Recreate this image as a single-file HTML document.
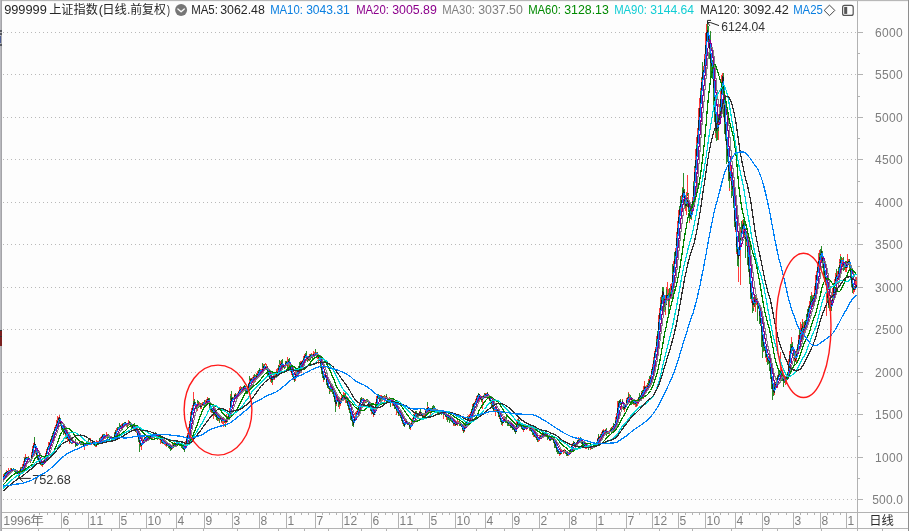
<!DOCTYPE html>
<html lang="zh-CN"><head><meta charset="utf-8"><title>999999 上证指数 日线 前复权</title>
<style>
html,body{margin:0;padding:0;background:#fdfdfd;}
body{width:909px;height:531px;overflow:hidden;position:relative;font-family:"Liberation Sans","Noto Sans CJK SC",sans-serif;}
svg{position:absolute;left:0;top:0;display:block;}
text{font-family:"Liberation Sans","Noto Sans CJK SC",sans-serif;font-size:12px;}
.ax{fill:#7d7d7d;}
.cj{font-family:"Noto Sans CJK SC","Liberation Sans",sans-serif;}
</style></head><body>
<svg width="909" height="531" viewBox="0 0 909 531" role="img" aria-label="上证指数 日线 K线图">
<rect x="0" y="0" width="909" height="531" fill="#fdfdfd"/>
<g id="grid" stroke="#b9b9b9" stroke-width="1" stroke-dasharray="1 3" shape-rendering="crispEdges">
<line x1="3" y1="499.5" x2="857" y2="499.5"/>
<line x1="3" y1="457.5" x2="857" y2="457.5"/>
<line x1="3" y1="414.5" x2="857" y2="414.5"/>
<line x1="3" y1="372.5" x2="857" y2="372.5"/>
<line x1="3" y1="329.5" x2="857" y2="329.5"/>
<line x1="3" y1="287.5" x2="857" y2="287.5"/>
<line x1="3" y1="244.5" x2="857" y2="244.5"/>
<line x1="3" y1="202.5" x2="857" y2="202.5"/>
<line x1="3" y1="159.5" x2="857" y2="159.5"/>
<line x1="3" y1="117.5" x2="857" y2="117.5"/>
<line x1="3" y1="74.5" x2="857" y2="74.5"/>
<line x1="3" y1="32.5" x2="857" y2="32.5"/>
</g>
<g id="frame" shape-rendering="crispEdges">
<rect x="0" y="0" width="909" height="1" fill="#b8b8b8"/>
<rect x="0" y="1" width="909" height="1" fill="#f4f4f4"/>
<rect x="0" y="0" width="1" height="531" fill="#b9b9be"/>
<rect x="1" y="0" width="1" height="531" fill="#a4a4a8"/>
<rect x="857" y="1" width="1" height="530" fill="#b2b2b2"/>
<rect x="2" y="512" width="907" height="1" fill="#b2b2b2"/>
<rect x="0" y="528" width="909" height="1" fill="#b2b2b2"/>
<rect x="908" y="0" width="1" height="531" fill="#8e8e8e"/>
<rect x="0" y="30" width="2" height="2" fill="#55585f"/>
<rect x="0" y="33" width="2" height="2" fill="#55585f"/>
<rect x="0" y="36" width="1" height="7" fill="#4d5d94"/>
<rect x="0" y="44" width="2" height="2" fill="#55585f"/>
<rect x="0" y="330" width="1.5" height="16" fill="#7a2020"/>
<rect x="0" y="330" width="1.5" height="1" fill="#333"/>
<rect x="0" y="336" width="1.5" height="1" fill="#333"/>
<rect x="1.5" y="331" width="0.6" height="15" fill="#6a96c8"/>
<rect x="0" y="465" width="1.4" height="1" fill="#777"/>
<rect x="0" y="470" width="1.4" height="9.5" fill="#d4d0a8"/>
</g>
<g id="yaxis">
<g stroke="#b2b2b2" stroke-width="1" shape-rendering="crispEdges">
<line x1="858" y1="499.5" x2="863" y2="499.5"/>
<line x1="858" y1="457.5" x2="863" y2="457.5"/>
<line x1="858" y1="414.5" x2="863" y2="414.5"/>
<line x1="858" y1="372.5" x2="863" y2="372.5"/>
<line x1="858" y1="329.5" x2="863" y2="329.5"/>
<line x1="858" y1="287.5" x2="863" y2="287.5"/>
<line x1="858" y1="244.5" x2="863" y2="244.5"/>
<line x1="858" y1="202.5" x2="863" y2="202.5"/>
<line x1="858" y1="159.5" x2="863" y2="159.5"/>
<line x1="858" y1="117.5" x2="863" y2="117.5"/>
<line x1="858" y1="74.5" x2="863" y2="74.5"/>
<line x1="858" y1="32.5" x2="863" y2="32.5"/>
<line x1="858" y1="53.5" x2="860" y2="53.5"/>
<line x1="858" y1="96.5" x2="860" y2="96.5"/>
<line x1="858" y1="138.5" x2="860" y2="138.5"/>
<line x1="858" y1="181.5" x2="860" y2="181.5"/>
<line x1="858" y1="223.5" x2="860" y2="223.5"/>
<line x1="858" y1="266.5" x2="860" y2="266.5"/>
<line x1="858" y1="308.5" x2="860" y2="308.5"/>
<line x1="858" y1="351.5" x2="860" y2="351.5"/>
<line x1="858" y1="393.5" x2="860" y2="393.5"/>
<line x1="858" y1="436.5" x2="860" y2="436.5"/>
<line x1="858" y1="478.5" x2="860" y2="478.5"/>
</g>
<text class="ax" x="872.3" y="503.8" textLength="30.6" lengthAdjust="spacing">500.0</text>
<text class="ax" x="875.0" y="461.8" textLength="27.8" lengthAdjust="spacing">1000</text>
<text class="ax" x="875.0" y="418.8" textLength="27.8" lengthAdjust="spacing">1500</text>
<text class="ax" x="875.0" y="376.8" textLength="27.8" lengthAdjust="spacing">2000</text>
<text class="ax" x="875.0" y="333.8" textLength="27.8" lengthAdjust="spacing">2500</text>
<text class="ax" x="875.0" y="291.8" textLength="27.8" lengthAdjust="spacing">3000</text>
<text class="ax" x="875.0" y="248.8" textLength="27.8" lengthAdjust="spacing">3500</text>
<text class="ax" x="875.0" y="206.8" textLength="27.8" lengthAdjust="spacing">4000</text>
<text class="ax" x="875.0" y="163.8" textLength="27.8" lengthAdjust="spacing">4500</text>
<text class="ax" x="875.0" y="121.8" textLength="27.8" lengthAdjust="spacing">5000</text>
<text class="ax" x="875.0" y="78.8" textLength="27.8" lengthAdjust="spacing">5500</text>
<text class="ax" x="875.0" y="36.8" textLength="27.8" lengthAdjust="spacing">6000</text>
</g>
<g id="xaxis">
<g stroke="#b2b2b2" stroke-width="1" shape-rendering="crispEdges">
<line x1="61.5" y1="513" x2="61.5" y2="528"/>
<line x1="88.5" y1="513" x2="88.5" y2="528"/>
<line x1="119.5" y1="513" x2="119.5" y2="528"/>
<line x1="146.5" y1="513" x2="146.5" y2="528"/>
<line x1="176.5" y1="513" x2="176.5" y2="528"/>
<line x1="204.5" y1="513" x2="204.5" y2="528"/>
<line x1="232.5" y1="513" x2="232.5" y2="528"/>
<line x1="259.5" y1="513" x2="259.5" y2="528"/>
<line x1="286.5" y1="513" x2="286.5" y2="528"/>
<line x1="315.5" y1="513" x2="315.5" y2="528"/>
<line x1="342.5" y1="513" x2="342.5" y2="528"/>
<line x1="371.5" y1="513" x2="371.5" y2="528"/>
<line x1="398.5" y1="513" x2="398.5" y2="528"/>
<line x1="429.5" y1="513" x2="429.5" y2="528"/>
<line x1="455.5" y1="513" x2="455.5" y2="528"/>
<line x1="485.5" y1="513" x2="485.5" y2="528"/>
<line x1="512.5" y1="513" x2="512.5" y2="528"/>
<line x1="539.5" y1="513" x2="539.5" y2="528"/>
<line x1="569.5" y1="513" x2="569.5" y2="528"/>
<line x1="596.5" y1="513" x2="596.5" y2="528"/>
<line x1="626.5" y1="513" x2="626.5" y2="528"/>
<line x1="652.5" y1="513" x2="652.5" y2="528"/>
<line x1="678.5" y1="513" x2="678.5" y2="528"/>
<line x1="705.5" y1="513" x2="705.5" y2="528"/>
<line x1="735.5" y1="513" x2="735.5" y2="528"/>
<line x1="762.5" y1="513" x2="762.5" y2="528"/>
<line x1="793.5" y1="513" x2="793.5" y2="528"/>
<line x1="820.5" y1="513" x2="820.5" y2="528"/>
<line x1="846.5" y1="513" x2="846.5" y2="528"/>
<line x1="68.5" y1="513" x2="68.5" y2="515"/>
<line x1="75.5" y1="513" x2="75.5" y2="515"/>
<line x1="82.5" y1="513" x2="82.5" y2="515"/>
<line x1="96.5" y1="513" x2="96.5" y2="515"/>
<line x1="104.5" y1="513" x2="104.5" y2="515"/>
<line x1="112.5" y1="513" x2="112.5" y2="515"/>
<line x1="126.5" y1="513" x2="126.5" y2="515"/>
<line x1="133.5" y1="513" x2="133.5" y2="515"/>
<line x1="140.5" y1="513" x2="140.5" y2="515"/>
<line x1="154.5" y1="513" x2="154.5" y2="515"/>
<line x1="161.5" y1="513" x2="161.5" y2="515"/>
<line x1="169.5" y1="513" x2="169.5" y2="515"/>
<line x1="183.5" y1="513" x2="183.5" y2="515"/>
<line x1="190.5" y1="513" x2="190.5" y2="515"/>
<line x1="198.5" y1="513" x2="198.5" y2="515"/>
<line x1="211.5" y1="513" x2="211.5" y2="515"/>
<line x1="218.5" y1="513" x2="218.5" y2="515"/>
<line x1="226.5" y1="513" x2="226.5" y2="515"/>
<line x1="239.5" y1="513" x2="239.5" y2="515"/>
<line x1="246.5" y1="513" x2="246.5" y2="515"/>
<line x1="253.5" y1="513" x2="253.5" y2="515"/>
<line x1="266.5" y1="513" x2="266.5" y2="515"/>
<line x1="273.5" y1="513" x2="273.5" y2="515"/>
<line x1="280.5" y1="513" x2="280.5" y2="515"/>
<line x1="294.5" y1="513" x2="294.5" y2="515"/>
<line x1="301.5" y1="513" x2="301.5" y2="515"/>
<line x1="308.5" y1="513" x2="308.5" y2="515"/>
<line x1="322.5" y1="513" x2="322.5" y2="515"/>
<line x1="329.5" y1="513" x2="329.5" y2="515"/>
<line x1="336.5" y1="513" x2="336.5" y2="515"/>
<line x1="350.5" y1="513" x2="350.5" y2="515"/>
<line x1="357.5" y1="513" x2="357.5" y2="515"/>
<line x1="364.5" y1="513" x2="364.5" y2="515"/>
<line x1="378.5" y1="513" x2="378.5" y2="515"/>
<line x1="385.5" y1="513" x2="385.5" y2="515"/>
<line x1="392.5" y1="513" x2="392.5" y2="515"/>
<line x1="406.5" y1="513" x2="406.5" y2="515"/>
<line x1="414.5" y1="513" x2="414.5" y2="515"/>
<line x1="422.5" y1="513" x2="422.5" y2="515"/>
<line x1="436.5" y1="513" x2="436.5" y2="515"/>
<line x1="442.5" y1="513" x2="442.5" y2="515"/>
<line x1="449.5" y1="513" x2="449.5" y2="515"/>
<line x1="463.5" y1="513" x2="463.5" y2="515"/>
<line x1="470.5" y1="513" x2="470.5" y2="515"/>
<line x1="478.5" y1="513" x2="478.5" y2="515"/>
<line x1="492.5" y1="513" x2="492.5" y2="515"/>
<line x1="499.5" y1="513" x2="499.5" y2="515"/>
<line x1="506.5" y1="513" x2="506.5" y2="515"/>
<line x1="519.5" y1="513" x2="519.5" y2="515"/>
<line x1="526.5" y1="513" x2="526.5" y2="515"/>
<line x1="533.5" y1="513" x2="533.5" y2="515"/>
<line x1="547.5" y1="513" x2="547.5" y2="515"/>
<line x1="554.5" y1="513" x2="554.5" y2="515"/>
<line x1="562.5" y1="513" x2="562.5" y2="515"/>
<line x1="576.5" y1="513" x2="576.5" y2="515"/>
<line x1="583.5" y1="513" x2="583.5" y2="515"/>
<line x1="590.5" y1="513" x2="590.5" y2="515"/>
<line x1="604.5" y1="513" x2="604.5" y2="515"/>
<line x1="611.5" y1="513" x2="611.5" y2="515"/>
<line x1="619.5" y1="513" x2="619.5" y2="515"/>
<line x1="633.5" y1="513" x2="633.5" y2="515"/>
<line x1="639.5" y1="513" x2="639.5" y2="515"/>
<line x1="646.5" y1="513" x2="646.5" y2="515"/>
<line x1="659.5" y1="513" x2="659.5" y2="515"/>
<line x1="665.5" y1="513" x2="665.5" y2="515"/>
<line x1="672.5" y1="513" x2="672.5" y2="515"/>
<line x1="685.5" y1="513" x2="685.5" y2="515"/>
<line x1="692.5" y1="513" x2="692.5" y2="515"/>
<line x1="699.5" y1="513" x2="699.5" y2="515"/>
<line x1="713.5" y1="513" x2="713.5" y2="515"/>
<line x1="720.5" y1="513" x2="720.5" y2="515"/>
<line x1="728.5" y1="513" x2="728.5" y2="515"/>
<line x1="742.5" y1="513" x2="742.5" y2="515"/>
<line x1="749.5" y1="513" x2="749.5" y2="515"/>
<line x1="756.5" y1="513" x2="756.5" y2="515"/>
<line x1="770.5" y1="513" x2="770.5" y2="515"/>
<line x1="778.5" y1="513" x2="778.5" y2="515"/>
<line x1="786.5" y1="513" x2="786.5" y2="515"/>
<line x1="800.5" y1="513" x2="800.5" y2="515"/>
<line x1="807.5" y1="513" x2="807.5" y2="515"/>
<line x1="814.5" y1="513" x2="814.5" y2="515"/>
<line x1="827.5" y1="513" x2="827.5" y2="515"/>
<line x1="833.5" y1="513" x2="833.5" y2="515"/>
<line x1="840.5" y1="513" x2="840.5" y2="515"/>
<line x1="39.5" y1="513" x2="39.5" y2="515"/>
<line x1="47.5" y1="513" x2="47.5" y2="515"/>
<line x1="54.5" y1="513" x2="54.5" y2="515"/>
</g>
<text class="ax" x="3.23" y="524.9" textLength="27.73" lengthAdjust="spacingAndGlyphs">1996</text>
<text class="ax cj" x="30.04" y="525.3" textLength="13.92" lengthAdjust="spacingAndGlyphs">年</text>
<text class="ax" x="62.5" y="524.9" textLength="6.67" lengthAdjust="spacing">6</text>
<text class="ax" x="89.5" y="524.9" textLength="13.7" lengthAdjust="spacing">11</text>
<text class="ax" x="120.5" y="524.9" textLength="6.67" lengthAdjust="spacing">5</text>
<text class="ax" x="147.5" y="524.9" textLength="13.7" lengthAdjust="spacing">10</text>
<text class="ax" x="177.5" y="524.9" textLength="6.67" lengthAdjust="spacing">4</text>
<text class="ax" x="205.5" y="524.9" textLength="6.67" lengthAdjust="spacing">9</text>
<text class="ax" x="233.5" y="524.9" textLength="6.67" lengthAdjust="spacing">3</text>
<text class="ax" x="260.5" y="524.9" textLength="6.67" lengthAdjust="spacing">8</text>
<text class="ax" x="287.5" y="524.9" textLength="6.67" lengthAdjust="spacing">1</text>
<text class="ax" x="316.5" y="524.9" textLength="6.67" lengthAdjust="spacing">7</text>
<text class="ax" x="343.5" y="524.9" textLength="13.7" lengthAdjust="spacing">12</text>
<text class="ax" x="372.5" y="524.9" textLength="6.67" lengthAdjust="spacing">6</text>
<text class="ax" x="399.5" y="524.9" textLength="13.7" lengthAdjust="spacing">11</text>
<text class="ax" x="430.5" y="524.9" textLength="6.67" lengthAdjust="spacing">5</text>
<text class="ax" x="456.5" y="524.9" textLength="13.7" lengthAdjust="spacing">10</text>
<text class="ax" x="486.5" y="524.9" textLength="6.67" lengthAdjust="spacing">4</text>
<text class="ax" x="513.5" y="524.9" textLength="6.67" lengthAdjust="spacing">9</text>
<text class="ax" x="540.5" y="524.9" textLength="6.67" lengthAdjust="spacing">2</text>
<text class="ax" x="570.5" y="524.9" textLength="6.67" lengthAdjust="spacing">8</text>
<text class="ax" x="597.5" y="524.9" textLength="6.67" lengthAdjust="spacing">1</text>
<text class="ax" x="627.5" y="524.9" textLength="6.67" lengthAdjust="spacing">7</text>
<text class="ax" x="653.5" y="524.9" textLength="13.7" lengthAdjust="spacing">12</text>
<text class="ax" x="679.5" y="524.9" textLength="6.67" lengthAdjust="spacing">5</text>
<text class="ax" x="706.5" y="524.9" textLength="13.7" lengthAdjust="spacing">10</text>
<text class="ax" x="736.5" y="524.9" textLength="6.67" lengthAdjust="spacing">4</text>
<text class="ax" x="763.5" y="524.9" textLength="6.67" lengthAdjust="spacing">9</text>
<text class="ax" x="794.5" y="524.9" textLength="6.67" lengthAdjust="spacing">3</text>
<text class="ax" x="821.5" y="524.9" textLength="6.67" lengthAdjust="spacing">8</text>
<text class="ax" x="847.5" y="524.9" textLength="6.67" lengthAdjust="spacing">1</text>
<text class="cj" x="869.17" y="525.2" fill="#2a2a2a" textLength="24.67" lengthAdjust="spacingAndGlyphs">日线</text>
<g stroke="#b2b2b2" stroke-width="1" shape-rendering="crispEdges">
<line x1="38.5" y1="529" x2="38.5" y2="531"/>
<line x1="69.5" y1="529" x2="69.5" y2="531"/>
<line x1="111.5" y1="529" x2="111.5" y2="531"/>
<line x1="140.5" y1="529" x2="140.5" y2="531"/>
<line x1="173.5" y1="529" x2="173.5" y2="531"/>
<line x1="203.5" y1="529" x2="203.5" y2="531"/>
<line x1="237.5" y1="529" x2="237.5" y2="531"/>
<line x1="278.5" y1="529" x2="278.5" y2="531"/>
<line x1="304.5" y1="529" x2="304.5" y2="531"/>
<line x1="328.5" y1="529" x2="328.5" y2="531"/>
<line x1="361.5" y1="529" x2="361.5" y2="531"/>
<line x1="386.5" y1="529" x2="386.5" y2="531"/>
<line x1="417.5" y1="529" x2="417.5" y2="531"/>
<line x1="476.5" y1="529" x2="476.5" y2="531"/>
<line x1="504.5" y1="529" x2="504.5" y2="531"/>
<line x1="532.5" y1="529" x2="532.5" y2="531"/>
<line x1="564.5" y1="529" x2="564.5" y2="531"/>
<line x1="596.5" y1="529" x2="596.5" y2="531"/>
<line x1="624.5" y1="529" x2="624.5" y2="531"/>
<line x1="659.5" y1="529" x2="659.5" y2="531"/>
<line x1="692.5" y1="529" x2="692.5" y2="531"/>
<line x1="731.5" y1="529" x2="731.5" y2="531"/>
<line x1="762.5" y1="529" x2="762.5" y2="531"/>
<line x1="777.5" y1="529" x2="777.5" y2="531"/>
<line x1="821.5" y1="529" x2="821.5" y2="531"/>
<line x1="857.5" y1="529" x2="857.5" y2="531"/>
<line x1="882.5" y1="529" x2="882.5" y2="531"/>
</g></g>
<g id="candles" stroke-width="1" fill="none" shape-rendering="crispEdges">
<path stroke="#ff3c3c" d="M3.5 474.9V477.1M3.5 474.1V477.0M4.5 474.0V476.8M5.5 474.5V476.1M5.5 471.8V476.3M5.5 471.6V474.7M6.5 472.2V474.4M6.5 470.2V472.6M7.5 471.7V473.0M7.5 470.8V472.0M7.5 471.4V472.9M8.5 470.9V472.7M8.5 468.0V471.5M12.5 468.8V470.4M14.5 469.9V471.1M15.5 469.7V471.7M16.5 471.3V473.5M17.5 473.1V474.1M17.5 472.7V474.1M19.5 475.8V479.1M19.5 472.5V476.6M20.5 467.8V470.2M21.5 468.2V471.5M21.5 469.0V470.0M22.5 468.0V469.0M22.5 466.3V469.6M23.5 462.9V466.0M23.5 461.0V464.5M24.5 460.1V462.4M25.5 454.0V458.5M25.5 457.0V458.4M26.5 456.7V458.1M26.5 456.5V458.0M26.5 457.4V458.5M29.5 460.9V462.3M29.5 460.5V461.5M30.5 460.1V461.5M30.5 458.8V460.9M32.5 449.5V452.8M33.5 442.9V446.5M34.5 439.3V444.8M39.5 460.3V461.3M40.5 462.8V465.4M40.5 462.2V463.6M41.5 463.6V465.8M41.5 464.2V465.4M42.5 462.2V466.9M42.5 462.5V464.4M43.5 461.3V463.7M44.5 461.7V463.9M44.5 459.9V463.9M44.5 458.8V460.9M45.5 452.5V455.9M47.5 448.4V449.9M47.5 446.5V448.2M48.5 442.3V447.8M49.5 442.5V444.6M50.5 440.3V443.0M51.5 437.8V439.6M51.5 436.1V441.2M52.5 435.7V437.9M52.5 432.5V437.0M53.5 430.5V434.2M54.5 427.5V430.6M54.5 426.7V428.6M55.5 425.3V428.8M55.5 426.1V429.4M56.5 422.9V428.0M57.5 419.9V422.9M57.5 418.4V422.3M59.5 415.1V418.5M60.5 424.7V425.7M61.5 425.4V429.5M63.5 427.7V430.4M64.5 431.6V434.0M65.5 434.2V438.7M68.5 436.5V438.7M69.5 439.5V443.0M70.5 440.5V442.2M70.5 441.8V442.8M72.5 440.7V442.7M72.5 440.4V444.1M74.5 441.7V443.2M78.5 443.8V444.8M80.5 441.5V444.2M81.5 443.6V444.7M82.5 442.3V444.5M84.5 444.6V449.7M85.5 442.6V445.7M86.5 442.6V446.1M87.5 443.2V445.6M88.5 443.4V444.4M89.5 442.6V445.1M90.5 443.1V445.2M92.5 440.1V444.4M92.5 440.0V443.5M92.5 440.5V442.3M95.5 443.7V445.2M95.5 445.7V447.0M96.5 440.2V444.9M97.5 441.2V442.9M98.5 441.3V444.0M99.5 438.7V441.0M101.5 438.0V439.0M102.5 434.3V435.7M103.5 434.8V437.1M104.5 434.1V436.5M104.5 434.5V436.3M105.5 435.5V438.8M105.5 435.7V438.0M106.5 432.2V436.4M106.5 435.1V436.7M110.5 437.3V439.4M111.5 437.7V439.0M113.5 437.3V439.4M114.5 435.1V438.3M114.5 432.1V438.9M115.5 431.6V433.2M116.5 431.0V432.0M118.5 427.0V429.0M119.5 426.1V428.5M119.5 426.9V428.2M120.5 425.5V428.1M121.5 423.5V426.4M122.5 424.2V426.1M122.5 422.7V425.8M123.5 423.4V425.4M123.5 422.9V426.3M124.5 423.3V425.3M125.5 422.0V423.8M126.5 422.8V424.3M128.5 423.0V425.6M128.5 423.0V424.1M128.5 421.8V423.6M130.5 423.3V424.8M130.5 422.9V425.7M132.5 426.7V428.5M136.5 430.4V432.6M139.5 440.6V442.8M141.5 444.4V447.4M141.5 443.6V445.8M142.5 441.4V444.7M142.5 440.3V443.2M142.5 439.1V442.8M143.5 438.8V441.5M144.5 437.2V439.2M145.5 437.0V439.4M147.5 437.1V438.7M148.5 436.5V438.9M149.5 437.4V438.4M151.5 435.7V439.2M152.5 437.3V439.0M153.5 435.3V436.5M153.5 434.4V437.0M154.5 435.3V436.9M157.5 434.8V437.0M157.5 434.8V436.8M158.5 436.7V438.5M159.5 437.1V438.4M159.5 436.0V439.5M161.5 440.3V441.8M162.5 441.3V443.5M163.5 442.0V443.3M166.5 444.5V445.8M168.5 442.9V447.4M169.5 445.6V447.3M170.5 448.2V450.0M171.5 447.0V448.5M172.5 446.3V448.9M172.5 445.1V447.0M173.5 444.8V446.9M174.5 444.2V445.8M174.5 441.8V445.6M174.5 443.0V444.1M176.5 442.2V444.7M177.5 441.9V442.9M178.5 441.4V442.5M178.5 441.4V442.4M178.5 441.1V443.7M180.5 443.2V445.8M181.5 444.5V445.5M184.5 447.0V451.3M185.5 445.8V448.6M185.5 446.2V448.1M185.5 440.6V448.7M185.5 441.0V445.4M186.5 442.1V443.3M186.5 440.7V444.0M186.5 438.9V441.6M186.5 436.1V440.1M187.5 432.8V436.8M188.5 427.3V430.5M189.5 425.9V428.5M189.5 420.8V422.8M190.5 418.7V421.6M190.5 411.8V417.5M191.5 412.9V413.9M191.5 410.0V413.2M193.5 406.6V408.1M193.5 401.0V406.0M195.5 402.9V407.1M195.5 402.4V406.4M197.5 406.0V411.0M197.5 402.7V407.1M200.5 406.3V409.1M201.5 405.7V407.1M202.5 402.9V405.7M202.5 401.7V405.3M203.5 402.6V403.8M203.5 401.9V404.4M205.5 405.5V407.0M205.5 400.4V403.4M206.5 400.9V404.0M206.5 398.7V402.3M206.5 399.0V400.7M207.5 399.4V400.7M210.5 406.4V412.1M212.5 409.3V413.4M216.5 414.5V417.2M217.5 416.3V420.0M217.5 415.3V417.6M218.5 417.1V418.4M218.5 413.9V418.2M219.5 417.0V419.0M219.5 416.0V418.5M222.5 420.4V421.8M222.5 419.7V420.7M223.5 419.7V426.9M225.5 421.0V423.6M226.5 414.1V421.0M227.5 416.1V419.3M227.5 416.1V417.5M229.5 412.1V416.4M229.5 407.9V410.4M230.5 394.0V402.1M232.5 397.4V402.2M233.5 397.7V400.4M233.5 397.1V399.6M234.5 394.5V399.2M236.5 394.6V397.0M236.5 394.3V397.1M237.5 393.0V394.3M237.5 393.0V394.0M238.5 390.7V393.2M239.5 389.1V390.8M240.5 386.4V390.6M240.5 389.2V390.2M242.5 387.9V389.4M243.5 386.4V388.0M243.5 387.0V389.2M244.5 385.7V388.7M245.5 389.7V391.9M245.5 390.4V391.6M247.5 390.0V393.9M247.5 386.1V389.3M248.5 382.9V387.5M248.5 383.4V386.4M250.5 378.6V382.0M250.5 377.6V380.5M252.5 377.3V379.5M253.5 377.0V378.6M253.5 374.6V377.5M254.5 375.8V377.0M254.5 375.8V379.5M256.5 375.0V376.7M256.5 373.2V376.4M257.5 373.5V376.0M260.5 368.8V371.7M260.5 368.6V372.3M263.5 364.2V366.8M265.5 366.5V368.3M266.5 366.1V369.5M266.5 365.4V368.9M272.5 378.1V379.1M273.5 376.2V379.5M273.5 373.9V378.3M274.5 376.4V378.2M275.5 373.6V377.5M276.5 373.3V376.6M276.5 369.4V376.4M277.5 372.7V375.7M277.5 370.7V373.2M278.5 367.3V371.9M278.5 367.1V369.0M280.5 362.9V365.0M281.5 362.3V364.2M282.5 363.4V364.4M283.5 365.7V368.1M283.5 364.5V368.1M284.5 365.5V368.4M287.5 362.8V365.3M289.5 364.3V367.7M294.5 378.5V381.8M295.5 374.3V381.0M296.5 371.9V373.1M297.5 369.0V375.0M297.5 370.6V375.1M298.5 367.0V370.1M299.5 364.9V369.5M300.5 361.4V362.6M301.5 363.9V373.3M302.5 360.3V364.2M303.5 359.0V360.7M304.5 356.7V360.6M304.5 355.4V357.4M304.5 353.6V356.6M306.5 354.3V360.1M306.5 355.8V357.8M308.5 356.3V361.0M309.5 355.6V357.8M310.5 353.8V357.1M312.5 354.5V357.9M312.5 353.8V356.6M313.5 353.7V356.1M315.5 353.0V354.0M318.5 357.1V358.7M318.5 356.1V357.9M323.5 377.7V382.3M324.5 376.3V379.6M324.5 373.7V378.2M325.5 374.4V375.4M327.5 385.2V386.2M328.5 385.4V388.2M328.5 385.4V387.7M330.5 385.6V391.5M334.5 393.3V397.7M336.5 397.7V402.7M337.5 396.4V400.0M340.5 397.5V400.8M340.5 399.3V400.5M341.5 394.0V398.4M342.5 396.8V397.8M343.5 394.1V398.4M343.5 396.3V399.6M343.5 391.7V399.9M344.5 393.3V399.5M346.5 395.8V401.5M347.5 403.0V406.1M348.5 407.0V409.5M350.5 411.8V415.0M354.5 418.2V422.0M354.5 415.8V418.8M356.5 411.6V414.0M356.5 411.0V412.8M357.5 410.5V414.6M358.5 405.5V408.8M359.5 403.3V406.2M359.5 401.5V404.9M360.5 400.8V402.4M360.5 399.2V401.0M362.5 399.4V400.5M363.5 399.5V401.0M364.5 398.6V401.5M365.5 400.4V401.9M366.5 399.9V403.0M370.5 406.7V409.0M371.5 411.2V412.2M372.5 409.8V412.5M373.5 413.8V414.8M374.5 408.4V413.5M376.5 398.0V401.1M377.5 394.3V397.7M378.5 394.8V397.9M379.5 397.0V399.2M379.5 395.4V398.9M380.5 395.2V398.9M381.5 395.1V398.6M381.5 395.5V399.2M382.5 396.8V399.1M385.5 397.2V401.2M386.5 397.2V398.6M389.5 397.4V401.0M390.5 399.6V401.2M393.5 402.0V405.7M394.5 404.1V406.2M399.5 414.0V415.8M399.5 410.6V415.5M402.5 421.7V424.2M402.5 421.1V423.5M403.5 422.0V423.5M404.5 424.2V426.4M405.5 422.8V424.6M405.5 421.1V423.9M405.5 420.2V421.2M406.5 419.6V423.8M407.5 423.3V424.3M407.5 422.3V424.7M408.5 423.3V424.5M410.5 425.9V427.8M411.5 424.0V426.0M411.5 422.5V424.0M412.5 420.0V422.8M413.5 414.8V417.1M414.5 415.0V416.9M414.5 414.4V417.1M415.5 412.5V416.2M417.5 412.8V414.9M418.5 413.7V415.6M419.5 411.5V414.2M420.5 411.7V414.4M421.5 413.5V415.5M423.5 414.0V415.0M425.5 408.8V411.7M426.5 408.4V411.2M426.5 409.3V411.9M427.5 408.0V410.9M429.5 409.7V411.2M430.5 408.3V411.3M431.5 409.1V410.5M432.5 407.4V410.5M434.5 408.9V410.6M436.5 409.9V411.9M436.5 410.0V412.9M437.5 409.5V411.7M439.5 411.6V414.3M442.5 413.3V414.3M443.5 411.8V414.9M444.5 412.5V414.4M446.5 414.7V417.4M447.5 416.6V419.7M448.5 415.2V418.0M450.5 418.8V421.0M451.5 418.8V420.1M452.5 419.6V421.7M453.5 422.4V425.6M454.5 422.1V423.4M456.5 422.7V425.0M456.5 421.6V424.5M457.5 422.0V425.6M457.5 420.1V424.0M459.5 423.3V424.3M460.5 424.7V426.3M460.5 424.1V425.1M460.5 424.0V426.3M462.5 429.5V430.5M463.5 430.3V431.4M464.5 425.5V428.0M464.5 424.3V427.9M465.5 422.0V425.3M466.5 420.8V422.3M467.5 419.1V422.0M468.5 414.9V418.7M468.5 416.3V417.3M469.5 415.7V420.2M469.5 416.1V419.4M469.5 413.8V417.8M471.5 411.8V413.6M472.5 409.2V412.0M472.5 403.9V408.8M473.5 402.6V405.6M474.5 402.3V406.0M475.5 398.7V403.8M476.5 398.4V399.7M477.5 395.0V398.2M477.5 394.5V398.6M480.5 397.6V400.4M480.5 397.9V399.6M482.5 397.1V402.3M483.5 394.8V399.4M483.5 394.9V396.6M486.5 394.2V395.2M489.5 400.1V401.1M493.5 409.4V411.1M494.5 408.0V410.9M495.5 409.8V416.3M497.5 409.2V411.1M497.5 409.4V411.5M501.5 419.7V421.3M501.5 419.9V421.0M502.5 421.4V426.2M503.5 420.8V422.1M503.5 420.8V422.8M504.5 418.7V422.0M504.5 418.9V421.1M504.5 416.2V419.4M507.5 421.8V424.2M508.5 421.4V423.9M509.5 424.0V426.3M510.5 423.7V427.6M513.5 427.5V429.0M516.5 427.2V431.3M516.5 425.4V428.8M518.5 416.2V423.1M519.5 422.7V425.0M522.5 428.4V430.2M523.5 426.8V428.6M524.5 428.1V429.3M527.5 427.2V428.2M527.5 426.6V428.5M529.5 427.4V428.6M531.5 430.4V432.0M532.5 430.6V431.6M532.5 433.3V434.4M533.5 433.6V436.6M534.5 435.8V436.9M535.5 435.0V437.9M535.5 434.5V437.2M538.5 438.3V442.3M539.5 438.9V440.1M539.5 437.0V439.3M540.5 435.2V437.2M540.5 436.1V437.1M541.5 435.7V438.7M544.5 433.1V435.1M545.5 432.8V435.3M545.5 435.5V436.6M549.5 439.6V441.1M550.5 439.0V440.0M550.5 438.0V441.1M551.5 435.9V439.2M553.5 439.9V440.9M557.5 449.1V452.0M557.5 449.6V453.0M559.5 452.6V453.6M559.5 453.0V454.6M560.5 451.9V455.1M560.5 450.3V452.0M561.5 451.4V453.4M564.5 450.9V453.2M567.5 453.7V455.5M569.5 450.6V452.2M571.5 446.3V450.0M572.5 443.5V444.5M572.5 443.3V445.1M573.5 442.3V444.3M573.5 441.5V444.3M574.5 442.0V444.6M576.5 443.0V444.0M576.5 442.3V444.9M577.5 439.8V445.0M578.5 439.7V440.7M578.5 436.7V440.9M579.5 438.0V441.6M579.5 438.6V440.3M580.5 440.4V441.9M580.5 439.6V441.5M581.5 440.2V443.5M582.5 442.6V447.4M582.5 442.5V443.8M583.5 443.8V444.9M584.5 444.7V446.5M586.5 446.2V447.9M590.5 445.9V450.0M591.5 446.3V447.8M592.5 446.5V448.3M593.5 445.4V447.2M595.5 443.9V446.2M595.5 443.1V445.1M596.5 442.5V444.8M596.5 443.0V444.6M596.5 442.0V444.4M599.5 437.2V440.2M601.5 434.8V437.5M601.5 433.3V438.2M602.5 431.2V434.1M603.5 429.9V433.2M604.5 430.5V432.7M607.5 431.4V432.8M607.5 431.7V432.7M608.5 431.8V434.3M609.5 430.3V434.8M609.5 430.2V432.6M610.5 428.9V432.1M611.5 427.9V429.6M613.5 422.7V425.9M614.5 423.8V425.6M614.5 423.6V424.6M615.5 416.6V419.5M616.5 415.4V418.9M616.5 413.3V417.2M617.5 405.9V411.4M617.5 400.7V408.7M618.5 403.1V406.2M618.5 401.6V403.3M619.5 401.4V403.8M619.5 400.8V401.9M619.5 400.2V401.5M621.5 404.7V410.6M621.5 402.5V407.6M622.5 400.4V403.5M622.5 399.0V402.2M624.5 407.3V411.6M625.5 404.9V408.1M625.5 403.8V406.8M626.5 401.2V406.3M626.5 400.1V401.8M628.5 396.5V404.1M628.5 394.9V397.9M629.5 394.4V399.2M631.5 397.8V401.5M633.5 401.5V403.9M633.5 402.9V404.9M636.5 400.9V406.8M637.5 399.1V403.4M638.5 398.0V404.1M638.5 397.2V399.2M639.5 396.6V400.1M640.5 394.5V398.0M640.5 396.6V397.6M640.5 395.2V397.4M641.5 394.0V396.3M641.5 392.2V393.4M643.5 391.6V395.9M643.5 389.8V398.7M643.5 386.1V390.9M644.5 381.4V388.4M645.5 386.0V389.8M645.5 386.7V389.4M645.5 386.4V390.8M646.5 385.8V389.6M648.5 378.9V386.6M649.5 378.9V386.2M649.5 377.4V380.0M652.5 363.9V371.3M655.5 347.9V351.2M657.5 333.1V336.4M657.5 331.8V341.5M658.5 318.5V334.0M658.5 317.7V328.0M658.5 315.2V321.3M659.5 314.8V330.4M659.5 311.0V317.8M659.5 307.6V312.8M660.5 304.9V310.1M661.5 304.4V307.7M661.5 298.3V309.9M661.5 295.4V299.8M662.5 287.4V294.6M663.5 297.3V302.7M665.5 299.6V309.2M665.5 295.4V306.9M666.5 287.3V300.0M666.5 288.4V291.9M669.5 294.4V300.1M669.5 293.6V304.0M670.5 283.7V298.0M670.5 289.3V298.1M672.5 273.3V282.4M672.5 270.7V278.1M673.5 266.7V271.6M673.5 260.9V279.4M674.5 256.0V263.3M676.5 241.4V251.5M677.5 225.8V235.2M677.5 228.0V232.4M678.5 213.8V225.3M678.5 209.9V214.3M679.5 205.8V212.8M680.5 200.3V208.8M680.5 195.7V211.1M681.5 201.0V209.4M682.5 189.9V199.3M682.5 188.6V194.0M682.5 187.3V193.2M685.5 200.5V211.2M686.5 194.3V212.3M689.5 210.5V223.3M690.5 209.6V216.7M691.5 206.3V219.6M693.5 188.1V195.5M694.5 173.7V179.5M695.5 168.6V172.2M695.5 163.4V170.2M695.5 148.5V168.8M695.5 152.8V182.5M697.5 133.5V146.3M697.5 128.4V139.8M698.5 118.7V136.4M698.5 120.1V122.8M698.5 114.5V123.6M700.5 91.4V103.7M700.5 88.2V95.4M701.5 77.8V92.4M701.5 77.0V85.6M702.5 66.9V71.2M703.5 65.6V78.4M704.5 63.0V71.8M704.5 57.9V66.7M705.5 48.2V54.8M705.5 39.7V54.0M705.5 39.9V51.7M705.5 32.5V45.0M706.5 32.5V37.6M706.5 29.1V36.9M706.5 23.8V34.2M706.5 32.0V35.4M707.5 32.0V33.0M707.5 32.0V33.0M711.5 60.1V66.4M711.5 64.2V69.9M714.5 100.7V113.5M715.5 126.3V138.3M716.5 124.2V128.2M717.5 123.5V128.3M719.5 112.8V123.8M719.5 110.2V123.2M721.5 86.3V94.5M721.5 75.3V101.1M722.5 75.3V87.6M722.5 74.0V86.7M726.5 137.1V143.6M729.5 170.3V180.7M729.5 176.0V191.2M729.5 168.3V182.6M730.5 171.7V180.5M731.5 185.3V191.3M735.5 224.6V232.1M735.5 225.0V230.9M738.5 259.0V281.9M738.5 256.1V266.8M738.5 253.6V262.6M739.5 239.3V256.1M739.5 239.6V243.4M739.5 222.8V247.2M740.5 233.8V243.7M741.5 227.4V239.1M741.5 224.5V230.5M742.5 221.2V232.6M742.5 219.5V230.7M743.5 220.0V228.9M743.5 221.9V230.8M746.5 239.4V242.1M753.5 298.3V302.6M754.5 296.5V305.2M756.5 299.4V300.6M757.5 303.1V306.6M758.5 302.2V305.0M762.5 339.8V342.9M763.5 342.7V348.4M765.5 347.7V353.0M765.5 353.6V358.1M768.5 359.0V362.2M768.5 355.6V361.4M772.5 383.9V389.0M772.5 387.2V390.7M773.5 391.0V394.1M773.5 391.0V395.5M774.5 381.7V390.7M776.5 379.5V386.1M777.5 375.4V384.5M777.5 374.7V377.9M778.5 374.9V377.1M780.5 352.1V371.4M780.5 369.7V372.3M781.5 366.8V370.1M782.5 373.9V376.8M784.5 377.9V380.2M784.5 377.6V381.0M785.5 379.8V385.0M786.5 374.3V377.2M787.5 371.6V377.9M788.5 363.0V372.5M788.5 358.6V366.5M789.5 352.8V359.9M789.5 351.1V354.9M790.5 348.8V351.8M790.5 345.8V353.6M791.5 345.9V349.5M795.5 358.3V362.4M796.5 352.4V356.4M797.5 346.0V349.9M797.5 343.9V348.6M798.5 340.4V344.1M798.5 334.6V337.6M799.5 333.4V338.6M800.5 331.3V335.1M801.5 325.7V333.8M802.5 318.7V327.8M803.5 322.0V335.8M803.5 325.2V338.9M803.5 324.2V330.7M804.5 324.6V332.2M804.5 322.6V331.2M805.5 320.5V324.8M806.5 321.5V328.4M806.5 318.6V322.3M807.5 311.6V319.1M807.5 311.1V316.9M809.5 303.8V310.2M810.5 300.9V305.2M810.5 300.1V301.8M810.5 298.9V305.5M812.5 294.9V305.2M812.5 298.5V304.9M813.5 296.3V303.3M814.5 295.7V299.8M814.5 289.1V299.1M814.5 286.3V292.9M815.5 280.5V289.6M815.5 275.2V282.1M816.5 275.7V280.7M817.5 262.0V266.8M818.5 264.2V267.9M818.5 253.1V261.9M819.5 253.9V261.8M819.5 250.3V255.8M820.5 248.8V262.5M821.5 246.2V252.1M822.5 256.2V261.3M827.5 291.7V298.1M829.5 301.7V307.3M832.5 290.5V297.3M832.5 287.9V295.1M836.5 269.8V283.5M837.5 278.6V281.4M837.5 271.3V278.0M838.5 267.8V275.1M839.5 265.9V269.7M839.5 259.3V262.3M840.5 253.6V266.3M840.5 255.2V263.1M841.5 258.8V266.2M841.5 259.3V261.6M842.5 257.6V261.2M842.5 257.8V263.4M844.5 261.6V265.4M845.5 264.9V270.6M846.5 262.0V268.4M847.5 261.2V268.1M848.5 261.9V264.9M848.5 259.7V263.7M852.5 284.4V289.7M853.5 288.5V293.7M854.5 287.2V290.3M855.5 287.8V290.2"/>
<path stroke="#2a8c2a" d="M4.5 473.8V476.9M4.5 472.6V476.4M5.5 472.4V474.7M9.5 470.5V471.5M11.5 469.1V470.1M11.5 468.3V470.8M11.5 469.7V471.2M12.5 469.2V470.7M13.5 469.1V471.3M13.5 469.8V470.8M13.5 468.1V470.9M14.5 470.2V471.6M15.5 470.2V471.6M16.5 470.4V474.3M16.5 472.0V473.3M16.5 472.6V474.1M18.5 474.6V477.5M21.5 467.2V469.8M22.5 468.5V469.6M23.5 464.3V465.3M25.5 457.3V458.5M30.5 459.1V462.5M32.5 447.2V448.4M35.5 444.5V448.7M36.5 451.5V456.2M36.5 454.0V458.3M37.5 454.7V456.5M37.5 456.1V458.4M37.5 458.2V459.8M38.5 458.3V459.6M38.5 458.5V459.7M38.5 458.5V461.2M39.5 460.2V461.2M39.5 460.2V463.4M39.5 461.5V463.6M41.5 462.9V465.2M46.5 449.8V452.4M47.5 447.0V450.3M48.5 444.9V445.9M49.5 441.5V443.3M50.5 441.4V442.4M51.5 437.8V440.5M51.5 436.1V439.4M52.5 433.0V437.4M53.5 430.8V433.3M55.5 426.1V427.4M57.5 416.4V423.6M59.5 419.4V422.8M60.5 418.3V424.5M60.5 424.6V426.0M61.5 422.6V428.0M61.5 425.9V429.6M62.5 426.3V430.8M65.5 432.5V434.7M65.5 433.9V435.3M66.5 435.4V436.7M66.5 435.4V437.8M68.5 438.1V440.5M68.5 439.2V440.7M69.5 439.9V441.4M69.5 440.6V442.8M71.5 442.4V443.6M71.5 442.1V444.1M73.5 441.5V442.7M73.5 440.4V442.9M74.5 441.5V442.6M75.5 442.8V443.9M76.5 444.1V445.4M76.5 443.7V445.8M79.5 442.7V443.8M79.5 440.3V443.3M80.5 442.5V445.0M81.5 442.3V444.3M81.5 442.2V445.0M82.5 441.3V442.8M82.5 441.9V445.1M85.5 442.6V443.8M86.5 442.4V445.0M86.5 444.1V445.3M87.5 443.8V445.3M88.5 438.7V444.1M89.5 443.6V444.6M90.5 442.7V444.3M91.5 442.8V444.9M91.5 444.0V445.0M93.5 441.4V442.4M93.5 441.4V444.0M94.5 442.6V445.5M97.5 442.1V444.8M99.5 439.4V440.4M101.5 437.7V439.2M102.5 434.4V437.2M103.5 434.4V436.2M103.5 434.3V437.3M104.5 433.6V435.2M105.5 435.9V436.9M107.5 434.1V436.5M109.5 438.5V440.1M110.5 436.6V439.0M110.5 437.9V439.4M111.5 438.4V439.4M112.5 437.3V438.3M113.5 437.3V440.2M117.5 426.8V430.9M117.5 427.8V429.8M119.5 426.1V427.5M120.5 425.0V428.5M121.5 426.8V429.4M121.5 425.8V428.6M122.5 424.2V425.2M122.5 423.5V429.9M123.5 423.5V424.5M126.5 424.3V425.6M127.5 423.5V425.2M129.5 421.3V422.4M129.5 421.5V425.2M131.5 424.7V426.1M131.5 425.8V429.0M133.5 427.6V428.6M135.5 428.5V430.2M136.5 429.5V431.4M137.5 431.2V433.4M137.5 430.9V435.5M137.5 434.2V436.8M138.5 436.2V437.6M138.5 436.4V438.7M138.5 437.9V440.5M138.5 438.2V441.5M139.5 442.3V444.3M139.5 439.8V444.0M140.5 443.0V444.8M143.5 439.8V440.8M144.5 437.8V441.0M145.5 437.7V438.7M145.5 436.9V438.8M146.5 437.2V438.2M146.5 437.3V438.3M147.5 436.9V438.8M147.5 439.2V440.2M148.5 436.6V439.3M149.5 435.4V437.6M150.5 434.3V437.2M151.5 437.3V439.0M151.5 436.5V438.6M151.5 435.6V436.6M153.5 436.1V437.2M157.5 435.5V440.4M157.5 434.4V437.5M158.5 436.3V439.0M159.5 437.2V438.5M160.5 438.4V440.6M161.5 438.6V442.0M161.5 440.2V442.0M161.5 441.3V442.6M163.5 442.7V444.4M164.5 443.2V444.6M165.5 441.7V444.6M166.5 443.6V446.7M167.5 443.3V445.8M167.5 444.5V445.7M168.5 444.2V445.5M169.5 445.9V447.4M170.5 446.3V450.6M171.5 447.0V449.5M171.5 447.1V449.2M173.5 444.1V445.8M175.5 444.7V445.7M179.5 442.9V444.8M179.5 443.7V444.7M183.5 449.2V450.2M184.5 449.2V450.4M187.5 436.0V439.1M187.5 435.7V436.7M188.5 434.1V435.1M190.5 416.0V417.0M192.5 406.1V409.7M193.5 400.5V402.5M194.5 404.2V405.3M195.5 402.3V407.2M196.5 404.7V406.8M196.5 404.6V408.5M196.5 405.6V407.9M197.5 400.3V405.7M198.5 401.4V404.6M198.5 403.1V408.4M199.5 404.3V406.7M199.5 403.8V406.8M200.5 403.2V408.4M200.5 404.9V408.4M202.5 403.7V405.9M204.5 401.0V405.1M204.5 402.6V405.6M206.5 401.1V403.2M208.5 397.8V404.3M209.5 403.1V407.8M209.5 406.8V410.2M210.5 406.2V408.5M211.5 407.8V411.2M211.5 408.2V411.2M212.5 409.7V410.7M212.5 408.7V412.9M213.5 411.7V414.6M213.5 413.2V415.3M214.5 411.5V414.6M215.5 412.7V416.5M215.5 414.4V415.7M216.5 415.2V416.6M216.5 414.6V419.6M220.5 417.3V420.0M221.5 418.1V421.5M223.5 416.5V420.3M223.5 417.8V420.5M226.5 419.1V420.3M226.5 416.7V419.9M227.5 419.3V421.7M231.5 396.9V399.7M231.5 398.3V399.7M231.5 397.4V403.4M232.5 396.8V399.0M232.5 397.5V399.3M234.5 395.3V397.4M235.5 394.0V395.6M237.5 393.0V398.5M240.5 389.2V390.4M241.5 388.5V390.5M243.5 386.2V389.6M243.5 385.6V389.2M244.5 386.7V387.8M245.5 385.7V389.9M246.5 389.1V391.8M246.5 389.5V393.2M247.5 393.3V394.3M248.5 382.5V385.5M249.5 376.4V383.0M251.5 378.6V379.8M251.5 378.4V381.4M255.5 374.6V379.1M255.5 378.4V380.1M256.5 374.3V376.3M257.5 372.3V375.6M259.5 368.3V373.5M259.5 369.2V372.8M261.5 368.9V370.9M261.5 369.1V374.0M263.5 364.6V367.6M264.5 365.4V367.6M264.5 364.4V369.6M266.5 365.5V369.6M267.5 368.4V371.7M267.5 365.5V375.7M268.5 373.0V375.2M268.5 374.3V376.3M269.5 373.5V377.1M269.5 372.1V377.5M270.5 375.3V379.5M270.5 377.1V378.3M270.5 375.9V380.7M271.5 378.4V380.9M273.5 373.8V377.6M273.5 374.4V376.5M274.5 375.6V378.5M275.5 374.7V377.6M279.5 365.9V367.2M279.5 360.1V366.8M280.5 363.2V365.1M281.5 362.4V364.7M281.5 362.8V367.5M282.5 358.8V365.2M283.5 363.7V367.6M284.5 365.2V366.2M284.5 365.3V369.1M288.5 358.9V361.1M289.5 361.1V364.6M289.5 364.1V371.2M290.5 365.8V370.3M290.5 366.0V372.4M291.5 370.9V373.9M291.5 371.9V374.7M292.5 373.1V377.0M293.5 374.2V377.9M293.5 376.1V379.5M293.5 376.5V380.0M294.5 379.2V382.1M295.5 374.9V378.3M295.5 371.6V374.1M296.5 372.4V374.9M297.5 372.3V373.9M299.5 365.1V367.5M300.5 364.0V365.0M301.5 360.9V364.2M302.5 359.6V361.5M303.5 358.5V359.5M305.5 353.4V356.6M306.5 355.1V359.2M307.5 358.5V362.1M307.5 357.9V360.4M308.5 355.5V359.7M309.5 353.6V360.9M309.5 356.5V359.7M310.5 354.1V359.8M310.5 354.1V356.1M311.5 354.7V356.1M314.5 352.6V355.9M316.5 352.2V354.3M317.5 353.3V358.7M318.5 356.9V357.9M319.5 355.0V359.7M319.5 358.3V361.0M320.5 359.5V363.8M321.5 366.8V372.5M321.5 369.1V374.0M322.5 369.7V374.4M323.5 376.1V378.7M324.5 378.8V380.4M326.5 375.7V382.9M326.5 378.7V380.6M327.5 383.5V386.8M327.5 384.9V387.6M328.5 385.9V387.9M329.5 385.7V394.1M330.5 385.7V388.9M331.5 386.3V389.1M332.5 385.9V391.1M332.5 388.2V390.8M332.5 388.1V390.8M333.5 389.4V392.2M333.5 394.7V397.2M334.5 395.0V398.8M334.5 397.2V398.6M334.5 397.0V402.2M337.5 397.2V400.6M337.5 397.6V400.7M337.5 397.7V399.0M338.5 398.3V402.2M338.5 399.1V400.3M339.5 399.7V405.1M340.5 403.0V404.6M341.5 396.7V399.5M343.5 395.6V397.9M344.5 394.7V397.1M344.5 395.9V397.7M344.5 398.0V399.0M345.5 397.6V400.5M345.5 392.9V398.7M346.5 399.4V401.9M347.5 400.7V406.4M349.5 406.9V410.7M349.5 406.5V413.0M349.5 406.6V409.8M349.5 410.6V411.8M350.5 409.7V414.9M350.5 412.7V419.8M351.5 416.9V419.2M352.5 417.7V421.5M352.5 419.6V422.8M352.5 420.5V426.0M355.5 415.1V416.8M355.5 413.7V416.0M355.5 413.1V414.7M356.5 412.1V413.6M357.5 410.8V413.7M361.5 398.7V400.6M362.5 399.4V400.4M363.5 398.8V401.4M364.5 399.9V401.3M365.5 400.3V401.6M366.5 399.0V402.1M368.5 401.3V403.7M368.5 403.0V404.9M368.5 403.5V405.8M368.5 403.7V404.7M369.5 404.0V407.1M369.5 404.9V406.7M370.5 407.1V408.1M370.5 406.0V410.9M371.5 407.9V412.4M372.5 410.2V411.4M372.5 411.1V413.2M372.5 411.1V414.3M373.5 412.1V416.7M373.5 413.9V415.8M377.5 394.2V396.9M377.5 394.7V397.2M378.5 396.3V399.2M381.5 396.9V398.8M382.5 395.5V398.9M382.5 395.7V397.3M383.5 396.2V397.7M384.5 395.4V400.4M385.5 397.8V400.0M385.5 398.0V399.9M386.5 395.0V396.5M386.5 393.7V398.6M387.5 396.8V401.1M387.5 398.9V400.0M388.5 399.4V402.1M389.5 400.2V401.5M389.5 399.6V400.6M390.5 398.4V406.8M390.5 398.4V401.4M391.5 401.1V402.9M392.5 400.7V402.3M392.5 399.7V404.0M393.5 402.6V405.4M394.5 404.9V406.0M394.5 405.3V408.8M395.5 405.5V407.8M396.5 407.4V410.1M399.5 411.3V414.4M400.5 414.3V415.9M400.5 415.0V418.0M402.5 419.9V422.7M404.5 423.0V426.0M404.5 424.0V425.6M406.5 420.8V424.3M408.5 422.2V425.4M409.5 422.2V425.5M409.5 423.0V426.8M409.5 426.2V428.8M410.5 424.8V428.2M411.5 424.8V426.8M415.5 411.9V416.2M415.5 410.5V413.5M416.5 412.4V413.9M416.5 411.2V415.2M416.5 414.4V415.4M416.5 414.3V416.0M417.5 412.7V414.5M418.5 413.7V415.4M419.5 413.2V414.2M420.5 412.3V414.5M421.5 413.6V416.3M422.5 413.8V414.8M422.5 413.5V414.9M423.5 412.6V414.5M423.5 414.2V415.9M424.5 413.8V415.9M424.5 412.5V413.5M426.5 407.6V411.9M426.5 408.3V410.9M427.5 408.3V409.8M428.5 407.1V408.8M428.5 408.0V410.2M429.5 408.3V410.9M430.5 409.1V410.1M431.5 408.2V412.5M431.5 410.3V413.0M432.5 406.3V408.5M433.5 408.2V409.2M433.5 405.1V408.0M434.5 406.0V409.7M434.5 408.1V411.4M435.5 408.4V411.4M435.5 409.4V411.4M437.5 410.0V412.4M438.5 409.8V412.7M438.5 411.4V414.3M439.5 411.5V413.7M441.5 411.7V413.7M442.5 413.0V414.0M443.5 412.2V414.5M444.5 412.5V413.7M444.5 412.9V414.6M445.5 411.9V415.9M445.5 415.0V417.0M446.5 416.7V420.1M446.5 413.7V417.0M447.5 414.6V421.5M448.5 415.3V417.3M449.5 415.7V422.7M451.5 418.4V421.8M452.5 419.7V422.8M453.5 422.2V424.9M454.5 421.9V424.4M455.5 423.8V425.7M456.5 422.0V424.3M457.5 422.3V424.9M458.5 422.0V423.3M460.5 422.3V425.6M461.5 426.3V427.3M462.5 428.6V430.0M463.5 430.0V432.6M466.5 420.8V422.8M468.5 416.9V418.9M470.5 413.8V416.0M471.5 410.8V413.4M472.5 406.1V408.4M473.5 402.6V405.2M474.5 402.7V408.6M479.5 396.0V397.0M479.5 396.1V399.9M480.5 396.5V398.8M481.5 398.3V400.3M481.5 400.4V402.1M483.5 396.5V398.4M485.5 392.9V396.8M485.5 393.6V394.8M486.5 393.8V396.9M486.5 394.1V397.5M487.5 392.0V395.1M487.5 393.4V394.4M488.5 395.7V397.3M489.5 396.8V400.5M489.5 397.7V400.6M490.5 399.8V403.9M490.5 401.3V402.5M491.5 401.1V403.9M491.5 402.1V404.3M491.5 402.1V406.5M492.5 404.0V405.4M492.5 406.8V407.8M493.5 406.6V410.1M493.5 409.5V411.9M494.5 407.4V410.4M494.5 408.8V410.9M496.5 408.4V411.0M496.5 409.8V410.8M498.5 409.9V414.8M498.5 411.8V415.3M498.5 411.7V417.3M498.5 410.6V415.9M499.5 414.5V418.4M499.5 415.5V418.0M499.5 416.8V418.7M500.5 418.5V420.8M502.5 420.2V423.5M506.5 417.6V421.2M507.5 422.3V426.4M508.5 421.8V423.7M508.5 422.5V425.7M509.5 423.3V424.3M509.5 424.5V426.1M510.5 423.8V426.4M510.5 423.8V425.7M510.5 424.7V428.4M511.5 424.8V428.4M513.5 425.8V428.3M514.5 430.9V432.4M515.5 431.7V433.5M517.5 420.6V423.1M518.5 419.8V421.6M518.5 420.5V425.9M519.5 419.8V424.8M520.5 423.9V425.0M520.5 423.7V425.9M521.5 426.7V427.7M522.5 427.8V428.9M523.5 429.1V432.2M524.5 426.8V428.6M525.5 424.9V427.7M528.5 425.7V428.0M531.5 430.8V432.0M533.5 432.5V434.9M534.5 434.0V436.0M535.5 435.0V437.0M536.5 437.3V438.5M537.5 438.0V440.9M538.5 437.5V440.0M540.5 435.1V436.9M540.5 435.3V436.6M542.5 430.4V432.7M543.5 433.1V434.8M544.5 432.0V434.0M546.5 435.1V436.2M546.5 435.7V436.9M547.5 434.8V436.5M547.5 435.5V440.2M548.5 437.7V439.4M549.5 438.4V440.1M550.5 439.3V441.4M551.5 438.1V439.6M552.5 436.0V438.4M553.5 440.1V441.1M554.5 441.0V443.1M554.5 442.2V444.5M554.5 443.6V448.1M555.5 443.8V445.0M555.5 442.8V446.5M555.5 446.2V448.0M556.5 448.8V451.6M558.5 449.2V452.0M558.5 451.4V453.9M559.5 453.5V455.2M561.5 449.2V451.6M561.5 451.3V453.6M562.5 450.3V451.9M562.5 450.0V451.9M563.5 450.4V451.4M563.5 449.6V452.4M564.5 451.0V452.0M564.5 449.5V451.2M566.5 451.9V453.2M566.5 453.6V455.3M567.5 452.7V455.5M568.5 453.7V455.5M574.5 442.6V445.7M575.5 443.5V444.5M576.5 441.5V444.2M578.5 439.1V441.6M579.5 439.0V440.3M580.5 437.2V441.0M581.5 439.2V442.5M581.5 440.1V443.6M582.5 441.3V444.6M582.5 443.2V444.3M583.5 442.7V445.9M584.5 443.2V445.7M584.5 444.8V445.8M586.5 446.3V447.6M588.5 447.0V449.6M591.5 446.0V448.6M591.5 445.8V447.8M592.5 446.6V448.4M592.5 448.0V449.0M594.5 444.5V446.5M595.5 443.4V445.3M596.5 442.2V444.7M597.5 439.3V440.5M598.5 435.9V437.5M598.5 434.1V439.0M603.5 430.5V432.3M604.5 430.2V432.8M605.5 429.4V431.8M605.5 430.4V432.1M606.5 429.3V435.0M612.5 428.3V429.4M612.5 427.1V430.3M613.5 423.0V426.4M618.5 401.2V403.1M619.5 399.8V402.7M620.5 399.2V404.2M620.5 399.7V403.5M622.5 399.6V401.9M622.5 401.1V403.4M623.5 405.8V410.0M623.5 407.4V409.5M623.5 408.1V409.8M624.5 408.0V409.0M624.5 407.1V408.2M626.5 398.6V399.6M629.5 396.9V399.8M630.5 394.9V398.2M630.5 397.0V398.6M631.5 397.6V404.6M632.5 399.8V400.8M633.5 400.7V403.9M635.5 400.8V404.9M635.5 400.1V406.6M636.5 402.7V405.7M637.5 400.0V403.8M639.5 393.4V398.6M641.5 391.2V393.6M642.5 390.7V393.1M642.5 391.0V394.8M644.5 386.0V388.4M644.5 385.7V391.2M645.5 387.1V388.4M646.5 384.7V391.2M647.5 383.8V388.1M647.5 383.0V387.4M648.5 380.6V384.1M649.5 375.6V380.7M650.5 375.7V377.9M651.5 370.5V374.8M651.5 368.5V376.4M652.5 364.8V367.7M653.5 363.4V366.5M655.5 349.2V350.2M657.5 333.1V339.1M659.5 317.1V318.9M663.5 286.9V297.7M664.5 294.6V304.8M666.5 288.5V298.3M666.5 291.4V301.7M667.5 293.0V298.4M667.5 288.3V298.2M668.5 297.3V313.3M672.5 263.9V273.9M679.5 206.9V216.3M680.5 195.5V206.8M684.5 188.8V196.6M684.5 191.4V206.0M684.5 200.4V204.6M685.5 202.8V208.0M685.5 200.8V208.2M686.5 203.9V210.8M687.5 201.7V206.4M688.5 199.5V206.1M688.5 193.1V210.0M688.5 205.1V211.9M689.5 218.9V220.0M690.5 208.9V219.0M690.5 215.0V218.7M694.5 165.6V170.4M697.5 137.1V142.9M701.5 78.1V96.8M702.5 63.3V76.4M703.5 69.7V79.5M703.5 72.4V77.6M709.5 37.1V51.7M709.5 39.6V54.9M709.5 50.3V59.2M710.5 61.5V64.4M712.5 59.6V77.7M712.5 65.3V75.2M712.5 70.0V78.5M713.5 71.1V85.9M714.5 100.5V109.7M714.5 103.4V122.3M719.5 116.7V121.3M720.5 105.8V108.8M721.5 86.8V97.1M722.5 72.7V89.4M723.5 74.6V84.4M723.5 89.1V116.7M724.5 112.1V119.5M724.5 121.7V133.9M725.5 120.4V134.8M725.5 131.6V133.8M725.5 131.4V140.9M726.5 136.4V148.4M726.5 139.4V163.5M727.5 149.7V152.9M727.5 141.6V161.6M728.5 156.3V165.9M728.5 165.3V173.5M729.5 172.1V187.7M730.5 163.9V176.0M731.5 176.1V197.6M732.5 186.2V196.4M732.5 182.9V189.4M733.5 199.6V206.6M733.5 198.3V208.1M734.5 204.3V215.2M734.5 209.5V218.9M737.5 248.1V254.4M737.5 249.5V257.2M740.5 227.4V258.3M743.5 221.8V228.8M744.5 221.9V232.3M744.5 226.6V237.4M745.5 232.4V237.4M745.5 240.8V257.7M746.5 238.7V246.0M747.5 237.1V246.3M747.5 244.3V253.1M748.5 249.2V263.5M748.5 263.1V267.9M748.5 264.3V271.6M748.5 266.0V269.8M749.5 268.5V278.2M750.5 282.6V290.7M750.5 286.9V293.5M750.5 290.3V299.3M751.5 295.5V298.6M752.5 298.8V304.1M752.5 305.3V313.3M753.5 306.0V311.1M753.5 296.7V307.0M754.5 295.4V306.3M755.5 295.4V300.1M755.5 296.2V301.4M756.5 295.5V303.1M758.5 303.0V309.1M759.5 310.9V317.8M760.5 315.9V320.4M760.5 315.7V320.6M760.5 320.6V326.1M761.5 319.9V326.0M761.5 326.6V332.0M761.5 327.6V346.8M762.5 334.4V339.5M762.5 338.9V343.5M764.5 341.8V347.3M764.5 349.0V350.7M765.5 345.6V353.3M765.5 351.7V357.3M766.5 353.9V360.8M769.5 355.0V362.3M770.5 370.4V377.0M770.5 372.7V379.0M771.5 373.5V379.4M771.5 377.8V383.6M772.5 389.0V393.4M773.5 388.8V395.2M773.5 390.4V396.4M775.5 382.4V385.8M781.5 368.0V372.5M781.5 372.1V378.9M781.5 373.4V381.0M782.5 373.2V376.4M782.5 376.5V381.0M783.5 380.6V384.7M784.5 377.5V382.7M786.5 375.9V378.7M787.5 371.6V375.6M787.5 375.2V379.5M791.5 340.6V349.1M793.5 348.0V356.3M793.5 351.0V353.2M794.5 350.6V365.3M794.5 359.5V362.3M794.5 358.7V361.0M795.5 356.6V362.0M795.5 353.0V362.1M799.5 329.0V338.3M802.5 328.6V342.0M805.5 319.7V325.3M806.5 314.0V319.4M807.5 308.9V321.3M809.5 306.1V309.3M812.5 296.8V301.0M812.5 298.0V306.4M817.5 270.2V274.9M818.5 262.1V267.0M819.5 252.7V259.1M819.5 256.6V263.0M820.5 249.6V257.6M821.5 253.4V259.2M822.5 250.5V259.6M822.5 257.1V267.4M824.5 270.1V274.2M825.5 282.3V284.3M826.5 281.9V287.2M827.5 287.5V292.8M828.5 301.5V306.8M828.5 299.2V304.3M830.5 300.4V305.3M830.5 307.2V311.0M831.5 305.5V308.8M833.5 283.5V291.4M833.5 283.3V289.0M834.5 285.0V286.3M836.5 270.8V276.3M836.5 274.0V280.5M837.5 281.0V282.3M838.5 266.8V273.3M839.5 262.1V266.5M840.5 260.9V262.9M840.5 256.1V266.3M841.5 256.8V262.4M841.5 257.6V261.7M843.5 257.1V262.6M843.5 258.7V270.8M843.5 264.3V266.3M844.5 262.2V268.6M845.5 260.7V271.5M846.5 261.1V267.0M847.5 259.0V264.8M848.5 260.6V263.6M849.5 258.7V265.8M849.5 261.3V267.8M851.5 274.2V279.4M852.5 284.2V293.1M852.5 285.2V290.0M853.5 285.4V287.3M853.5 284.9V291.7M854.5 285.8V291.2"/>
<path stroke="#ff3c3c" d="M3.5 475.7V478.0M3.5 475.8V477.4M6.5 470.8V473.5M8.5 470.4V471.6M9.5 471.3V472.3M10.5 470.3V471.4M10.5 469.9V471.1M10.5 469.7V471.2M10.5 468.3V470.3M11.5 469.3V470.4M12.5 469.8V471.4M13.5 468.6V470.7M15.5 470.7V471.7M19.5 470.9V474.6M19.5 470.2V471.4M20.5 469.0V471.8M20.5 466.8V470.0M21.5 468.3V470.9M22.5 463.6V468.5M24.5 458.3V460.0M24.5 457.1V460.6M27.5 458.5V459.5M27.5 456.7V458.7M28.5 458.1V459.3M28.5 456.4V459.0M30.5 459.5V461.7M31.5 457.0V460.8M31.5 453.4V459.0M31.5 453.2V456.0M31.5 452.2V453.9M32.5 449.0V450.0M32.5 445.6V449.6M33.5 446.6V448.0M33.5 444.2V446.6M34.5 442.5V443.5M36.5 452.5V456.3M38.5 458.8V460.0M40.5 462.1V463.7M42.5 462.1V463.5M43.5 462.3V464.9M44.5 458.4V460.2M45.5 457.2V459.1M45.5 455.4V458.6M45.5 454.5V459.1M46.5 449.4V455.0M46.5 450.4V451.9M46.5 449.0V452.1M48.5 445.3V447.9M49.5 444.2V448.6M49.5 441.9V443.2M50.5 439.2V442.7M52.5 433.8V436.4M53.5 431.9V435.4M54.5 428.6V431.3M54.5 429.0V431.3M55.5 425.0V429.4M56.5 421.6V424.9M56.5 420.2V423.3M57.5 415.5V420.9M58.5 417.2V420.8M58.5 417.2V418.5M62.5 426.9V430.2M62.5 428.1V430.0M64.5 432.6V433.7M64.5 430.8V433.4M67.5 437.0V440.6M67.5 436.3V437.9M69.5 441.7V443.7M70.5 441.0V442.8M71.5 441.7V443.9M72.5 441.0V442.3M73.5 441.0V443.0M74.5 441.4V442.7M76.5 443.7V445.1M77.5 443.6V445.9M77.5 444.0V445.0M78.5 442.7V444.5M78.5 442.8V444.0M79.5 440.8V443.2M79.5 441.3V443.8M80.5 443.2V444.2M81.5 442.5V443.8M83.5 444.6V445.6M84.5 444.2V445.3M85.5 442.8V445.3M86.5 443.6V446.0M87.5 444.1V445.5M87.5 444.0V446.1M88.5 443.9V444.9M88.5 441.0V444.7M90.5 438.0V443.7M91.5 442.1V444.7M91.5 442.5V444.8M94.5 443.4V444.5M94.5 444.0V445.2M96.5 444.5V446.9M96.5 443.7V445.3M96.5 442.6V445.4M97.5 442.6V444.8M97.5 442.2V443.4M98.5 440.5V443.0M99.5 438.0V439.8M100.5 439.3V440.4M100.5 439.1V440.8M100.5 437.3V442.0M101.5 437.2V440.0M101.5 436.1V439.2M102.5 433.6V441.6M103.5 436.0V437.2M106.5 435.1V437.3M107.5 434.2V437.2M107.5 435.3V437.5M108.5 435.9V437.1M109.5 437.7V440.7M110.5 438.3V439.3M111.5 438.6V440.1M112.5 437.5V440.2M112.5 437.3V438.3M113.5 438.4V440.4M113.5 438.1V440.2M114.5 437.4V438.4M115.5 432.2V434.7M115.5 430.1V432.9M116.5 427.8V432.4M118.5 427.9V429.8M120.5 426.4V428.6M121.5 425.7V427.4M124.5 422.7V424.6M124.5 421.7V426.0M126.5 423.6V426.5M127.5 423.5V424.5M128.5 420.1V423.1M129.5 421.8V423.8M131.5 425.1V426.1M132.5 425.5V428.0M132.5 426.4V428.0M133.5 426.7V428.0M133.5 424.7V429.8M134.5 428.6V430.8M135.5 429.3V432.1M136.5 430.0V431.3M136.5 429.8V430.9M139.5 441.9V444.8M140.5 444.4V447.3M141.5 445.0V446.0M143.5 439.1V440.6M143.5 439.2V440.8M144.5 438.7V441.5M144.5 438.0V440.5M146.5 437.1V438.3M146.5 437.2V440.0M147.5 438.2V440.0M149.5 436.4V437.9M150.5 435.7V437.8M152.5 435.4V437.6M153.5 436.2V437.8M154.5 434.8V436.2M154.5 434.0V437.3M155.5 434.9V436.1M155.5 434.0V435.7M155.5 432.6V435.7M156.5 435.7V436.7M159.5 437.6V439.2M160.5 439.7V443.7M160.5 438.4V440.9M162.5 441.5V442.7M162.5 442.4V443.4M163.5 443.0V444.3M164.5 441.4V444.5M164.5 442.7V444.2M165.5 441.5V444.0M165.5 442.5V446.3M166.5 443.1V447.4M167.5 444.1V445.1M168.5 444.5V445.7M170.5 446.2V448.9M172.5 443.7V445.7M173.5 444.6V446.0M175.5 442.5V444.4M176.5 443.4V446.9M176.5 443.2V444.4M176.5 443.9V444.9M177.5 442.6V444.4M177.5 442.1V444.2M177.5 441.8V442.8M178.5 441.6V443.0M180.5 443.6V444.9M181.5 444.6V448.0M182.5 444.7V445.7M187.5 434.6V438.9M188.5 431.6V435.2M188.5 429.8V433.2M189.5 424.2V428.2M189.5 421.9V424.9M190.5 416.7V420.8M191.5 408.3V411.6M191.5 408.7V409.8M192.5 407.1V410.7M192.5 404.7V409.5M193.5 403.6V407.2M195.5 403.1V405.6M196.5 405.0V406.6M197.5 402.9V411.4M198.5 403.4V406.9M199.5 402.0V406.4M201.5 405.4V409.0M201.5 403.1V408.7M201.5 404.1V407.6M202.5 404.6V405.9M203.5 401.5V405.6M204.5 400.5V402.2M205.5 403.2V406.4M205.5 399.6V403.5M207.5 399.3V402.0M207.5 397.2V400.1M207.5 398.2V400.6M208.5 399.0V401.9M210.5 405.4V411.6M211.5 408.9V412.6M213.5 411.2V418.5M214.5 412.1V415.8M214.5 411.5V413.4M215.5 413.6V415.2M218.5 417.5V420.1M218.5 418.0V420.6M220.5 417.7V418.9M220.5 417.9V419.8M221.5 421.0V423.2M222.5 420.5V423.8M222.5 418.7V422.3M223.5 418.2V419.7M224.5 419.2V420.8M224.5 420.0V421.9M224.5 420.0V421.7M225.5 420.0V422.0M226.5 418.8V422.9M228.5 413.4V417.7M228.5 413.4V416.2M229.5 415.8V418.7M229.5 407.9V414.5M230.5 404.9V408.5M230.5 400.0V405.3M231.5 397.0V400.7M232.5 398.4V399.4M234.5 394.6V396.4M234.5 394.2V399.2M235.5 393.7V396.2M236.5 395.3V398.2M236.5 395.5V396.5M237.5 393.4V397.0M238.5 393.0V394.4M238.5 393.0V395.4M238.5 391.3V393.7M239.5 390.6V395.5M239.5 387.3V392.3M239.5 388.0V389.3M241.5 387.5V391.0M241.5 388.2V389.5M242.5 386.9V389.9M242.5 386.5V388.8M244.5 385.5V388.0M247.5 387.9V391.9M248.5 383.2V386.6M249.5 380.4V386.1M249.5 380.3V382.7M250.5 377.7V379.6M251.5 379.8V382.7M252.5 378.2V382.0M252.5 376.6V381.3M253.5 377.0V382.4M255.5 378.9V381.6M255.5 376.3V379.8M257.5 371.3V375.2M258.5 372.8V376.1M258.5 370.6V373.2M259.5 369.4V374.4M260.5 368.5V372.4M261.5 369.2V371.3M261.5 370.6V373.8M262.5 368.6V371.9M262.5 366.3V370.9M263.5 367.1V369.8M263.5 364.9V367.8M265.5 367.3V369.2M266.5 363.6V368.3M268.5 374.2V377.2M268.5 375.0V376.0M270.5 375.5V382.0M272.5 376.1V383.1M272.5 376.4V384.9M274.5 375.1V379.6M274.5 374.4V376.6M277.5 373.3V377.0M277.5 367.9V372.7M279.5 365.6V366.6M279.5 364.2V367.0M280.5 361.2V365.8M285.5 364.1V368.0M285.5 362.1V366.4M286.5 361.4V365.8M286.5 362.0V364.3M287.5 363.0V365.7M287.5 357.3V363.0M288.5 361.1V368.5M288.5 360.2V361.8M290.5 367.1V371.7M291.5 369.7V374.8M292.5 371.9V374.6M293.5 377.1V380.2M294.5 377.1V378.6M295.5 372.5V376.6M296.5 372.3V374.6M296.5 371.0V374.3M297.5 370.4V373.3M298.5 369.3V372.1M298.5 368.4V372.2M299.5 365.3V370.3M300.5 362.3V365.8M301.5 360.9V362.9M302.5 360.0V362.5M303.5 356.3V360.1M304.5 354.1V358.6M305.5 354.2V356.1M307.5 356.6V361.3M308.5 356.5V361.1M309.5 354.1V358.1M310.5 355.0V356.0M311.5 353.0V356.4M312.5 354.2V359.5M313.5 350.7V355.7M313.5 352.1V355.6M314.5 353.9V355.9M314.5 352.4V354.8M314.5 352.2V355.6M315.5 352.1V354.9M316.5 352.3V354.4M317.5 356.9V358.8M318.5 355.3V363.9M320.5 361.9V363.2M322.5 370.7V374.1M322.5 373.6V376.7M329.5 386.1V390.6M329.5 389.0V390.3M330.5 388.2V389.6M331.5 385.3V390.4M335.5 399.9V404.0M336.5 402.3V406.1M336.5 403.7V405.2M336.5 401.2V404.5M339.5 403.2V405.5M339.5 403.1V404.5M340.5 399.0V405.7M341.5 397.3V400.1M341.5 396.8V397.8M342.5 396.3V397.5M345.5 396.4V399.7M345.5 397.1V402.9M348.5 408.0V409.0M353.5 423.6V425.9M353.5 420.5V423.9M354.5 417.7V419.5M354.5 415.9V418.4M355.5 411.9V415.1M356.5 411.4V414.7M357.5 410.6V414.3M357.5 408.3V411.6M358.5 405.9V408.9M358.5 404.7V405.7M359.5 403.5V405.4M359.5 402.8V405.7M360.5 400.1V403.4M361.5 397.6V400.7M362.5 398.4V401.0M364.5 401.4V402.4M364.5 398.9V401.8M366.5 399.6V402.6M366.5 399.8V402.4M367.5 399.9V401.7M367.5 399.4V401.6M369.5 404.8V408.1M371.5 411.1V413.6M373.5 412.5V415.0M374.5 414.3V415.3M374.5 411.3V414.4M375.5 404.9V410.6M375.5 403.3V406.8M375.5 401.8V404.9M376.5 400.4V403.2M376.5 398.8V403.7M376.5 396.0V399.8M377.5 396.2V397.4M380.5 396.5V399.5M381.5 396.7V397.7M382.5 397.6V400.9M384.5 395.9V401.6M384.5 395.6V399.1M385.5 395.8V398.4M386.5 395.6V397.8M387.5 399.0V400.0M388.5 401.4V402.4M388.5 399.7V403.3M389.5 399.0V402.4M390.5 398.3V402.2M392.5 401.0V405.8M393.5 403.4V404.5M396.5 410.8V411.8M396.5 409.0V415.4M397.5 410.9V411.9M397.5 409.7V412.5M398.5 412.6V413.8M398.5 410.9V415.0M398.5 412.9V416.1M401.5 416.2V417.5M401.5 416.5V419.0M402.5 419.5V420.7M404.5 424.5V426.2M406.5 422.0V424.1M407.5 422.1V423.3M408.5 421.9V423.6M410.5 425.9V429.3M410.5 425.8V428.8M411.5 421.4V423.3M412.5 419.9V422.7M412.5 418.5V422.5M412.5 418.3V422.8M413.5 417.3V419.0M413.5 417.1V419.0M414.5 413.4V416.7M415.5 412.6V414.1M418.5 413.7V414.7M419.5 411.3V414.8M419.5 410.8V412.1M422.5 414.2V416.4M423.5 414.3V416.6M424.5 413.4V415.6M424.5 413.4V414.5M425.5 410.6V416.5M425.5 409.8V413.6M427.5 407.1V408.1M427.5 405.9V409.1M429.5 409.7V412.2M430.5 407.9V414.6M431.5 408.6V412.1M432.5 408.1V409.8M433.5 407.8V409.9M435.5 409.2V410.7M435.5 408.2V411.1M436.5 410.1V412.2M438.5 411.2V413.5M440.5 413.1V414.1M440.5 411.8V413.4M441.5 411.8V413.9M441.5 411.5V413.6M443.5 412.6V418.6M444.5 412.1V413.9M445.5 413.8V414.8M446.5 414.2V420.3M449.5 416.2V418.1M451.5 417.6V421.4M454.5 423.8V425.7M454.5 419.9V425.4M455.5 422.4V425.9M458.5 421.0V424.1M459.5 422.6V425.1M461.5 426.3V427.3M464.5 428.8V432.4M464.5 426.5V430.8M465.5 424.0V425.5M465.5 423.4V425.9M466.5 422.3V423.3M466.5 420.6V423.8M467.5 418.3V419.7M468.5 417.8V421.1M470.5 413.2V415.7M470.5 412.0V415.3M471.5 411.1V412.9M472.5 408.2V411.6M473.5 405.7V408.5M474.5 403.0V406.5M474.5 401.8V402.9M475.5 401.6V403.1M475.5 399.3V404.6M476.5 399.6V402.3M476.5 396.3V399.8M476.5 396.9V399.5M477.5 396.5V400.1M478.5 395.2V396.6M478.5 393.1V396.3M478.5 393.0V394.6M479.5 397.8V400.6M480.5 395.2V399.9M482.5 395.7V408.6M484.5 394.5V396.4M485.5 393.1V397.3M485.5 394.1V395.6M486.5 393.1V394.2M487.5 392.7V395.5M488.5 396.9V399.2M489.5 399.0V400.0M490.5 399.9V402.7M491.5 401.0V404.0M494.5 408.6V410.5M495.5 408.6V411.3M495.5 408.3V411.8M495.5 406.5V409.3M499.5 416.1V417.6M500.5 419.0V422.4M502.5 421.7V422.7M503.5 417.9V420.8M504.5 418.1V420.6M505.5 419.3V422.5M505.5 419.2V420.7M506.5 417.4V421.4M511.5 423.8V427.0M511.5 425.1V427.2M512.5 427.1V428.7M514.5 427.7V429.7M515.5 431.6V432.7M515.5 429.1V434.4M516.5 423.7V426.0M516.5 420.3V424.7M517.5 419.3V422.3M517.5 421.4V422.7M519.5 421.4V423.5M523.5 427.5V430.7M523.5 428.2V431.7M524.5 427.0V429.2M524.5 426.0V427.6M525.5 426.2V428.2M526.5 427.2V429.8M526.5 426.6V428.4M527.5 426.2V428.0M528.5 425.1V426.2M529.5 428.0V431.1M529.5 423.7V429.8M530.5 427.0V428.2M531.5 430.6V432.0M535.5 435.0V436.1M536.5 435.7V437.7M537.5 439.8V440.8M538.5 438.5V440.2M538.5 437.9V439.3M539.5 438.2V440.6M539.5 435.1V438.6M541.5 436.8V438.4M541.5 434.1V436.3M542.5 431.0V435.7M543.5 434.1V435.8M543.5 433.0V435.3M544.5 433.8V437.0M546.5 434.5V436.0M551.5 436.9V439.1M554.5 440.2V442.4M555.5 444.0V445.9M556.5 446.6V448.4M556.5 447.7V448.7M560.5 452.6V453.8M560.5 449.4V453.4M561.5 449.6V451.3M563.5 450.3V454.4M564.5 448.8V453.3M565.5 451.2V452.9M567.5 455.2V456.2M568.5 452.8V455.5M569.5 452.1V453.4M569.5 451.9V453.2M569.5 450.8V453.6M570.5 449.7V451.7M570.5 449.7V450.7M570.5 449.1V452.4M571.5 448.4V449.4M571.5 445.1V447.9M571.5 444.4V446.2M572.5 442.7V446.3M573.5 442.2V443.9M575.5 443.4V444.4M577.5 442.5V444.9M577.5 440.6V442.4M578.5 438.5V441.6M579.5 440.2V442.1M585.5 444.7V449.0M586.5 446.7V448.6M586.5 446.5V447.6M587.5 446.5V447.5M588.5 447.4V448.4M588.5 446.1V447.6M589.5 446.1V448.1M590.5 446.4V448.9M590.5 445.7V447.8M593.5 446.0V448.0M593.5 446.3V447.7M593.5 446.3V447.4M594.5 444.2V445.6M594.5 443.9V446.0M595.5 442.6V446.1M597.5 439.1V443.2M597.5 438.2V441.0M597.5 437.6V440.0M598.5 434.6V439.2M599.5 436.4V439.0M599.5 436.8V438.0M600.5 434.4V438.6M600.5 435.2V437.3M601.5 432.3V439.9M601.5 432.5V434.9M602.5 431.4V433.6M602.5 429.5V431.7M603.5 428.9V433.3M604.5 431.5V433.0M604.5 429.6V431.7M605.5 429.8V432.0M605.5 429.1V431.8M606.5 430.8V432.6M607.5 432.0V433.3M609.5 430.1V435.4M610.5 429.3V431.7M610.5 428.4V430.7M611.5 429.0V432.1M612.5 428.5V431.5M612.5 426.2V428.6M613.5 426.2V427.9M613.5 425.7V427.1M614.5 424.3V426.0M614.5 424.5V425.7M615.5 421.7V424.6M615.5 419.2V422.4M616.5 417.1V418.6M617.5 411.3V415.4M618.5 402.6V404.8M620.5 402.2V403.7M621.5 402.2V404.7M625.5 404.8V408.7M626.5 398.0V401.0M627.5 397.8V400.6M627.5 396.9V400.5M629.5 397.0V400.6M629.5 396.0V400.1M634.5 402.3V404.5M634.5 401.6V403.7M634.5 400.5V402.1M635.5 402.2V404.1M635.5 403.7V406.9M636.5 402.5V403.5M636.5 402.0V403.6M637.5 401.7V405.8M637.5 399.1V401.2M639.5 396.6V398.0M641.5 392.3V395.8M643.5 390.5V393.7M646.5 385.4V390.3M646.5 384.5V389.2M647.5 383.9V391.1M648.5 385.7V387.5M649.5 379.2V383.5M650.5 378.1V379.7M650.5 374.6V378.9M651.5 372.1V376.7M651.5 370.1V374.6M652.5 369.3V372.9M652.5 364.9V367.9M653.5 361.1V368.2M653.5 357.0V363.0M654.5 353.1V359.5M654.5 353.0V358.1M654.5 350.6V353.6M655.5 346.5V352.1M655.5 349.0V350.1M656.5 343.8V348.9M656.5 342.8V348.0M656.5 335.8V345.6M660.5 302.7V307.6M660.5 297.2V305.2M662.5 290.7V298.9M662.5 286.9V287.9M663.5 299.9V307.7M664.5 296.2V301.0M665.5 300.6V315.4M667.5 296.2V301.2M668.5 289.1V297.4M668.5 290.1V298.3M669.5 297.6V306.8M670.5 292.2V299.2M671.5 288.8V293.8M671.5 288.3V294.3M671.5 283.1V291.7M671.5 282.9V285.8M672.5 275.8V287.2M673.5 267.6V273.1M673.5 262.0V270.4M674.5 258.6V266.8M674.5 255.2V265.5M675.5 253.0V261.1M675.5 250.3V262.5M675.5 247.6V254.5M676.5 241.1V245.3M676.5 237.4V242.7M676.5 231.7V237.7M677.5 221.2V232.9M678.5 219.8V229.0M679.5 206.0V218.4M681.5 203.8V211.2M681.5 195.3V205.0M681.5 195.2V199.4M683.5 185.0V197.5M683.5 187.6V193.8M685.5 200.3V205.7M686.5 192.4V215.3M688.5 193.9V207.9M689.5 216.7V221.7M691.5 215.2V220.1M691.5 210.4V217.2M692.5 200.5V212.0M692.5 201.1V209.8M692.5 196.5V203.8M693.5 190.8V204.0M693.5 181.4V191.8M694.5 169.6V185.4M694.5 168.4V172.9M696.5 147.9V158.0M696.5 144.5V156.8M696.5 136.6V149.1M697.5 138.4V148.4M698.5 108.1V123.4M699.5 106.1V112.7M699.5 107.6V121.3M699.5 106.0V121.4M699.5 98.2V112.0M701.5 80.1V96.4M702.5 72.9V81.8M703.5 69.6V76.8M704.5 53.8V59.8M707.5 32.0V33.0M707.5 32.0V39.1M708.5 35.1V43.9M709.5 37.8V48.5M711.5 63.9V75.8M712.5 64.2V67.2M713.5 78.0V84.2M715.5 129.0V134.1M717.5 119.8V130.0M718.5 115.5V137.3M718.5 126.4V140.1M718.5 114.1V128.4M719.5 103.8V116.3M720.5 94.9V112.8M720.5 89.8V100.7M720.5 90.6V96.4M721.5 77.8V81.0M722.5 72.7V77.4M723.5 74.3V80.1M727.5 148.5V157.6M730.5 164.9V181.2M730.5 176.2V179.2M731.5 178.7V190.9M732.5 171.7V194.4M736.5 248.9V254.0M740.5 234.6V242.7M740.5 228.6V237.1M741.5 231.8V238.1M744.5 230.4V235.7M746.5 232.5V245.1M751.5 290.1V303.3M753.5 299.1V307.6M754.5 296.3V303.7M755.5 296.3V311.5M756.5 298.2V304.3M756.5 297.0V304.8M757.5 305.1V313.1M757.5 301.9V305.6M759.5 311.6V322.1M760.5 321.3V324.1M763.5 345.6V352.3M763.5 341.7V347.5M764.5 346.9V347.9M766.5 350.5V361.9M766.5 355.4V358.9M768.5 357.0V362.2M774.5 388.5V394.6M774.5 382.1V385.6M775.5 384.1V385.7M775.5 383.4V386.5M776.5 383.1V386.4M777.5 376.5V388.1M778.5 373.3V377.5M778.5 372.8V376.0M779.5 373.4V374.9M779.5 373.3V375.6M780.5 369.4V374.4M780.5 366.5V372.7M782.5 375.3V378.3M785.5 379.2V383.1M785.5 378.6V383.0M786.5 374.6V383.9M786.5 374.5V377.4M787.5 374.8V377.6M788.5 369.8V372.2M788.5 367.0V375.2M789.5 355.3V365.6M789.5 354.7V359.5M790.5 345.4V350.5M791.5 345.8V350.6M792.5 345.3V350.9M793.5 348.7V352.8M794.5 352.1V361.0M795.5 355.6V360.8M796.5 354.6V363.6M796.5 348.5V353.3M797.5 348.2V350.7M798.5 341.4V345.9M798.5 337.7V347.0M800.5 321.8V340.6M800.5 331.0V346.3M801.5 326.9V331.6M801.5 324.0V330.6M804.5 322.1V328.1M805.5 321.2V327.3M808.5 305.8V315.5M809.5 300.7V314.8M811.5 303.0V308.4M811.5 299.2V303.7M811.5 291.8V302.4M813.5 295.8V299.1M814.5 294.0V299.6M815.5 286.4V290.2M815.5 276.5V287.1M816.5 270.8V280.3M816.5 270.8V273.5M817.5 265.0V275.4M818.5 260.6V269.1M820.5 250.1V260.1M821.5 246.2V253.3M823.5 262.5V265.7M829.5 306.0V309.2M829.5 299.2V311.0M830.5 302.9V310.0M831.5 302.3V310.7M831.5 303.2V307.2M831.5 302.4V310.2M832.5 296.3V304.2M832.5 294.7V301.4M833.5 285.8V292.9M834.5 278.5V287.7M834.5 280.9V282.5M835.5 277.6V285.4M835.5 275.8V277.8M835.5 274.0V282.0M835.5 272.7V279.1M837.5 277.2V279.0M839.5 263.3V269.5M842.5 261.4V265.6M844.5 262.1V267.7M845.5 267.2V269.9M845.5 265.2V272.4M846.5 265.2V272.4M846.5 264.9V272.2M847.5 262.4V265.2M847.5 253.6V266.8M848.5 258.6V263.5M849.5 262.5V270.0M851.5 273.0V276.0M853.5 289.1V291.3M854.5 288.8V291.8M854.5 286.9V290.0M855.5 284.9V290.1M855.5 285.3V289.5M855.5 280.1V288.9M856.5 277.4V285.9M59.5 413.5V414.3M141.5 450.0V445.2M193.5 392.0V401.4M235.5 393.0V396.7M265.5 362.8V364.7M339.5 409.0V405.3M373.5 417.4V413.7M410.5 429.5V427.2M559.5 456.3V454.0M628.5 392.3V396.0M667.5 282.4V295.2M687.5 175.3V192.6M710.5 32.0V54.0M740.5 285.0V234.3M791.5 337.3V347.1M826.5 316.0V286.9M853.5 294.3V290.4"/>
<path stroke="#2a8c2a" d="M4.5 474.4V475.4M6.5 472.8V474.7M7.5 471.0V472.8M9.5 469.8V472.6M9.5 471.3V472.3M12.5 468.9V470.6M14.5 469.9V471.2M14.5 469.8V472.0M15.5 469.3V472.1M17.5 472.9V474.0M18.5 472.4V475.0M18.5 474.5V475.9M18.5 475.3V477.9M20.5 467.8V469.9M23.5 464.5V465.5M24.5 458.0V460.8M26.5 457.1V458.4M27.5 456.8V459.6M27.5 457.6V460.1M28.5 456.5V459.5M28.5 458.7V459.9M29.5 458.8V462.0M29.5 460.1V461.6M34.5 441.2V442.8M34.5 440.3V447.2M35.5 447.0V448.9M35.5 447.5V451.3M35.5 450.7V453.1M36.5 450.3V453.9M37.5 456.1V457.4M40.5 462.3V464.7M41.5 461.2V464.6M43.5 461.5V464.3M43.5 461.6V465.1M47.5 446.7V449.9M48.5 445.5V447.8M53.5 432.4V435.4M56.5 425.4V431.2M58.5 418.3V419.3M59.5 416.7V419.2M59.5 417.0V421.5M60.5 422.6V426.4M61.5 424.3V430.2M62.5 427.7V431.2M63.5 428.1V429.7M63.5 429.8V433.7M63.5 431.4V434.6M64.5 429.3V433.0M65.5 431.6V433.2M66.5 433.0V437.2M66.5 436.3V438.7M67.5 434.2V437.7M68.5 435.5V438.6M70.5 441.5V442.6M71.5 441.9V444.2M72.5 440.2V442.9M73.5 440.5V442.8M74.5 441.7V442.8M75.5 439.1V444.0M75.5 443.5V447.1M76.5 443.0V444.6M77.5 443.1V445.4M77.5 443.3V445.7M78.5 442.6V444.5M80.5 442.2V444.0M82.5 441.7V444.2M83.5 443.4V445.4M83.5 444.4V446.5M84.5 445.1V447.0M84.5 443.7V444.7M85.5 443.3V445.6M89.5 441.9V444.5M89.5 442.2V444.2M90.5 441.6V444.1M93.5 440.8V442.5M93.5 441.6V445.1M94.5 443.8V444.8M95.5 443.7V445.5M95.5 443.9V446.3M98.5 441.6V444.5M98.5 441.9V443.4M99.5 437.5V440.0M102.5 434.5V436.0M104.5 434.7V436.5M105.5 434.6V437.5M106.5 436.0V437.0M107.5 434.7V438.6M108.5 434.4V438.1M108.5 435.8V437.1M109.5 436.6V438.6M109.5 436.4V439.0M111.5 436.9V440.1M112.5 438.1V440.1M114.5 433.4V434.7M115.5 429.6V432.1M116.5 430.8V432.2M116.5 430.8V431.9M117.5 429.0V430.0M118.5 427.3V429.7M118.5 426.7V428.2M119.5 423.1V427.7M120.5 425.3V427.8M123.5 422.7V426.4M124.5 422.1V425.0M125.5 421.6V423.7M125.5 422.2V424.6M126.5 423.7V425.8M127.5 424.5V426.0M127.5 424.1V429.2M129.5 422.0V423.9M130.5 422.2V424.6M130.5 422.7V423.7M131.5 423.1V426.0M132.5 425.5V428.3M134.5 423.2V429.7M134.5 429.4V430.7M134.5 428.5V431.1M135.5 429.4V431.6M135.5 428.7V431.4M137.5 430.8V432.6M140.5 442.7V444.5M140.5 444.3V445.7M141.5 445.2V446.2M145.5 437.0V438.9M148.5 436.4V438.8M148.5 436.5V437.8M149.5 436.4V438.7M150.5 435.2V438.0M152.5 435.8V437.8M152.5 435.4V437.9M154.5 433.8V436.5M155.5 432.4V436.2M156.5 434.6V435.7M156.5 435.0V436.0M156.5 435.5V436.5M158.5 435.7V437.2M160.5 437.8V440.2M162.5 441.7V443.1M163.5 441.8V444.1M164.5 441.4V443.8M165.5 442.5V444.4M166.5 445.1V446.2M168.5 444.7V447.7M169.5 445.0V446.9M169.5 446.1V449.2M170.5 447.2V449.8M171.5 446.1V449.3M172.5 447.3V448.3M173.5 443.6V447.5M174.5 443.0V445.1M175.5 443.2V445.7M179.5 440.8V443.9M179.5 442.8V445.5M180.5 442.8V445.6M180.5 442.5V446.4M181.5 443.8V446.5M181.5 445.7V447.5M182.5 444.3V446.8M182.5 445.4V447.8M182.5 445.9V448.6M183.5 446.6V449.4M183.5 446.6V449.7M184.5 449.8V450.8M184.5 448.3V449.3M194.5 399.4V403.4M194.5 402.1V406.0M194.5 404.0V406.4M198.5 403.4V405.0M199.5 403.7V406.5M203.5 401.5V404.1M204.5 399.5V403.4M208.5 398.4V401.6M209.5 398.0V403.2M209.5 403.5V407.9M210.5 406.2V409.5M211.5 409.5V411.7M212.5 408.4V410.9M213.5 410.8V415.1M214.5 411.6V415.1M215.5 409.2V415.2M216.5 412.0V417.6M217.5 415.8V420.9M219.5 416.3V422.6M219.5 416.3V419.3M220.5 416.6V419.6M221.5 418.0V419.7M221.5 420.8V421.8M224.5 419.1V422.8M225.5 421.3V422.4M227.5 418.0V420.6M228.5 416.4V417.9M228.5 413.8V415.9M230.5 396.4V400.4M233.5 398.3V400.2M235.5 393.0V396.0M235.5 394.6V396.1M240.5 388.5V389.9M241.5 386.8V389.4M244.5 384.6V389.1M245.5 388.9V392.1M246.5 390.7V391.7M246.5 391.1V393.5M249.5 382.0V384.4M251.5 378.5V381.1M252.5 379.3V381.7M253.5 376.7V380.5M254.5 374.1V378.4M254.5 377.0V379.3M256.5 375.1V376.1M257.5 375.3V377.2M258.5 370.4V371.7M259.5 369.0V370.4M260.5 369.6V370.6M262.5 370.3V372.0M262.5 363.1V367.7M264.5 364.3V368.0M264.5 365.4V368.3M265.5 365.6V368.1M265.5 367.9V368.9M267.5 372.4V373.7M269.5 373.0V377.3M269.5 372.9V378.2M271.5 376.4V378.8M271.5 377.7V382.8M271.5 377.8V380.8M272.5 377.9V381.9M275.5 374.8V377.3M276.5 371.2V373.0M276.5 372.8V375.0M278.5 367.6V371.3M278.5 365.2V367.7M280.5 363.7V365.2M281.5 360.4V368.3M282.5 362.3V367.4M282.5 366.5V368.2M284.5 365.8V369.1M285.5 361.7V365.1M285.5 360.6V365.1M286.5 361.1V363.8M286.5 361.0V365.1M287.5 362.6V369.8M288.5 360.1V365.2M289.5 358.0V361.5M290.5 362.6V370.0M291.5 368.3V373.2M292.5 372.8V375.1M294.5 379.5V381.4M298.5 365.5V367.8M299.5 362.3V367.0M301.5 362.4V366.1M302.5 360.8V368.5M303.5 358.3V361.0M305.5 352.6V357.4M305.5 355.8V357.6M306.5 350.8V358.5M307.5 359.8V360.8M311.5 353.9V356.3M311.5 355.3V356.7M312.5 356.5V360.0M313.5 353.8V357.2M315.5 351.6V354.3M315.5 349.2V354.6M316.5 353.6V355.0M316.5 353.0V355.5M317.5 352.4V355.3M319.5 356.1V357.1M319.5 357.1V359.2M320.5 360.0V363.4M320.5 360.5V367.8M321.5 365.2V367.9M321.5 366.3V370.2M322.5 372.9V377.8M323.5 372.1V377.4M323.5 378.5V380.3M324.5 376.1V378.2M325.5 373.1V375.6M325.5 371.6V377.8M326.5 376.2V378.0M326.5 378.5V384.6M327.5 383.8V388.1M328.5 385.0V388.9M329.5 386.6V389.5M330.5 388.0V391.1M331.5 384.5V392.1M331.5 383.1V388.2M332.5 388.4V393.5M333.5 390.4V394.8M335.5 399.3V404.7M335.5 402.0V403.4M335.5 402.9V407.5M338.5 398.4V401.7M338.5 401.7V407.1M339.5 403.0V405.1M342.5 395.4V397.9M346.5 397.2V399.2M346.5 397.4V403.4M347.5 400.2V402.0M347.5 401.3V404.5M348.5 399.5V405.8M348.5 402.1V409.0M351.5 414.7V417.6M351.5 415.8V420.0M351.5 415.8V420.8M352.5 420.0V423.0M353.5 422.7V424.7M353.5 422.6V426.3M360.5 398.3V400.8M361.5 397.4V400.4M361.5 398.7V400.6M362.5 398.7V400.4M363.5 398.1V400.7M363.5 399.2V402.9M365.5 400.2V401.2M365.5 400.0V403.1M367.5 399.1V401.9M369.5 404.9V408.0M370.5 405.6V408.5M371.5 408.6V411.5M374.5 413.1V414.8M378.5 394.3V397.8M378.5 395.6V398.2M379.5 396.1V398.8M379.5 395.2V400.7M380.5 397.9V400.7M380.5 396.7V397.8M383.5 396.0V399.7M383.5 398.3V400.3M384.5 398.0V399.3M387.5 398.7V402.0M388.5 398.4V401.4M391.5 398.7V401.9M391.5 400.5V402.9M391.5 401.5V403.1M393.5 404.1V406.0M394.5 403.0V405.7M395.5 406.9V408.3M395.5 406.6V408.4M395.5 407.1V408.6M396.5 409.5V411.4M397.5 408.1V411.3M397.5 410.8V412.9M398.5 408.2V415.6M399.5 412.6V414.6M400.5 412.9V415.8M401.5 416.7V420.8M401.5 418.7V421.4M403.5 421.3V423.5M403.5 422.2V424.3M403.5 423.3V426.4M405.5 421.9V424.2M406.5 419.9V422.4M407.5 422.3V424.9M409.5 424.8V427.6M413.5 414.3V416.9M414.5 414.7V416.7M417.5 413.4V416.5M418.5 413.0V416.1M420.5 409.2V414.3M420.5 412.7V413.7M421.5 412.1V414.8M421.5 413.1V415.9M422.5 413.8V415.2M428.5 406.5V407.5M428.5 407.1V409.0M429.5 409.3V411.8M430.5 408.2V411.3M432.5 407.5V408.5M434.5 408.0V410.8M436.5 408.8V411.9M437.5 410.0V414.3M437.5 409.9V412.9M438.5 410.6V414.2M439.5 412.3V413.7M439.5 412.4V414.5M440.5 410.9V413.5M440.5 412.0V413.4M441.5 411.7V414.6M442.5 412.5V414.1M443.5 413.5V414.6M445.5 414.1V417.0M447.5 415.0V417.8M447.5 415.8V417.3M448.5 415.1V417.1M448.5 414.6V420.1M449.5 415.8V417.9M449.5 416.9V421.5M450.5 416.6V418.5M450.5 418.4V421.2M451.5 417.7V421.6M452.5 420.3V422.9M452.5 421.4V423.2M453.5 421.5V423.5M453.5 421.7V424.8M455.5 422.3V425.7M455.5 425.0V426.0M456.5 421.5V423.3M457.5 422.1V423.2M458.5 421.7V423.3M459.5 421.1V423.0M459.5 419.8V425.7M461.5 422.9V425.4M461.5 424.5V426.5M462.5 426.9V429.4M462.5 427.5V429.7M463.5 427.8V430.9M463.5 429.5V431.2M465.5 421.8V424.0M467.5 415.7V419.7M469.5 415.6V418.0M470.5 413.7V415.1M471.5 409.2V418.2M473.5 403.0V404.2M477.5 394.6V396.6M478.5 393.3V395.6M479.5 393.7V396.1M481.5 399.1V400.1M481.5 398.3V401.7M482.5 397.1V398.1M482.5 395.8V397.2M484.5 394.1V395.6M484.5 395.2V396.7M484.5 392.8V396.4M487.5 393.3V395.2M488.5 393.7V395.9M488.5 393.7V396.6M490.5 397.5V402.8M492.5 405.2V409.4M493.5 409.6V410.7M496.5 406.8V409.7M496.5 408.4V411.3M497.5 409.1V411.1M497.5 409.6V413.2M500.5 419.8V421.7M501.5 419.5V422.0M501.5 420.8V424.7M502.5 421.0V424.3M503.5 419.3V422.1M505.5 417.3V420.2M505.5 419.2V422.6M506.5 416.2V420.6M506.5 420.8V422.5M507.5 422.1V423.7M507.5 423.0V424.5M509.5 422.0V423.9M511.5 424.1V426.2M512.5 426.2V428.9M512.5 426.6V430.2M512.5 426.8V427.8M513.5 427.3V428.9M513.5 428.2V430.4M514.5 427.9V430.4M514.5 429.0V431.1M515.5 430.5V433.5M518.5 418.7V421.2M519.5 422.0V424.2M520.5 422.3V424.2M520.5 423.0V427.4M521.5 425.4V427.3M521.5 426.5V428.2M521.5 426.8V428.6M522.5 426.8V430.3M522.5 428.1V429.8M525.5 424.4V428.3M526.5 426.8V428.5M526.5 424.8V427.8M527.5 426.3V428.9M528.5 425.9V427.0M528.5 424.8V426.6M529.5 425.4V429.5M530.5 427.1V428.8M530.5 427.6V430.0M530.5 429.0V431.0M531.5 428.9V431.9M532.5 430.1V431.9M532.5 430.2V435.0M533.5 432.2V434.2M534.5 432.9V435.2M534.5 434.5V437.2M536.5 437.9V439.6M536.5 437.3V439.7M537.5 437.2V439.1M537.5 439.6V441.5M541.5 436.2V438.5M542.5 432.2V435.4M543.5 432.5V435.3M544.5 431.6V435.5M545.5 432.8V435.9M545.5 435.5V436.5M546.5 434.8V436.0M547.5 435.5V436.8M547.5 434.9V437.2M548.5 435.9V438.7M548.5 435.2V438.9M548.5 437.3V439.0M549.5 436.7V440.4M549.5 438.3V440.0M551.5 438.2V439.2M552.5 435.7V437.7M552.5 436.9V438.5M552.5 437.8V440.2M553.5 439.3V442.7M553.5 440.3V442.8M556.5 447.4V449.7M557.5 449.8V450.8M557.5 450.5V453.7M558.5 450.0V451.7M559.5 452.5V454.3M562.5 449.9V450.9M562.5 449.5V451.9M563.5 450.5V452.2M565.5 449.7V452.3M565.5 450.5V451.7M565.5 451.5V454.4M566.5 453.4V454.5M566.5 453.2V455.5M568.5 454.3V455.3M568.5 453.9V455.0M570.5 448.6V451.0M572.5 444.2V445.2M573.5 440.5V443.9M574.5 441.7V443.9M574.5 442.3V444.4M575.5 443.1V445.4M576.5 442.1V444.6M577.5 439.9V442.9M580.5 436.7V441.5M581.5 441.0V442.8M583.5 441.4V444.4M584.5 442.7V445.9M585.5 444.8V446.1M585.5 445.6V447.4M585.5 446.7V448.0M587.5 446.0V447.4M587.5 446.9V447.9M587.5 446.7V448.4M588.5 447.0V448.5M589.5 446.6V448.2M589.5 446.0V447.5M589.5 446.6V447.9M590.5 445.6V447.5M591.5 446.4V447.7M594.5 445.0V446.0M598.5 434.8V438.5M599.5 437.3V439.3M600.5 433.9V436.8M602.5 432.4V433.4M603.5 429.7V432.7M606.5 430.9V435.6M606.5 428.1V432.8M607.5 431.4V433.8M608.5 432.0V433.6M608.5 432.4V433.4M609.5 431.0V432.9M610.5 428.6V431.7M611.5 430.3V433.5M611.5 427.3V428.7M615.5 420.2V423.5M616.5 417.7V418.7M620.5 400.5V404.9M621.5 401.6V402.7M623.5 402.2V406.2M624.5 406.9V407.9M627.5 397.9V399.6M627.5 397.7V401.0M628.5 392.6V399.5M628.5 398.2V399.2M630.5 396.5V398.8M630.5 397.6V400.2M631.5 397.4V399.9M631.5 399.2V401.7M632.5 399.8V402.5M632.5 400.7V403.9M632.5 399.5V403.6M634.5 400.8V403.7M638.5 396.5V398.8M638.5 396.8V399.5M639.5 395.9V397.1M640.5 394.6V397.7M642.5 389.9V392.9M644.5 386.3V388.5M647.5 385.2V387.2M648.5 382.4V386.6M653.5 359.8V361.5M654.5 352.7V355.9M656.5 339.1V343.6M657.5 330.5V336.5M660.5 303.0V309.3M661.5 296.0V310.8M662.5 290.0V301.6M663.5 292.3V310.9M664.5 298.1V304.4M664.5 298.6V309.7M665.5 301.1V310.2M668.5 293.3V303.9M669.5 287.6V301.1M670.5 291.6V297.5M674.5 252.4V261.9M677.5 228.2V234.1M678.5 219.7V225.1M679.5 206.3V217.6M680.5 198.6V210.4M682.5 187.6V197.5M683.5 186.3V193.4M684.5 195.3V198.1M686.5 197.6V204.3M687.5 192.8V196.4M687.5 197.2V204.3M687.5 196.6V207.0M689.5 209.3V220.6M690.5 210.1V216.6M691.5 203.5V219.0M693.5 182.0V185.8M696.5 144.8V153.0M700.5 91.3V96.9M702.5 62.3V72.7M704.5 61.8V67.7M708.5 32.0V40.3M708.5 32.9V46.4M710.5 50.2V57.4M710.5 54.6V60.3M710.5 63.3V76.1M711.5 53.8V70.8M713.5 76.2V97.7M713.5 89.3V105.5M714.5 93.5V105.7M715.5 115.6V124.0M715.5 123.7V133.2M716.5 125.9V140.7M716.5 125.2V132.8M716.5 120.7V132.1M717.5 114.3V139.9M718.5 126.8V130.8M723.5 82.0V105.7M724.5 110.2V128.0M724.5 121.7V133.2M726.5 136.0V144.5M727.5 144.5V159.8M728.5 160.2V179.6M728.5 168.3V181.3M731.5 171.5V190.1M732.5 189.2V194.1M733.5 185.1V201.8M734.5 213.1V226.9M734.5 217.6V225.4M735.5 219.9V229.7M735.5 224.9V228.7M736.5 222.2V241.8M736.5 238.0V246.2M736.5 242.8V252.0M737.5 250.4V255.3M737.5 249.9V266.1M738.5 248.9V266.9M739.5 231.5V241.6M741.5 220.5V236.6M742.5 223.6V226.9M743.5 218.9V226.3M744.5 228.4V235.0M745.5 234.6V241.3M745.5 233.6V247.0M746.5 235.6V241.6M747.5 245.2V257.5M747.5 251.3V264.5M749.5 266.2V273.6M749.5 276.9V281.6M749.5 275.4V283.9M751.5 290.9V297.5M751.5 296.0V299.0M752.5 298.8V302.3M752.5 300.8V306.6M754.5 298.8V306.8M755.5 297.0V304.1M757.5 299.1V321.4M758.5 301.9V309.2M759.5 304.5V312.0M759.5 309.8V323.9M761.5 326.4V333.0M762.5 331.5V357.9M763.5 342.1V351.3M764.5 345.6V349.1M766.5 354.8V357.3M767.5 355.7V362.2M767.5 357.3V361.3M767.5 358.5V365.2M768.5 356.7V364.3M769.5 353.4V356.0M769.5 355.0V362.5M769.5 360.1V370.6M770.5 367.7V371.6M770.5 371.6V376.9M771.5 374.4V379.8M771.5 382.9V388.8M772.5 383.7V390.1M774.5 382.5V389.5M776.5 378.4V385.1M776.5 380.6V383.6M777.5 376.2V379.9M778.5 371.3V375.8M779.5 373.4V377.0M779.5 371.7V377.1M783.5 380.1V386.6M783.5 382.5V384.4M784.5 376.5V381.7M785.5 380.3V381.5M790.5 344.1V351.1M791.5 344.1V349.1M792.5 342.4V346.7M792.5 345.6V350.6M793.5 351.5V356.0M796.5 351.2V354.3M797.5 345.3V352.2M799.5 328.9V336.5M799.5 332.9V339.2M801.5 328.4V337.9M802.5 323.4V329.7M802.5 322.2V330.0M803.5 327.2V333.2M804.5 320.6V325.9M805.5 320.6V325.5M806.5 317.2V328.1M807.5 311.6V313.9M808.5 310.3V312.5M808.5 306.7V311.8M809.5 304.9V310.8M810.5 296.4V304.9M811.5 295.4V304.9M813.5 294.7V307.6M813.5 296.0V301.9M816.5 277.2V282.9M820.5 249.4V257.3M821.5 246.3V253.9M822.5 265.5V267.5M823.5 262.1V278.4M823.5 260.2V270.9M823.5 267.3V272.8M824.5 267.9V275.6M824.5 273.7V276.1M824.5 271.9V282.3M825.5 275.2V281.7M825.5 276.8V285.3M826.5 282.3V291.2M826.5 283.5V288.1M826.5 278.8V293.3M827.5 289.8V296.1M827.5 293.9V303.3M828.5 296.0V307.7M828.5 303.6V308.4M829.5 304.8V308.9M830.5 307.4V309.8M834.5 282.7V289.7M836.5 268.8V277.8M838.5 270.8V274.8M838.5 267.5V269.9M843.5 262.2V270.6M844.5 264.1V270.0M849.5 262.7V268.1M850.5 265.2V275.2M850.5 266.9V273.7M850.5 270.0V276.3M851.5 278.6V287.3M851.5 283.7V287.4M852.5 284.3V292.8M139.5 451.7V443.7M184.5 452.3V449.7M231.5 391.0V401.2M225.5 426.9V424.0M335.5 412.0V406.1M353.5 427.3V424.7M404.5 426.5V425.0M427.5 402.4V406.1M567.5 455.5V454.0M662.5 286.9V292.2M683.5 173.0V186.6M707.5 22.5V25.0M723.5 72.7V80.0M772.5 399.8V387.8M821.5 246.2V248.2M831.5 311.0V302.0M34.5 437.0V439.8"/>
</g>
<g id="notes" fill="#333" stroke="none">
<path d="M19.5 478.4 L30.8 478.4 M19.5 478.4 L22.6 475.6 M19.5 478.4 L23 481.8" stroke="#222" stroke-width="1" fill="none"/>
<text x="32.15" y="483.9" fill="#333" textLength="38.69" lengthAdjust="spacingAndGlyphs">752.68</text>
<path d="M707.5 24.2 L707.5 20.4 L711 20.4 M707.5 22.5 L710.6 22.6 L719 25.6 M707.8 22.8 L709.8 25.8" stroke="#222" stroke-width="1" fill="none"/>
<path d="M707.5 24.2V34 M708.5 25.5V36 M710.5 31.2V46" stroke="#2a8c2a" stroke-width="1" fill="none" shape-rendering="crispEdges"/>
<text x="721.18" y="30.9" fill="#333" textLength="43.82" lengthAdjust="spacingAndGlyphs">6124.04</text>
</g>
<g id="ma">
<polyline points="3.1,478.2 3.6,477.0 4.1,475.6 4.6,475.2 5.1,475.2 5.6,474.1 6.2,473.6 6.7,473.0 7.2,472.3 7.7,471.8 8.2,471.7 8.7,471.1 9.3,471.1 9.8,471.1 10.3,470.9 10.8,470.2 11.3,469.8 11.8,470.0 12.4,470.0 12.9,469.8 13.4,469.8 13.9,469.8 14.4,470.1 14.9,470.6 15.4,470.8 16.0,470.9 16.5,471.4 17.0,472.7 17.5,473.2 18.0,473.8 18.5,474.3 19.1,475.6 19.6,474.9 20.1,472.4 20.6,470.1 21.1,469.1 21.6,469.3 22.1,469.4 22.7,468.4 23.2,466.6 23.7,464.9 24.2,463.1 24.7,460.8 25.2,458.9 25.8,458.4 26.3,457.9 26.8,457.8 27.3,458.4 27.8,458.6 28.3,458.6 28.8,458.6 29.4,459.6 29.9,460.7 30.4,460.5 30.9,460.6 31.4,459.0 31.9,455.9 32.5,452.0 33.0,449.3 33.5,447.3 34.0,445.3 34.5,443.0 35.0,443.8 35.5,446.8 36.1,450.4 36.6,453.0 37.1,454.9 37.6,456.3 38.1,458.0 38.6,459.0 39.2,459.9 39.7,460.7 40.2,462.2 40.7,463.3 41.2,463.5 41.7,463.7 42.2,464.3 42.8,464.0 43.3,463.3 43.8,463.0 44.3,462.2 44.8,460.9 45.3,458.6 45.9,456.1 46.4,453.5 46.9,451.6 47.4,449.9 47.9,448.0 48.4,447.3 48.9,446.7 49.5,445.2 50.0,443.4 50.5,442.0 51.0,440.6 51.5,439.5 52.0,438.3 52.6,436.5 53.1,434.4 53.6,433.4 54.1,431.8 54.6,430.4 55.1,428.5 55.6,427.6 56.2,426.8 56.7,425.3 57.2,423.2 57.7,421.5 58.2,420.3 58.7,418.8 59.3,417.7 59.8,419.2 60.3,422.0 60.8,424.3 61.3,426.2 61.8,427.0 62.4,427.9 62.9,428.4 63.4,428.8 63.9,430.4 64.4,432.1 64.9,432.4 65.4,432.6 66.0,433.8 66.5,435.1 67.0,436.4 67.5,437.2 68.0,437.5 68.5,438.1 69.1,439.6 69.6,441.2 70.1,441.9 70.6,441.9 71.1,442.2 71.6,442.7 72.1,442.8 72.7,442.2 73.2,441.9 73.7,442.0 74.2,442.2 74.7,442.0 75.2,442.4 75.8,443.1 76.3,444.0 76.8,444.5 77.3,444.5 77.8,444.6 78.3,444.2 78.8,443.4 79.4,442.9 79.9,442.5 80.4,442.7 80.9,443.1 81.4,443.6 81.9,443.5 82.5,443.2 83.0,443.5 83.5,444.1 84.0,445.4 84.5,445.3 85.0,444.6 85.5,444.0 86.1,444.1 86.6,444.3 87.1,444.3 87.6,444.4 88.1,444.4 88.6,443.7 89.2,443.4 89.7,443.3 90.2,443.8 90.7,443.3 91.2,443.3 91.7,443.5 92.2,443.7 92.8,442.4 93.3,442.0 93.8,442.7 94.3,443.6 94.8,444.2 95.3,444.3 95.9,445.0 96.4,445.2 96.9,444.4 97.4,443.5 97.9,442.9 98.4,442.6 98.9,442.0 99.5,441.0 100.0,439.9 100.5,439.4 101.0,439.1 101.5,438.5 102.0,437.4 102.6,436.1 103.1,435.7 103.6,435.5 104.1,435.7 104.6,435.4 105.1,435.4 105.6,435.6 106.2,436.2 106.7,435.9 107.2,436.2 107.7,436.1 108.2,436.2 108.7,436.2 109.3,437.4 109.8,438.3 110.3,438.6 110.8,438.6 111.3,438.7 111.8,438.9 112.4,438.7 112.9,438.4 113.4,438.5 113.9,438.8 114.4,437.8 114.9,435.7 115.4,433.4 116.0,432.0 116.5,431.4 117.0,430.9 117.5,429.8 118.0,428.8 118.5,428.2 119.1,427.8 119.6,427.3 120.1,426.9 120.6,426.8 121.1,427.1 121.6,427.3 122.1,426.4 122.7,425.1 123.2,424.5 123.7,424.2 124.2,423.9 124.7,423.8 125.2,423.2 125.8,422.9 126.3,423.5 126.8,424.3 127.3,424.4 127.8,424.3 128.3,424.1 128.8,423.1 129.4,422.6 129.9,422.7 130.4,423.7 130.9,423.6 131.4,424.3 131.9,425.6 132.5,426.5 133.0,427.3 133.5,427.2 134.0,427.8 134.5,429.0 135.0,429.9 135.5,429.9 136.1,430.0 136.6,430.3 137.1,430.9 137.6,432.2 138.1,434.7 138.6,437.3 139.2,439.7 139.7,442.0 140.2,443.1 140.7,443.9 141.2,445.0 141.7,445.3 142.2,444.7 142.8,442.9 143.3,441.0 143.8,440.0 144.3,439.9 144.8,439.0 145.3,438.3 145.9,437.7 146.4,437.7 146.9,437.7 147.4,438.4 147.9,438.4 148.4,438.5 148.9,437.9 149.5,437.7 150.0,437.3 150.5,436.7 151.0,436.7 151.5,436.9 152.0,437.1 152.6,436.9 153.1,437.0 153.6,436.4 154.1,436.0 154.6,435.6 155.1,435.7 155.6,434.9 156.2,434.9 156.7,435.3 157.2,436.0 157.7,436.1 158.2,436.4 158.7,436.8 159.3,437.6 159.8,438.0 160.3,438.6 160.8,439.3 161.3,440.0 161.8,440.8 162.4,441.7 162.9,442.3 163.4,442.6 163.9,443.0 164.4,443.4 164.9,443.7 165.4,443.4 166.0,443.3 166.5,444.2 167.0,445.0 167.5,444.9 168.0,444.8 168.5,445.0 169.1,445.7 169.6,446.1 170.1,446.8 170.6,447.7 171.1,447.9 171.6,448.0 172.1,448.1 172.7,447.1 173.2,446.0 173.7,445.3 174.2,445.2 174.7,444.8 175.2,443.8 175.8,443.8 176.3,443.9 176.8,443.9 177.3,443.2 177.8,442.5 178.3,442.1 178.8,441.9 179.4,442.5 179.9,443.5 180.4,444.5 180.9,444.7 181.4,445.0 181.9,445.5 182.5,445.8 183.0,446.1 183.5,447.7 184.0,449.0 184.5,449.6 185.0,449.0 185.5,447.1 186.1,444.6 186.6,441.9 187.1,439.1 187.6,436.9 188.1,435.4 188.6,433.4 189.2,430.4 189.7,426.6 190.2,422.9 190.7,419.5 191.2,416.3 191.7,412.9 192.2,409.9 192.8,408.4 193.3,407.0 193.8,404.3 194.3,402.9 194.8,403.9 195.3,404.6 195.9,404.5 196.4,404.9 196.9,406.3 197.4,406.1 197.9,405.1 198.4,404.1 198.9,404.3 199.5,404.9 200.0,405.0 200.5,406.0 201.0,406.7 201.5,406.7 202.0,405.6 202.6,405.0 203.1,403.9 203.6,403.2 204.1,402.7 204.6,402.4 205.1,403.3 205.6,403.7 206.2,403.0 206.7,401.4 207.2,400.5 207.7,399.6 208.2,399.8 208.7,400.3 209.3,402.1 209.8,405.1 210.3,406.8 210.8,407.7 211.3,408.8 211.8,409.9 212.4,410.3 212.9,410.6 213.4,411.3 213.9,412.9 214.4,413.3 214.9,413.1 215.4,413.5 216.0,414.5 216.5,415.0 217.0,416.3 217.5,416.7 218.0,417.9 218.5,418.0 219.1,417.7 219.6,417.4 220.1,417.8 220.6,418.4 221.1,418.7 221.6,419.9 222.1,420.8 222.7,420.8 223.2,420.2 223.7,419.6 224.2,419.8 224.7,420.2 225.2,420.7 225.8,421.4 226.3,421.0 226.8,419.9 227.3,419.5 227.8,418.5 228.3,417.5 228.8,416.2 229.4,415.5 229.9,412.9 230.4,408.0 230.9,402.2 231.4,398.8 231.9,398.7 232.5,399.2 233.0,399.3 233.5,399.1 234.0,398.4 234.5,397.1 235.0,395.7 235.5,395.3 236.1,395.2 236.6,395.4 237.1,395.4 237.6,394.5 238.1,394.1 238.6,393.2 239.2,392.2 239.7,390.4 240.2,389.4 240.7,389.4 241.2,389.2 241.7,389.1 242.2,388.8 242.8,388.5 243.3,387.9 243.8,387.5 244.3,387.1 244.8,386.9 245.3,388.1 245.9,389.9 246.4,390.8 246.9,391.5 247.4,392.2 247.9,390.6 248.4,386.8 248.9,384.9 249.5,383.4 250.0,382.5 250.5,381.1 251.0,379.7 251.5,379.4 252.0,380.2 252.6,379.9 253.1,379.0 253.6,377.9 254.1,377.3 254.6,377.4 255.1,377.8 255.6,378.8 256.2,378.0 256.7,376.5 257.2,375.8 257.7,375.1 258.2,374.4 258.7,372.7 259.3,371.5 259.8,370.8 260.3,370.2 260.8,370.1 261.3,370.2 261.8,370.8 262.4,371.0 262.9,369.1 263.4,367.6 263.9,366.6 264.4,366.1 264.9,366.4 265.4,367.2 266.0,368.0 266.5,367.3 267.0,367.2 267.5,368.7 268.0,371.7 268.5,374.0 269.1,375.4 269.6,376.2 270.1,377.5 270.6,377.7 271.1,378.1 271.6,378.7 272.1,379.5 272.7,379.6 273.2,378.8 273.7,376.8 274.2,376.3 274.7,376.7 275.2,376.8 275.8,376.5 276.3,375.4 276.8,374.2 277.3,373.2 277.8,372.6 278.3,370.7 278.8,368.4 279.4,367.0 279.9,366.2 280.4,364.9 280.9,364.1 281.4,363.9 281.9,363.7 282.5,363.9 283.0,365.3 283.5,366.3 284.0,366.6 284.5,366.2 285.0,365.9 285.5,364.9 286.1,363.4 286.6,363.0 287.1,363.0 287.6,363.5 288.1,362.1 288.6,361.3 289.2,361.1 289.7,362.7 290.2,365.1 290.7,367.4 291.2,369.9 291.7,372.0 292.2,373.6 292.8,374.2 293.3,376.0 293.8,378.2 294.3,379.8 294.8,379.6 295.3,377.6 295.9,374.9 296.4,373.3 296.9,372.9 297.4,372.7 297.9,372.3 298.4,370.8 298.9,368.9 299.5,367.1 300.0,366.3 300.5,365.3 301.0,363.3 301.5,363.0 302.0,363.1 302.6,362.8 303.1,361.1 303.6,360.0 304.1,358.7 304.6,357.2 305.1,355.8 305.6,355.7 306.2,356.3 306.7,356.6 307.2,357.3 307.7,358.6 308.2,359.2 308.7,358.4 309.3,357.0 309.8,356.7 310.3,356.6 310.8,355.5 311.3,355.1 311.8,355.1 312.4,356.5 312.9,356.5 313.4,354.9 313.9,354.1 314.4,354.4 314.9,354.3 315.4,353.7 316.0,353.6 316.5,353.7 317.0,353.9 317.5,355.0 318.0,356.4 318.5,357.5 319.1,356.9 319.6,357.2 320.1,358.6 320.6,360.7 321.1,363.8 321.6,367.3 322.1,370.6 322.7,373.2 323.2,374.8 323.7,376.9 324.2,378.5 324.7,378.5 325.2,377.2 325.8,376.0 326.3,376.6 326.8,379.4 327.3,383.5 327.8,385.9 328.3,386.6 328.8,386.5 329.4,387.6 329.9,388.7 330.4,388.8 330.9,388.7 331.4,388.7 331.9,388.2 332.5,388.4 333.0,389.8 333.5,391.8 334.0,393.7 334.5,396.0 335.0,398.5 335.5,401.3 336.1,403.6 336.6,403.6 337.1,401.4 337.6,399.5 338.1,399.0 338.6,399.5 339.2,401.5 339.7,403.0 340.2,403.9 340.7,402.7 341.2,400.8 341.7,398.5 342.2,397.4 342.8,397.1 343.3,396.4 343.8,396.1 344.3,396.8 344.8,397.2 345.3,397.8 345.9,398.2 346.4,398.1 346.9,399.3 347.4,400.7 347.9,403.1 348.4,405.1 348.9,406.8 349.5,408.7 350.0,409.8 350.5,411.5 351.0,413.7 351.5,415.8 352.0,418.3 352.6,420.4 353.1,422.6 353.6,424.3 354.1,423.0 354.6,420.0 355.1,417.3 355.6,415.7 356.2,414.8 356.7,413.6 357.2,412.4 357.7,411.8 358.2,410.1 358.7,407.5 359.3,405.3 359.8,403.9 360.3,402.6 360.8,400.9 361.3,400.1 361.8,399.6 362.4,399.5 362.9,399.7 363.4,399.8 363.9,400.6 364.4,400.9 364.9,401.0 365.4,400.9 366.0,401.0 366.5,401.1 367.0,400.9 367.5,400.4 368.0,401.1 368.5,403.0 369.1,404.8 369.6,405.7 370.1,406.6 370.6,407.2 371.1,408.5 371.6,410.4 372.1,411.3 372.7,411.8 373.2,412.8 373.7,413.8 374.2,414.6 374.7,414.2 375.2,411.4 375.8,406.8 376.3,403.0 376.8,400.0 377.3,397.5 377.8,396.4 378.3,396.1 378.8,396.7 379.4,396.8 379.9,397.1 380.4,397.3 380.9,397.5 381.4,397.5 381.9,397.3 382.5,397.8 383.0,397.6 383.5,397.9 384.0,398.6 384.5,398.8 385.0,398.5 385.5,398.8 386.1,397.9 386.6,396.9 387.1,397.4 387.6,398.9 388.1,400.1 388.6,400.4 389.2,400.9 389.7,400.2 390.2,400.2 390.7,399.7 391.2,400.2 391.7,401.1 392.2,401.9 392.8,402.5 393.3,403.3 393.8,404.3 394.3,404.9 394.8,405.3 395.3,406.3 395.9,407.5 396.4,408.8 396.9,409.7 397.4,410.5 397.9,410.9 398.4,412.0 398.9,413.3 399.5,413.8 400.0,414.0 400.5,414.6 401.0,415.7 401.5,417.1 402.0,418.6 402.6,420.9 403.1,421.9 403.6,422.8 404.1,424.1 404.6,425.1 405.1,424.7 405.6,423.6 406.2,422.0 406.7,421.6 407.2,422.3 407.7,423.0 408.2,423.0 408.7,423.3 409.3,424.3 409.8,426.0 410.3,427.0 410.8,426.9 411.3,425.8 411.8,424.3 412.4,422.5 412.9,420.7 413.4,418.7 413.9,417.1 414.4,416.2 414.9,415.3 415.4,414.6 416.0,413.6 416.5,413.3 417.0,414.0 417.5,414.4 418.0,414.5 418.5,414.2 419.1,414.0 419.6,413.5 420.1,412.5 420.6,412.5 421.1,413.1 421.6,413.7 422.1,414.6 422.7,414.8 423.2,414.5 423.7,414.7 424.2,414.8 424.7,414.6 425.2,413.4 425.8,412.0 426.3,410.4 426.8,409.4 427.3,408.9 427.8,408.4 428.3,407.8 428.8,408.0 429.4,409.4 429.9,410.2 430.4,410.3 430.9,409.9 431.4,410.8 431.9,410.4 432.5,409.4 433.0,408.5 433.5,408.3 434.0,408.3 434.5,408.8 435.0,409.5 435.5,409.7 436.1,410.3 436.6,411.0 437.1,411.2 437.6,411.1 438.1,411.3 438.6,411.6 439.2,412.5 439.7,412.9 440.2,412.9 440.7,413.2 441.2,412.8 441.7,412.8 442.2,412.7 442.8,413.2 443.3,413.8 443.8,413.6 444.3,413.4 444.8,413.7 445.3,414.3 445.9,415.2 446.4,416.3 446.9,416.4 447.4,416.0 447.9,417.0 448.4,417.0 448.9,416.7 449.5,416.7 450.0,417.4 450.5,418.4 451.0,419.2 451.5,419.7 452.0,420.1 452.6,420.9 453.1,421.7 453.6,422.9 454.1,423.5 454.6,423.3 455.1,423.3 455.6,424.0 456.2,424.3 456.7,423.9 457.2,423.0 457.7,423.0 458.2,422.8 458.7,422.4 459.3,422.8 459.8,423.4 460.3,424.3 460.8,424.9 461.3,425.1 461.8,425.9 462.4,427.5 462.9,428.8 463.4,430.0 463.9,430.6 464.4,430.1 464.9,428.0 465.4,425.8 466.0,424.3 466.5,423.3 467.0,422.2 467.5,420.8 468.0,419.5 468.5,418.1 469.1,417.2 469.6,417.1 470.1,416.1 470.6,415.1 471.1,413.5 471.6,412.6 472.1,411.2 472.7,409.6 473.2,407.9 473.7,405.6 474.2,404.2 474.7,403.5 475.2,403.1 475.8,401.8 476.3,400.5 476.8,399.2 477.3,397.9 477.8,396.5 478.3,395.5 478.8,394.8 479.4,394.9 479.9,396.6 480.4,397.8 480.9,398.3 481.4,398.8 481.9,399.8 482.5,399.1 483.0,397.8 483.5,397.0 484.0,396.2 484.5,395.4 485.0,394.9 485.5,394.8 486.1,394.7 486.6,394.8 487.1,394.3 487.6,393.9 488.1,394.4 488.6,395.6 489.2,397.1 489.7,398.7 490.2,400.3 490.7,401.1 491.2,401.8 491.7,402.4 492.2,403.4 492.8,405.4 493.3,408.1 493.8,409.4 494.3,409.8 494.8,409.8 495.3,409.7 495.9,409.3 496.4,409.1 496.9,409.7 497.4,410.2 497.9,410.4 498.4,411.4 498.9,413.0 499.5,415.1 500.0,417.0 500.5,418.9 501.0,420.1 501.5,420.6 502.0,421.4 502.6,422.7 503.1,422.3 503.6,421.6 504.1,420.9 504.6,420.0 505.1,419.1 505.6,419.4 506.2,420.0 506.7,420.1 507.2,421.0 507.7,422.5 508.2,423.2 508.7,423.2 509.3,423.5 509.8,424.0 510.3,424.6 510.8,425.2 511.3,425.5 511.8,426.0 512.4,426.8 512.9,427.4 513.4,427.5 513.9,428.2 514.4,428.9 514.9,430.2 515.4,431.6 516.0,432.0 516.5,429.9 517.0,425.8 517.5,423.0 518.0,421.4 518.5,421.1 519.1,421.2 519.6,422.2 520.1,423.4 520.6,424.0 521.1,425.0 521.6,426.2 522.1,427.4 522.7,428.1 523.2,429.0 523.7,429.5 524.2,429.1 524.7,428.1 525.2,427.5 525.8,427.1 526.3,427.5 526.8,427.4 527.3,427.5 527.8,427.3 528.3,426.8 528.8,426.6 529.4,427.2 529.9,427.4 530.4,427.6 530.9,428.9 531.4,430.2 531.9,431.0 532.5,431.3 533.0,432.1 533.5,433.1 534.0,434.1 534.5,435.0 535.0,435.7 535.5,435.9 536.1,436.1 536.6,437.4 537.1,438.2 537.6,439.3 538.1,439.6 538.6,439.2 539.2,439.0 539.7,438.7 540.2,437.8 540.7,436.5 541.2,436.7 541.7,436.9 542.2,435.6 542.8,433.6 543.3,433.1 543.8,434.0 544.3,434.4 544.8,434.2 545.3,434.2 545.9,434.7 546.4,435.5 546.9,435.8 547.4,436.1 547.9,436.6 548.4,437.1 548.9,437.8 549.5,438.4 550.0,439.3 550.5,439.6 551.0,439.1 551.5,438.4 552.0,437.4 552.6,437.1 553.1,438.3 553.6,439.9 554.1,441.3 554.6,442.5 555.1,443.6 555.6,444.9 556.2,446.2 556.7,447.7 557.2,449.2 557.7,450.6 558.2,450.8 558.7,451.6 559.3,452.4 559.8,453.4 560.3,453.2 560.8,452.2 561.3,451.5 561.8,451.3 562.4,451.3 562.9,451.0 563.4,451.0 563.9,451.4 564.4,451.6 564.9,451.2 565.4,450.8 566.0,451.2 566.5,452.5 567.0,453.6 567.5,454.5 568.0,454.7 568.5,454.7 569.1,454.2 569.6,453.1 570.1,451.6 570.6,450.7 571.1,449.8 571.6,448.3 572.1,446.3 572.7,444.8 573.2,444.0 573.7,443.3 574.2,442.9 574.7,443.1 575.2,443.4 575.8,443.5 576.3,443.8 576.8,443.6 577.3,442.8 577.8,441.9 578.3,440.5 578.8,440.1 579.4,440.1 579.9,440.1 580.4,439.9 580.9,440.3 581.4,440.9 581.9,441.7 582.5,442.6 583.0,443.3 583.5,443.7 584.0,444.1 584.5,444.8 585.0,445.4 585.5,445.8 586.1,446.5 586.6,447.2 587.1,447.0 587.6,447.0 588.1,447.3 588.6,447.6 589.2,447.4 589.7,447.3 590.2,447.2 590.7,446.8 591.2,446.7 591.7,446.9 592.2,447.4 592.8,447.6 593.3,447.5 593.8,446.9 594.3,445.8 594.8,445.4 595.3,445.1 595.9,444.6 596.4,444.2 596.9,443.6 597.4,442.2 597.9,440.2 598.4,438.0 598.9,437.4 599.5,438.0 600.0,438.0 600.5,437.2 601.0,436.4 601.5,435.2 602.0,433.9 602.6,432.7 603.1,431.5 603.6,431.2 604.1,431.4 604.6,431.6 605.1,431.2 605.6,430.6 606.2,430.7 606.7,431.2 607.2,431.9 607.7,432.2 608.2,432.4 608.7,432.7 609.3,432.6 609.8,431.9 610.3,431.1 610.8,430.6 611.3,430.4 611.8,429.6 612.4,428.9 612.9,428.5 613.4,427.6 613.9,426.1 614.4,425.3 614.9,424.8 615.4,423.4 616.0,421.0 616.5,418.8 617.0,416.7 617.5,413.6 618.0,408.9 618.5,404.8 619.1,402.9 619.6,401.7 620.1,401.5 620.6,401.9 621.1,403.5 621.6,403.7 622.1,403.0 622.7,401.4 623.2,402.3 623.7,405.7 624.2,408.3 624.7,408.4 625.2,407.8 625.8,406.5 626.3,403.7 626.8,400.7 627.3,398.9 627.8,398.6 628.3,397.7 628.8,397.6 629.4,397.7 629.9,397.9 630.4,397.5 630.9,397.8 631.4,398.7 631.9,399.4 632.5,400.1 633.0,401.2 633.5,402.3 634.0,403.1 634.5,402.7 635.0,402.6 635.5,402.9 636.1,403.6 636.6,403.6 637.1,402.7 637.6,401.8 638.1,400.5 638.6,399.1 639.2,398.0 639.7,397.7 640.2,397.0 640.7,397.1 641.2,396.1 641.7,394.6 642.2,393.0 642.8,392.7 643.3,392.4 643.8,390.8 644.3,388.7 644.8,387.7 645.3,387.8 645.9,388.2 646.4,387.9 646.9,387.5 647.4,387.0 647.9,386.0 648.4,386.2 648.9,385.0 649.5,382.6 650.0,380.5 650.5,378.5 651.0,377.0 651.5,373.8 652.0,371.4 652.6,369.2 653.1,366.9 653.6,364.2 654.1,360.3 654.6,356.2 655.1,352.6 655.6,350.6 656.2,348.3 656.7,346.0 657.2,340.8 657.7,337.8 658.2,332.6 658.7,326.6 659.3,319.4 659.8,314.8 660.3,310.5 660.8,305.7 661.3,305.3 661.8,302.4 662.4,297.8 662.9,291.7 663.4,292.3 663.9,296.1 664.4,299.9 664.9,302.2 665.4,305.0 666.0,304.5 666.5,298.5 667.0,295.3 667.5,295.9 668.0,296.7 668.5,296.6 669.1,298.1 669.6,299.8 670.1,297.6 670.6,296.0 671.1,293.6 671.6,290.4 672.1,285.7 672.7,279.3 673.2,273.7 673.7,269.2 674.2,264.7 674.7,260.7 675.2,258.1 675.8,254.6 676.3,248.6 676.8,241.1 677.3,234.7 677.8,229.7 678.3,225.6 678.8,219.3 679.4,214.3 679.9,209.7 680.4,206.6 680.9,204.1 681.4,203.8 681.9,201.5 682.5,197.7 683.0,193.2 683.5,190.9 684.0,191.9 684.5,195.9 685.0,200.7 685.5,204.3 686.1,205.6 686.6,205.0 687.1,200.6 687.6,198.9 688.1,201.4 688.6,204.8 689.2,208.9 689.7,214.6 690.2,216.4 690.7,215.4 691.2,216.2 691.7,216.0 692.2,211.7 692.8,205.8 693.3,197.5 693.8,189.8 694.3,182.2 694.8,175.6 695.3,169.4 695.9,163.0 696.4,155.5 696.9,149.1 697.4,144.6 697.9,138.0 698.4,130.3 698.9,121.9 699.5,114.7 700.0,108.7 700.5,101.8 701.0,95.6 701.5,88.6 702.0,82.3 702.6,75.2 703.1,71.7 703.6,71.8 704.1,70.3 704.6,66.5 705.1,58.7 705.6,51.8 706.2,42.7 706.7,34.2 707.2,31.2 707.7,30.8 708.2,34.0 708.7,37.0 709.3,41.2 709.8,45.2 710.3,52.2 710.8,60.9 711.3,64.2 711.8,65.6 712.4,65.9 712.9,70.3 713.4,76.8 713.9,85.7 714.4,94.0 714.9,106.5 715.4,116.9 716.0,126.2 716.5,130.2 717.0,128.5 717.5,126.3 718.0,126.5 718.5,127.3 719.1,124.1 719.6,119.0 720.1,113.0 720.6,106.2 721.1,97.9 721.6,89.8 722.1,83.8 722.7,76.9 723.2,77.4 723.7,82.3 724.2,96.6 724.7,113.8 725.2,124.7 725.8,131.9 726.3,137.5 726.8,143.1 727.3,147.6 727.8,153.0 728.3,159.5 728.8,167.6 729.4,174.9 729.9,178.3 730.4,176.8 730.9,175.0 731.4,178.1 731.9,184.9 732.5,186.8 733.0,188.8 733.5,193.4 734.0,201.5 734.5,210.9 735.0,220.6 735.5,226.1 736.1,230.0 736.6,237.5 737.1,247.7 737.6,252.4 738.1,255.7 738.6,258.2 739.2,255.3 739.7,247.1 740.2,239.7 740.7,235.9 741.2,234.0 741.7,233.0 742.2,230.4 742.8,225.7 743.3,223.7 743.8,223.6 744.3,227.5 744.8,231.5 745.3,235.0 745.9,237.7 746.4,240.2 746.9,240.0 747.4,242.5 747.9,248.9 748.4,257.4 748.9,264.3 749.5,270.0 750.0,275.3 750.5,283.7 751.0,291.5 751.5,295.7 752.0,297.8 752.6,301.3 753.1,304.9 753.6,304.1 754.1,301.8 754.6,300.3 755.1,301.5 755.6,301.1 756.2,300.2 756.7,299.7 757.2,301.3 757.7,302.9 758.2,304.5 758.7,305.3 759.3,309.2 759.8,314.0 760.3,317.9 760.8,320.2 761.3,324.6 761.8,329.5 762.4,335.9 762.9,340.1 763.4,343.8 763.9,345.2 764.4,346.1 764.9,347.6 765.4,349.1 766.0,352.4 766.5,355.6 767.0,357.0 767.5,358.2 768.0,359.6 768.5,360.6 769.1,358.9 769.6,358.4 770.1,362.9 770.6,369.6 771.1,374.9 771.6,378.3 772.1,382.4 772.7,386.8 773.2,389.6 773.7,391.8 774.2,392.1 774.7,389.3 775.2,386.0 775.8,385.2 776.3,384.0 776.8,383.3 777.3,380.8 777.8,378.4 778.3,375.7 778.8,375.4 779.4,374.8 779.9,374.6 780.4,373.1 780.9,371.1 781.4,370.0 781.9,372.5 782.5,375.2 783.0,377.1 783.5,379.7 784.0,381.2 784.5,380.8 785.0,380.3 785.5,379.9 786.1,379.5 786.6,378.0 787.1,376.3 787.6,376.1 788.1,374.2 788.6,370.6 789.2,364.6 789.7,358.8 790.2,354.1 790.7,350.6 791.2,348.8 791.7,347.4 792.2,346.2 792.8,346.5 793.3,348.2 793.8,351.5 794.3,354.2 794.8,357.8 795.3,360.5 795.9,359.6 796.4,356.5 796.9,353.7 797.4,350.0 797.9,347.8 798.4,345.1 798.9,340.9 799.5,337.3 800.0,335.2 800.5,334.6 801.0,333.3 801.5,330.7 802.0,328.0 802.6,326.8 803.1,328.3 803.6,329.8 804.1,329.7 804.6,328.1 805.1,325.1 805.6,323.1 806.2,322.7 806.7,321.5 807.2,318.9 807.7,315.4 808.2,312.4 808.7,310.3 809.3,308.5 809.8,306.4 810.3,304.1 810.8,302.6 811.3,302.9 811.8,301.5 812.4,300.1 812.9,299.6 813.4,298.9 813.9,298.2 814.4,297.7 814.9,294.9 815.4,289.5 816.0,283.5 816.5,279.3 817.0,275.7 817.5,272.3 818.0,267.6 818.5,264.2 819.1,261.2 819.6,258.5 820.1,256.5 820.6,254.6 821.1,253.6 821.6,251.7 822.1,253.0 822.7,258.3 823.2,262.0 823.7,266.1 824.2,268.2 824.7,272.0 825.2,275.8 825.8,280.1 826.3,283.9 826.8,286.5 827.3,290.0 827.8,295.1 828.3,300.0 828.8,303.8 829.4,305.8 829.9,305.7 830.4,305.4 830.9,306.3 831.4,307.2 831.9,305.2 832.5,301.7 833.0,296.1 833.5,290.3 834.0,287.6 834.5,286.0 835.0,283.2 835.5,279.3 836.1,276.4 836.6,275.1 837.1,276.8 837.6,278.3 838.1,276.6 838.6,272.9 839.2,270.5 839.7,267.1 840.2,263.7 840.7,260.1 841.2,260.1 841.7,260.6 842.2,260.8 842.8,260.4 843.3,261.7 843.8,264.0 844.3,265.5 844.8,265.6 845.3,266.8 845.9,267.9 846.4,266.4 846.9,265.6 847.4,264.0 847.9,262.1 848.4,261.1 848.9,261.5 849.5,262.5 850.0,264.3 850.5,267.6 851.0,271.0 851.5,277.0 852.0,282.9 852.6,287.6 853.1,287.7 853.6,288.4 854.1,289.5 854.6,289.2 855.1,288.6 855.6,287.8 856.2,285.9 856.4,284.9" fill="none" stroke="#222222" stroke-width="1.1" stroke-linejoin="round" shape-rendering="crispEdges" />
<polyline points="3.1,479.3 3.6,478.4 4.1,477.2 4.6,476.4 5.1,475.7 5.6,474.8 6.2,474.3 6.7,473.8 7.2,473.1 7.7,472.4 8.2,472.2 8.7,471.6 9.3,471.4 9.8,471.3 10.3,471.0 10.8,470.7 11.3,470.5 11.8,470.3 12.4,469.9 12.9,469.9 13.4,469.9 13.9,469.9 14.4,469.9 14.9,470.2 15.4,470.4 16.0,470.6 16.5,471.2 17.0,471.8 17.5,472.2 18.0,472.9 18.5,473.8 19.1,474.6 19.6,474.4 20.1,473.8 20.6,472.8 21.1,471.6 21.6,470.1 22.1,469.4 22.7,468.8 23.2,467.9 23.7,467.0 24.2,465.3 24.7,463.2 25.2,461.5 25.8,460.2 26.3,458.8 26.8,458.2 27.3,458.2 27.8,458.2 28.3,458.3 28.8,458.6 29.4,459.2 29.9,459.5 30.4,459.9 30.9,460.4 31.4,459.8 31.9,458.3 32.5,456.0 33.0,453.5 33.5,450.6 34.0,447.9 34.5,445.6 35.0,445.0 35.5,445.4 36.1,446.6 36.6,449.0 37.1,451.8 37.6,454.1 38.1,456.0 38.6,457.3 39.2,458.6 39.7,459.7 40.2,460.9 40.7,461.7 41.2,462.5 41.7,463.3 42.2,463.8 42.8,463.7 43.3,463.7 43.8,463.6 44.3,463.0 44.8,462.0 45.3,460.7 45.9,458.9 46.4,456.6 46.9,454.5 47.4,452.3 47.9,450.4 48.4,449.0 48.9,447.8 49.5,446.3 50.0,445.2 50.5,444.0 51.0,442.4 51.5,441.1 52.0,439.8 52.6,438.3 53.1,436.6 53.6,435.3 54.1,433.6 54.6,431.9 55.1,430.6 55.6,429.4 56.2,428.0 56.7,426.7 57.2,425.2 57.7,423.8 58.2,422.1 58.7,420.5 59.3,419.3 59.8,419.2 60.3,420.0 60.8,421.3 61.3,423.2 61.8,425.2 62.4,426.6 62.9,427.4 63.4,428.1 63.9,429.1 64.4,430.2 64.9,430.9 65.4,431.9 66.0,433.1 66.5,433.8 67.0,434.7 67.5,435.8 68.0,436.7 68.5,437.5 69.1,438.5 69.6,439.4 70.1,440.3 70.6,441.2 71.1,441.9 71.6,442.3 72.1,442.3 72.7,442.4 73.2,442.4 73.7,442.2 74.2,442.1 74.7,442.0 75.2,442.2 75.8,442.6 76.3,443.0 76.8,443.5 77.3,444.0 77.8,444.3 78.3,444.3 78.8,444.0 79.4,443.6 79.9,443.2 80.4,443.0 80.9,442.9 81.4,443.1 81.9,443.2 82.5,443.3 83.0,443.4 83.5,443.8 84.0,444.2 84.5,444.5 85.0,444.7 85.5,444.7 86.1,444.7 86.6,444.2 87.1,444.1 87.6,444.3 88.1,444.3 88.6,444.0 89.2,443.9 89.7,443.8 90.2,443.6 90.7,443.3 91.2,443.5 91.7,443.6 92.2,443.5 92.8,443.0 93.3,442.8 93.8,442.9 94.3,442.9 94.8,443.1 95.3,443.8 95.9,444.5 96.4,444.6 96.9,444.5 97.4,444.3 97.9,443.9 98.4,443.3 98.9,442.6 99.5,441.9 100.0,441.1 100.5,440.5 101.0,439.7 101.5,439.1 102.0,438.3 102.6,437.4 103.1,436.8 103.6,436.1 104.1,435.7 104.6,435.5 105.1,435.5 105.6,435.6 106.2,435.7 106.7,435.7 107.2,436.0 107.7,436.1 108.2,436.1 108.7,436.2 109.3,436.7 109.8,437.2 110.3,437.7 110.8,438.2 111.3,438.6 111.8,438.7 112.4,438.7 112.9,438.5 113.4,438.8 113.9,438.6 114.4,438.2 114.9,437.2 115.4,436.1 116.0,434.3 116.5,433.0 117.0,431.7 117.5,430.7 118.0,430.0 118.5,429.4 119.1,428.5 119.6,428.0 120.1,427.5 120.6,427.2 121.1,427.2 121.6,427.1 122.1,426.6 122.7,426.3 123.2,425.7 123.7,424.9 124.2,424.3 124.7,424.0 125.2,423.6 125.8,423.3 126.3,423.5 126.8,423.6 127.3,423.8 127.8,424.2 128.3,424.3 128.8,423.7 129.4,423.5 129.9,423.2 130.4,423.1 130.9,423.1 131.4,423.8 131.9,424.5 132.5,425.3 133.0,426.0 133.5,426.7 134.0,427.3 134.5,428.0 135.0,428.6 135.5,429.0 136.1,429.7 136.6,430.1 137.1,430.4 137.6,431.1 138.1,432.6 138.6,434.3 139.2,436.5 139.7,438.9 140.2,440.9 140.7,442.4 141.2,443.8 141.7,444.5 142.2,444.5 142.8,444.0 143.3,443.1 143.8,441.9 144.3,440.9 144.8,439.7 145.3,439.1 145.9,438.6 146.4,438.2 146.9,437.8 147.4,438.0 147.9,438.0 148.4,438.2 148.9,438.2 149.5,438.1 150.0,437.7 150.5,437.3 151.0,437.1 151.5,436.9 152.0,436.8 152.6,436.9 153.1,437.0 153.6,436.7 154.1,436.4 154.6,436.2 155.1,435.8 155.6,435.3 156.2,435.3 156.7,435.3 157.2,435.4 157.7,435.5 158.2,436.1 158.7,436.5 159.3,436.9 159.8,437.2 160.3,438.0 160.8,438.5 161.3,439.1 161.8,439.9 162.4,440.8 162.9,441.3 163.4,442.1 163.9,442.5 164.4,443.0 164.9,443.2 165.4,443.4 166.0,443.4 166.5,443.9 167.0,444.1 167.5,444.3 168.0,444.6 168.5,445.0 169.1,445.3 169.6,445.5 170.1,446.1 170.6,446.8 171.1,447.2 171.6,447.6 172.1,447.9 172.7,447.6 173.2,447.0 173.7,446.6 174.2,445.8 174.7,445.2 175.2,444.6 175.8,444.4 176.3,444.1 176.8,443.9 177.3,443.5 177.8,443.3 178.3,442.8 178.8,442.4 179.4,442.4 179.9,442.7 180.4,443.3 180.9,443.8 181.4,444.5 181.9,445.0 182.5,445.2 183.0,445.7 183.5,446.6 184.0,447.5 184.5,448.2 185.0,448.7 185.5,448.3 186.1,447.1 186.6,445.1 187.1,442.5 187.6,440.2 188.1,437.9 188.6,435.6 189.2,433.2 189.7,430.6 190.2,427.4 190.7,424.0 191.2,420.5 191.7,416.9 192.2,413.9 192.8,411.4 193.3,409.2 193.8,406.7 194.3,405.4 194.8,404.8 195.3,404.0 195.9,403.8 196.4,404.6 196.9,405.4 197.4,405.3 197.9,405.3 198.4,405.3 198.9,405.1 199.5,404.5 200.0,404.6 200.5,405.2 201.0,405.7 201.5,405.9 202.0,406.0 202.6,405.9 203.1,404.9 203.6,404.2 204.1,403.5 204.6,402.9 205.1,403.0 205.6,403.1 206.2,402.9 206.7,402.5 207.2,402.0 207.7,400.9 208.2,400.3 208.7,400.1 209.3,400.8 209.8,402.4 210.3,403.9 210.8,405.6 211.3,407.3 211.8,408.7 212.4,409.1 212.9,409.9 213.4,410.8 213.9,411.6 214.4,412.0 214.9,412.6 215.4,413.3 216.0,413.8 216.5,414.0 217.0,415.1 217.5,415.8 218.0,416.7 218.5,417.3 219.1,417.6 219.6,417.6 220.1,417.9 220.6,417.9 221.1,418.1 221.6,419.0 222.1,419.6 222.7,420.1 223.2,420.2 223.7,420.3 224.2,420.1 224.7,419.9 225.2,420.2 225.8,420.6 226.3,420.8 226.8,420.5 227.3,420.4 227.8,419.5 228.3,418.5 228.8,417.6 229.4,416.8 229.9,414.8 230.4,412.0 230.9,408.3 231.4,404.8 231.9,401.7 232.5,399.7 233.0,398.8 233.5,399.0 234.0,398.8 234.5,398.1 235.0,397.3 235.5,396.5 236.1,395.8 236.6,395.4 237.1,395.3 237.6,395.0 238.1,394.7 238.6,394.1 239.2,393.3 239.7,392.0 240.2,391.1 240.7,390.3 241.2,389.6 241.7,389.1 242.2,389.1 242.8,388.8 243.3,388.4 243.8,388.1 244.3,387.7 244.8,387.3 245.3,387.8 245.9,388.4 246.4,389.1 246.9,390.2 247.4,391.3 247.9,390.7 248.4,389.5 248.9,388.2 249.5,386.1 250.0,384.1 250.5,382.5 251.0,381.4 251.5,380.5 252.0,380.3 252.6,379.6 253.1,379.3 253.6,379.1 254.1,378.4 254.6,377.9 255.1,377.7 255.6,378.1 256.2,377.7 256.7,377.5 257.2,377.1 257.7,376.2 258.2,375.1 258.7,374.1 259.3,373.2 259.8,372.1 260.3,371.2 260.8,370.5 261.3,370.3 261.8,370.5 262.4,370.5 262.9,369.9 263.4,369.3 263.9,368.5 264.4,367.2 264.9,366.7 265.4,366.8 266.0,367.0 266.5,367.1 267.0,367.5 267.5,368.1 268.0,369.4 268.5,370.7 269.1,372.7 269.6,374.5 270.1,376.0 270.6,376.8 271.1,377.4 271.6,378.1 272.1,378.7 272.7,378.9 273.2,379.0 273.7,378.4 274.2,377.8 274.7,377.3 275.2,376.6 275.8,376.4 276.3,376.1 276.8,375.4 277.3,374.7 277.8,373.7 278.3,372.1 278.8,370.8 279.4,369.4 279.9,367.8 280.4,366.4 280.9,365.4 281.4,364.7 281.9,364.1 282.5,363.9 283.0,364.6 283.5,365.0 284.0,365.5 284.5,366.0 285.0,366.3 285.5,365.5 286.1,364.9 286.6,364.2 287.1,363.6 287.6,363.2 288.1,362.6 288.6,362.3 289.2,361.9 289.7,362.2 290.2,362.9 290.7,364.6 291.2,366.7 291.7,369.1 292.2,371.0 292.8,372.5 293.3,374.5 293.8,375.9 294.3,377.4 294.8,378.2 295.3,378.3 295.9,377.3 296.4,376.1 296.9,374.5 297.4,373.3 297.9,372.5 298.4,371.8 298.9,370.7 299.5,369.3 300.0,368.1 300.5,366.6 301.0,365.0 301.5,364.4 302.0,363.8 302.6,362.9 303.1,362.1 303.6,361.7 304.1,360.3 304.6,358.9 305.1,357.6 305.6,356.8 306.2,356.3 306.7,356.0 307.2,356.6 307.7,357.5 308.2,358.0 308.7,358.3 309.3,358.2 309.8,357.8 310.3,357.1 310.8,356.4 311.3,355.7 311.8,355.7 312.4,355.8 312.9,355.7 313.4,355.2 313.9,355.3 314.4,355.0 314.9,354.3 315.4,353.9 316.0,354.1 316.5,353.9 317.0,353.7 317.5,354.3 318.0,355.1 318.5,355.8 319.1,356.4 319.6,357.1 320.1,357.9 320.6,358.9 321.1,360.8 321.6,363.5 322.1,366.5 322.7,369.4 323.2,372.1 323.7,374.4 324.2,376.2 324.7,377.2 325.2,377.4 325.8,377.2 326.3,377.3 326.8,377.9 327.3,379.7 327.8,381.7 328.3,384.1 328.8,385.6 329.4,387.0 329.9,387.4 330.4,388.2 330.9,388.3 331.4,388.8 331.9,388.5 332.5,388.6 333.0,388.9 333.5,390.0 334.0,391.3 334.5,393.3 335.0,395.7 335.5,398.0 336.1,400.4 336.6,401.9 337.1,402.1 337.6,401.6 338.1,400.9 338.6,400.0 339.2,400.2 339.7,401.2 340.2,402.2 340.7,402.5 341.2,402.3 341.7,401.0 342.2,399.7 342.8,398.2 343.3,397.2 343.8,396.7 344.3,396.6 344.8,396.7 345.3,397.0 345.9,397.5 346.4,397.9 346.9,398.6 347.4,399.5 347.9,400.9 348.4,402.5 348.9,404.4 349.5,406.3 350.0,407.9 350.5,409.7 351.0,411.4 351.5,413.4 352.0,415.4 352.6,417.7 353.1,419.9 353.6,421.8 354.1,422.3 354.6,421.8 355.1,420.7 355.6,418.7 356.2,416.6 356.7,415.0 357.2,413.9 357.7,412.9 358.2,411.6 358.7,409.8 359.3,408.2 359.8,406.4 360.3,404.3 360.8,402.7 361.3,401.7 361.8,400.6 362.4,400.0 362.9,399.6 363.4,399.7 363.9,400.0 364.4,400.4 364.9,400.6 365.4,400.8 366.0,401.1 366.5,401.0 367.0,400.8 367.5,400.8 368.0,401.1 368.5,401.8 369.1,402.7 369.6,403.9 370.1,405.2 370.6,406.2 371.1,407.3 371.6,408.5 372.1,409.6 372.7,410.6 373.2,411.9 373.7,412.8 374.2,413.4 374.7,413.8 375.2,412.9 375.8,410.7 376.3,408.0 376.8,404.6 377.3,401.1 377.8,398.8 378.3,397.5 378.8,396.7 379.4,396.6 379.9,396.8 380.4,397.1 380.9,397.2 381.4,397.3 381.9,397.3 382.5,397.6 383.0,397.5 383.5,397.8 384.0,398.1 384.5,398.3 385.0,398.4 385.5,398.7 386.1,398.3 386.6,397.8 387.1,398.0 387.6,398.1 388.1,398.5 388.6,399.3 389.2,400.1 389.7,400.3 390.2,400.4 390.7,400.2 391.2,400.2 391.7,400.4 392.2,400.9 392.8,401.5 393.3,402.5 393.8,403.2 394.3,403.9 394.8,404.6 395.3,405.5 395.9,406.2 396.4,407.3 396.9,408.2 397.4,409.3 397.9,410.2 398.4,411.1 398.9,412.0 399.5,412.7 400.0,413.4 400.5,414.1 401.0,415.0 401.5,415.7 402.0,417.0 402.6,418.6 403.1,420.0 403.6,421.3 404.1,422.7 404.6,423.8 405.1,424.0 405.6,424.1 406.2,423.6 406.7,423.0 407.2,422.5 407.7,422.4 408.2,422.4 408.7,423.0 409.3,423.6 409.8,424.6 410.3,425.3 410.8,426.1 411.3,426.2 411.8,425.7 412.4,424.5 412.9,423.0 413.4,421.1 413.9,419.3 414.4,417.9 414.9,416.5 415.4,415.6 416.0,414.6 416.5,414.2 417.0,414.0 417.5,413.9 418.0,414.0 418.5,414.3 419.1,414.2 419.6,413.8 420.1,413.4 420.6,413.1 421.1,413.0 421.6,413.2 422.1,413.5 422.7,414.1 423.2,414.3 423.7,414.7 424.2,414.8 424.7,414.6 425.2,414.1 425.8,413.4 426.3,412.2 426.8,411.1 427.3,410.0 427.8,409.1 428.3,408.5 428.8,408.4 429.4,408.6 429.9,409.0 430.4,409.4 430.9,409.8 431.4,410.4 431.9,410.2 432.5,409.8 433.0,409.5 433.5,409.1 434.0,408.5 434.5,408.6 435.0,408.8 435.5,409.2 436.1,409.7 436.6,410.4 437.1,410.7 437.6,410.9 438.1,411.2 438.6,411.5 439.2,411.8 439.7,412.1 440.2,412.6 440.7,412.9 441.2,412.9 441.7,412.9 442.2,413.0 442.8,413.0 443.3,413.2 443.8,413.3 444.3,413.4 444.8,413.6 445.3,413.9 445.9,414.3 446.4,415.0 446.9,415.6 447.4,416.0 447.9,416.7 448.4,416.6 448.9,416.7 449.5,416.9 450.0,417.2 450.5,417.4 451.0,418.2 451.5,418.7 452.0,419.5 452.6,420.1 453.1,420.9 453.6,421.6 454.1,422.5 454.6,422.7 455.1,423.3 455.6,423.7 456.2,423.8 456.7,423.7 457.2,423.7 457.7,423.5 458.2,423.0 458.7,422.8 459.3,422.7 459.8,423.1 460.3,423.4 460.8,423.9 461.3,424.5 461.8,425.2 462.4,426.2 462.9,427.1 463.4,428.3 463.9,429.4 464.4,429.8 464.9,429.1 465.4,428.2 466.0,426.7 466.5,425.0 467.0,423.5 467.5,422.3 468.0,421.1 468.5,419.8 469.1,418.7 469.6,417.9 470.1,416.9 470.6,416.1 471.1,415.2 471.6,414.1 472.1,412.7 472.7,411.4 473.2,409.9 473.7,408.1 474.2,406.6 474.7,405.1 475.2,404.0 475.8,402.7 476.3,401.9 476.8,400.8 477.3,399.6 477.8,398.2 478.3,397.0 478.8,395.9 479.4,395.5 479.9,395.7 480.4,396.3 480.9,397.0 481.4,398.0 481.9,398.9 482.5,398.8 483.0,398.5 483.5,398.3 484.0,397.4 484.5,396.3 485.0,395.7 485.5,395.3 486.1,394.9 486.6,394.9 487.1,394.5 487.6,394.4 488.1,394.5 488.6,394.8 489.2,395.5 489.7,396.8 490.2,398.2 490.7,399.5 491.2,400.6 491.7,401.4 492.2,402.4 492.8,403.7 493.3,405.4 493.8,406.9 494.3,408.3 494.8,409.4 495.3,409.8 495.9,409.5 496.4,409.5 496.9,409.6 497.4,409.6 497.9,409.9 498.4,410.7 498.9,411.6 499.5,412.9 500.0,414.5 500.5,416.5 501.0,418.0 501.5,419.4 502.0,420.5 502.6,421.6 503.1,421.7 503.6,421.9 504.1,421.8 504.6,421.1 505.1,420.2 505.6,420.0 506.2,419.8 506.7,419.7 507.2,420.3 507.7,421.2 508.2,421.8 508.7,422.4 509.3,423.2 509.8,423.6 510.3,424.0 510.8,424.4 511.3,424.9 511.8,425.4 512.4,426.1 512.9,426.5 513.4,426.9 513.9,427.7 514.4,428.3 514.9,429.0 515.4,430.0 516.0,430.8 516.5,430.3 517.0,429.0 517.5,427.1 518.0,424.7 518.5,422.6 519.1,421.7 519.6,421.7 520.1,422.1 520.6,422.9 521.1,423.9 521.6,424.9 522.1,426.0 522.7,426.9 523.2,427.9 523.7,428.6 524.2,428.8 524.7,428.8 525.2,428.4 525.8,427.9 526.3,427.6 526.8,427.4 527.3,427.4 527.8,427.4 528.3,427.2 528.8,427.0 529.4,427.1 529.9,427.0 530.4,427.2 530.9,428.0 531.4,428.8 531.9,429.5 532.5,430.4 533.0,431.4 533.5,432.1 534.0,432.9 534.5,433.8 535.0,434.7 535.5,435.3 536.1,435.8 536.6,436.6 537.1,437.1 537.6,438.0 538.1,438.7 538.6,439.1 539.2,439.3 539.7,439.2 540.2,438.4 540.7,437.7 541.2,437.5 541.7,437.0 542.2,435.9 542.8,435.2 543.3,434.8 543.8,434.2 544.3,433.8 544.8,433.9 545.3,434.2 545.9,434.5 546.4,434.8 546.9,435.0 547.4,435.5 547.9,436.1 548.4,436.5 548.9,437.0 549.5,437.6 550.0,438.4 550.5,438.9 551.0,439.0 551.5,438.9 552.0,438.4 552.6,437.9 553.1,438.0 553.6,438.5 554.1,439.4 554.6,440.8 555.1,442.2 555.6,443.4 556.2,444.6 556.7,445.9 557.2,447.4 557.7,448.7 558.2,449.7 558.7,450.7 559.3,451.6 559.8,452.2 560.3,452.5 560.8,452.6 561.3,452.4 561.8,452.1 562.4,451.5 562.9,451.2 563.4,451.2 563.9,451.2 564.4,451.3 564.9,451.2 565.4,451.1 566.0,451.3 566.5,451.7 567.0,452.3 567.5,453.1 568.0,453.9 568.5,454.5 569.1,454.4 569.6,453.9 570.1,453.1 570.6,452.2 571.1,451.1 571.6,449.7 572.1,448.3 572.7,446.9 573.2,445.6 573.7,444.3 574.2,443.6 574.7,443.3 575.2,443.2 575.8,443.2 576.3,443.4 576.8,443.5 577.3,443.2 577.8,442.7 578.3,441.9 578.8,441.2 579.4,440.6 579.9,440.1 580.4,440.0 580.9,440.2 581.4,440.5 581.9,440.8 582.5,441.7 583.0,442.2 583.5,443.0 584.0,443.6 584.5,444.2 585.0,444.6 585.5,445.2 586.1,445.8 586.6,446.3 587.1,446.6 587.6,446.9 588.1,447.2 588.6,447.3 589.2,447.3 589.7,447.4 590.2,447.4 590.7,447.1 591.2,446.9 591.7,446.9 592.2,447.0 592.8,447.2 593.3,447.3 593.8,447.2 594.3,446.8 594.8,446.3 595.3,445.7 595.9,445.1 596.4,444.6 596.9,444.3 597.4,443.3 597.9,442.0 598.4,440.5 598.9,439.3 599.5,438.4 600.0,437.8 600.5,437.3 601.0,437.2 601.5,436.5 602.0,435.3 602.6,434.2 603.1,433.1 603.6,432.2 604.1,431.7 604.6,431.5 605.1,431.2 605.6,431.2 606.2,431.0 606.7,431.1 607.2,431.2 607.7,431.6 608.2,431.9 608.7,432.4 609.3,432.4 609.8,432.3 610.3,431.9 610.8,431.4 611.3,430.9 611.8,430.2 612.4,429.7 612.9,429.2 613.4,428.4 613.9,427.4 614.4,426.7 614.9,425.7 615.4,424.6 616.0,422.9 616.5,421.4 617.0,419.5 617.5,416.6 618.0,413.3 618.5,410.2 619.1,407.1 619.6,404.2 620.1,402.6 620.6,402.1 621.1,402.5 621.6,402.7 622.1,402.9 622.7,402.6 623.2,403.0 623.7,403.8 624.2,404.9 624.7,406.2 625.2,407.5 625.8,407.6 626.3,406.0 626.8,404.0 627.3,402.1 627.8,400.3 628.3,398.6 628.8,398.2 629.4,397.9 629.9,397.8 630.4,397.6 630.9,398.0 631.4,398.1 631.9,398.6 632.5,399.3 633.0,400.1 633.5,401.1 634.0,401.8 634.5,402.2 635.0,402.6 635.5,402.8 636.1,403.0 636.6,403.0 637.1,403.0 637.6,402.6 638.1,401.8 638.6,400.7 639.2,399.6 639.7,398.7 640.2,397.8 640.7,397.4 641.2,396.8 641.7,395.8 642.2,394.9 642.8,394.1 643.3,393.1 643.8,391.7 644.3,390.7 644.8,389.8 645.3,388.7 645.9,388.0 646.4,387.9 646.9,387.8 647.4,387.4 647.9,387.0 648.4,386.6 648.9,385.7 649.5,384.4 650.0,382.9 650.5,381.3 651.0,379.1 651.5,376.6 652.0,374.7 652.6,372.2 653.1,369.8 653.6,367.1 654.1,364.1 654.6,360.7 655.1,357.5 655.6,354.2 656.2,351.3 656.7,348.7 657.2,345.1 657.7,342.5 658.2,338.1 658.7,332.7 659.3,327.5 659.8,322.3 660.3,316.4 660.8,311.5 661.3,309.0 661.8,305.2 662.4,301.7 662.9,298.0 663.4,296.7 663.9,295.2 664.4,295.7 664.9,298.2 665.4,301.7 666.0,302.7 666.5,301.0 667.0,300.3 667.5,298.7 668.0,296.5 668.5,295.7 669.1,297.6 669.6,297.9 670.1,297.4 670.6,297.5 671.1,296.4 671.6,293.6 672.1,290.1 672.7,285.9 673.2,281.0 673.7,275.9 674.2,270.8 674.7,266.1 675.2,262.7 675.8,258.7 676.3,254.0 676.8,248.9 677.3,243.4 677.8,237.3 678.3,231.6 678.8,225.7 679.4,220.8 679.9,216.1 680.4,212.0 680.9,207.7 681.4,205.8 681.9,203.3 682.5,200.6 683.0,197.5 683.5,195.3 684.0,193.4 684.5,193.8 685.0,195.7 685.5,198.9 686.1,202.3 686.6,203.8 687.1,202.8 687.6,202.4 688.1,202.0 688.6,201.7 689.2,204.2 689.7,208.8 690.2,211.4 690.7,213.7 691.2,216.1 691.7,216.0 692.2,213.8 692.8,210.9 693.3,206.0 693.8,199.3 694.3,191.9 694.8,184.4 695.3,177.7 695.9,170.7 696.4,163.9 696.9,157.5 697.4,151.9 697.9,145.1 698.4,138.5 698.9,131.7 699.5,124.7 700.0,117.6 700.5,109.9 701.0,103.8 701.5,97.1 702.0,90.6 702.6,83.3 703.1,79.0 703.6,74.9 704.1,71.9 704.6,68.8 705.1,65.6 705.6,60.2 706.2,52.8 706.7,45.0 707.2,39.1 707.7,34.9 708.2,32.9 708.7,34.1 709.3,36.8 709.8,40.5 710.3,45.6 710.8,51.9 711.3,56.4 711.8,60.9 712.4,64.5 712.9,67.9 713.4,70.7 713.9,77.0 714.4,84.2 714.9,93.5 715.4,103.8 716.0,113.2 716.5,120.7 717.0,125.4 717.5,127.4 718.0,127.9 718.5,127.5 719.1,124.8 719.6,122.9 720.1,119.9 720.6,114.1 721.1,106.8 721.6,100.2 722.1,93.0 722.7,85.9 723.2,81.9 723.7,81.6 724.2,87.1 724.7,96.0 725.2,107.3 725.8,118.6 726.3,129.0 726.8,135.6 727.3,141.5 727.8,146.4 728.3,152.4 728.8,158.9 729.4,165.3 729.9,170.5 730.4,173.9 730.9,176.0 731.4,178.1 731.9,180.1 732.5,181.9 733.0,185.6 733.5,190.4 734.0,194.9 734.5,201.0 735.0,208.9 735.5,216.1 736.1,222.7 736.6,230.8 737.1,237.3 737.6,242.8 738.1,249.1 738.6,254.3 739.2,254.4 739.7,252.3 740.2,248.8 740.7,243.6 741.2,238.6 741.7,235.5 742.2,232.6 742.8,229.9 743.3,227.9 743.8,226.2 744.3,225.8 744.8,227.6 745.3,230.0 745.9,233.8 746.4,236.8 746.9,238.4 747.4,240.7 747.9,244.6 748.4,249.1 748.9,254.7 749.5,261.6 750.0,268.4 750.5,275.4 751.0,281.9 751.5,287.7 752.0,292.9 752.6,297.7 753.1,301.0 753.6,301.8 754.1,302.5 754.6,302.7 755.1,302.3 755.6,301.0 756.2,300.8 756.7,300.7 757.2,301.2 757.7,301.6 758.2,302.2 758.7,303.9 759.3,306.6 759.8,309.3 760.3,312.4 760.8,316.4 761.3,320.3 761.8,324.4 762.4,329.1 762.9,333.5 763.4,338.2 763.9,341.6 764.4,344.2 764.9,346.1 765.4,347.6 766.0,349.5 766.5,351.9 767.0,354.0 767.5,355.8 768.0,358.2 768.5,359.0 769.1,358.7 769.6,359.5 770.1,361.5 770.6,364.0 771.1,367.4 771.6,372.4 772.1,377.5 772.7,381.6 773.2,385.0 773.7,388.4 774.2,390.2 774.7,390.0 775.2,389.2 775.8,387.9 776.3,385.6 776.8,384.2 777.3,382.8 777.8,381.0 778.3,379.1 778.8,377.5 779.4,375.8 779.9,375.0 780.4,374.0 780.9,372.8 781.4,371.9 781.9,372.2 782.5,372.5 783.0,374.1 783.5,376.6 784.0,378.6 784.5,379.5 785.0,380.5 785.5,380.6 786.1,379.9 786.6,379.2 787.1,378.2 787.6,377.3 788.1,375.8 788.6,373.3 789.2,369.9 789.7,365.8 790.2,360.8 790.7,356.2 791.2,352.5 791.7,349.9 792.2,348.0 792.8,347.3 793.3,347.6 793.8,348.8 794.3,350.7 794.8,353.7 795.3,356.3 795.9,357.9 796.4,357.8 796.9,356.8 797.4,354.2 797.9,351.5 798.4,348.4 798.9,345.1 799.5,341.9 800.0,339.4 800.5,336.8 801.0,334.5 801.5,332.9 802.0,331.1 802.6,329.4 803.1,328.8 803.6,328.4 804.1,328.7 804.6,328.5 805.1,327.7 805.6,326.1 806.2,324.9 806.7,322.8 807.2,321.0 807.7,319.1 808.2,316.6 808.7,313.8 809.3,311.2 809.8,309.2 810.3,306.9 810.8,305.3 811.3,304.3 811.8,302.7 812.4,301.4 812.9,301.1 813.4,300.0 813.9,298.9 814.4,298.5 814.9,296.6 815.4,293.8 816.0,290.0 816.5,286.0 817.0,280.9 817.5,276.7 818.0,272.3 818.5,269.3 819.1,265.1 819.6,262.5 820.1,259.3 820.6,257.6 821.1,255.0 821.6,253.6 822.1,253.3 822.7,255.1 823.2,257.0 823.7,260.4 824.2,264.6 824.7,268.0 825.2,271.4 825.8,275.1 826.3,278.9 826.8,282.3 827.3,286.1 827.8,290.1 828.3,294.1 828.8,297.9 829.4,301.8 829.9,303.7 830.4,305.2 830.9,306.1 831.4,306.3 831.9,305.6 832.5,304.5 833.0,301.3 833.5,297.2 834.0,293.4 834.5,289.3 835.0,285.8 835.5,283.1 836.1,280.6 836.6,278.2 837.1,277.3 837.6,276.9 838.1,276.0 838.6,275.2 839.2,274.1 839.7,271.0 840.2,267.5 840.7,264.6 841.2,262.7 841.7,261.2 842.2,260.3 842.8,260.2 843.3,261.4 843.8,262.5 844.3,263.0 844.8,264.5 845.3,266.0 845.9,266.8 846.4,266.3 846.9,266.6 847.4,265.7 847.9,264.0 848.4,263.0 848.9,262.3 849.5,262.1 850.0,262.7 850.5,264.9 851.0,267.3 851.5,271.5 852.0,276.2 852.6,280.6 853.1,283.8 853.6,287.0 854.1,288.5 854.6,288.6 855.1,288.7 855.6,288.8 856.2,287.5 856.4,286.8" fill="none" stroke="#0080ff" stroke-width="1.1" stroke-linejoin="round" shape-rendering="crispEdges" />
<polyline points="3.1,480.1 3.6,479.7 4.1,479.0 4.6,478.4 5.1,477.9 5.6,477.1 6.2,476.3 6.7,475.5 7.2,474.8 7.7,474.1 8.2,473.5 8.7,472.9 9.3,472.6 9.8,472.2 10.3,471.7 10.8,471.4 11.3,471.0 11.8,470.8 12.4,470.6 12.9,470.4 13.4,470.3 13.9,470.2 14.4,470.1 14.9,470.0 15.4,470.1 16.0,470.2 16.5,470.5 17.0,470.8 17.5,471.2 18.0,471.6 18.5,472.2 19.1,472.9 19.6,473.1 20.1,473.0 20.6,472.9 21.1,472.7 21.6,472.4 22.1,471.9 22.7,471.3 23.2,470.4 23.7,469.3 24.2,467.7 24.7,466.3 25.2,465.1 25.8,464.0 26.3,462.9 26.8,461.7 27.3,460.7 27.8,459.8 28.3,459.2 28.8,458.7 29.4,458.7 29.9,458.9 30.4,459.1 30.9,459.3 31.4,459.2 31.9,458.7 32.5,457.8 33.0,456.7 33.5,455.5 34.0,453.9 34.5,451.9 35.0,450.5 35.5,449.4 36.1,448.6 36.6,448.4 37.1,448.7 37.6,449.5 38.1,450.7 38.6,452.0 39.2,453.8 39.7,455.7 40.2,457.5 40.7,458.8 41.2,459.9 41.7,460.9 42.2,461.7 42.8,462.3 43.3,462.7 43.8,463.0 44.3,463.1 44.8,462.9 45.3,462.2 45.9,461.3 46.4,460.1 46.9,458.7 47.4,457.1 47.9,455.5 48.4,453.9 48.9,452.2 49.5,450.4 50.0,448.7 50.5,447.2 51.0,445.7 51.5,444.4 52.0,443.1 52.6,441.7 53.1,440.3 53.6,438.9 54.1,437.4 54.6,435.9 55.1,434.4 55.6,433.0 56.2,431.7 56.7,430.2 57.2,428.6 57.7,427.2 58.2,425.8 58.7,424.3 59.3,423.0 59.8,422.2 60.3,421.9 60.8,421.7 61.3,421.9 61.8,422.2 62.4,422.9 62.9,423.7 63.4,424.7 63.9,426.2 64.4,427.7 64.9,428.8 65.4,429.6 66.0,430.6 66.5,431.4 67.0,432.5 67.5,433.4 68.0,434.3 68.5,435.3 69.1,436.1 69.6,437.1 70.1,438.1 70.6,438.9 71.1,439.7 71.6,440.4 72.1,440.9 72.7,441.4 73.2,441.8 73.7,442.1 74.2,442.2 74.7,442.2 75.2,442.3 75.8,442.5 76.3,442.6 76.8,442.8 77.3,443.0 77.8,443.3 78.3,443.4 78.8,443.5 79.4,443.6 79.9,443.6 80.4,443.6 80.9,443.6 81.4,443.5 81.9,443.4 82.5,443.3 83.0,443.2 83.5,443.3 84.0,443.7 84.5,443.8 85.0,444.0 85.5,444.1 86.1,444.2 86.6,444.2 87.1,444.3 87.6,444.5 88.1,444.5 88.6,444.3 89.2,444.0 89.7,444.0 90.2,444.0 90.7,443.8 91.2,443.7 91.7,443.8 92.2,443.6 92.8,443.3 93.3,443.1 93.8,443.2 94.3,443.2 94.8,443.3 95.3,443.4 95.9,443.7 96.4,443.8 96.9,443.7 97.4,443.7 97.9,443.8 98.4,443.9 98.9,443.6 99.5,443.2 100.0,442.7 100.5,442.2 101.0,441.5 101.5,440.8 102.0,440.1 102.6,439.3 103.1,438.7 103.6,437.9 104.1,437.4 104.6,436.9 105.1,436.5 105.6,436.2 106.2,435.9 106.7,435.7 107.2,435.8 107.7,435.8 108.2,435.8 108.7,436.0 109.3,436.2 109.8,436.6 110.3,436.9 110.8,437.1 111.3,437.4 111.8,437.7 112.4,437.9 112.9,438.1 113.4,438.5 113.9,438.6 114.4,438.4 114.9,437.9 115.4,437.3 116.0,436.6 116.5,435.8 117.0,434.9 117.5,434.0 118.0,433.1 118.5,431.8 119.1,430.8 119.6,429.8 120.1,429.1 120.6,428.6 121.1,428.3 121.6,427.8 122.1,427.3 122.7,426.9 123.2,426.5 123.7,426.1 124.2,425.7 124.7,425.3 125.2,425.0 125.8,424.5 126.3,424.2 126.8,424.0 127.3,423.9 127.8,423.9 128.3,423.8 128.8,423.6 129.4,423.5 129.9,423.5 130.4,423.6 130.9,423.7 131.4,423.7 131.9,424.0 132.5,424.3 133.0,424.5 133.5,424.9 134.0,425.5 134.5,426.3 135.0,426.9 135.5,427.5 136.1,428.2 136.6,428.7 137.1,429.2 137.6,429.9 138.1,430.8 138.6,432.0 139.2,433.3 139.7,434.7 140.2,436.0 140.7,437.5 141.2,439.1 141.7,440.5 142.2,441.7 142.8,442.5 143.3,442.7 143.8,442.8 144.3,442.7 144.8,442.1 145.3,441.6 145.9,440.9 146.4,440.1 146.9,439.3 147.4,438.9 147.9,438.6 148.4,438.4 148.9,438.2 149.5,437.9 150.0,437.9 150.5,437.6 151.0,437.6 151.5,437.6 152.0,437.5 152.6,437.3 153.1,437.1 153.6,436.9 154.1,436.7 154.6,436.5 155.1,436.3 155.6,436.1 156.2,436.0 156.7,435.9 157.2,435.8 157.7,435.7 158.2,435.7 158.7,435.9 159.3,436.1 159.8,436.3 160.3,436.7 160.8,437.3 161.3,437.8 161.8,438.4 162.4,439.0 162.9,439.6 163.4,440.3 163.9,440.8 164.4,441.4 164.9,442.0 165.4,442.3 166.0,442.7 166.5,443.2 167.0,443.5 167.5,443.8 168.0,444.0 168.5,444.2 169.1,444.6 169.6,444.8 170.1,445.2 170.6,445.7 171.1,446.1 171.6,446.4 172.1,446.7 172.7,446.9 173.2,446.9 173.7,446.9 174.2,446.7 174.7,446.6 175.2,446.1 175.8,445.7 176.3,445.3 176.8,444.8 177.3,444.3 177.8,444.0 178.3,443.6 178.8,443.3 179.4,443.1 179.9,443.1 180.4,443.3 180.9,443.3 181.4,443.5 181.9,443.7 182.5,444.0 183.0,444.5 183.5,445.2 184.0,446.0 184.5,446.6 185.0,447.0 185.5,447.0 186.1,446.8 186.6,446.3 187.1,445.4 187.6,444.4 188.1,443.1 188.6,441.4 189.2,439.1 189.7,436.5 190.2,433.8 190.7,430.9 191.2,428.1 191.7,425.1 192.2,422.2 192.8,419.4 193.3,416.6 193.8,413.6 194.3,411.2 194.8,409.4 195.3,407.7 195.9,406.5 196.4,405.6 196.9,405.4 197.4,405.1 197.9,404.7 198.4,404.5 198.9,404.9 199.5,405.0 200.0,405.0 200.5,405.3 201.0,405.5 201.5,405.5 202.0,405.3 202.6,405.2 203.1,405.1 203.6,405.0 204.1,404.7 204.6,404.4 205.1,404.5 205.6,404.0 206.2,403.5 206.7,403.0 207.2,402.4 207.7,402.0 208.2,401.7 208.7,401.5 209.3,401.7 209.8,402.2 210.3,402.4 210.8,402.9 211.3,403.7 211.8,404.8 212.4,405.8 212.9,406.9 213.4,408.2 213.9,409.5 214.4,410.3 214.9,410.9 215.4,411.6 216.0,412.3 216.5,412.8 217.0,413.5 217.5,414.2 218.0,415.0 218.5,415.5 219.1,415.8 219.6,416.3 220.1,416.9 220.6,417.3 221.1,417.7 221.6,418.3 222.1,418.6 222.7,419.0 223.2,419.1 223.7,419.2 224.2,419.5 224.7,419.8 225.2,420.1 225.8,420.4 226.3,420.5 226.8,420.3 227.3,420.2 227.8,419.9 228.3,419.6 228.8,419.2 229.4,418.7 229.9,417.6 230.4,415.8 230.9,413.4 231.4,411.2 231.9,409.3 232.5,407.2 233.0,405.4 233.5,403.7 234.0,401.8 234.5,399.9 235.0,398.5 235.5,397.7 236.1,397.4 236.6,397.1 237.1,396.7 237.6,396.2 238.1,395.6 238.6,395.0 239.2,394.3 239.7,393.6 240.2,393.1 240.7,392.5 241.2,391.8 241.7,391.2 242.2,390.6 242.8,390.0 243.3,389.4 243.8,388.8 244.3,388.4 244.8,388.2 245.3,388.3 245.9,388.4 246.4,388.6 246.9,389.0 247.4,389.3 247.9,389.3 248.4,388.9 248.9,388.6 249.5,388.2 250.0,387.7 250.5,386.6 251.0,385.4 251.5,384.4 252.0,383.2 252.6,381.9 253.1,380.9 253.6,380.3 254.1,379.5 254.6,379.1 255.1,378.7 255.6,378.7 256.2,378.4 256.7,377.9 257.2,377.5 257.7,377.0 258.2,376.6 258.7,375.9 259.3,375.3 259.8,374.6 260.3,373.7 260.8,372.8 261.3,372.2 261.8,371.9 262.4,371.3 262.9,370.6 263.4,369.9 263.9,369.4 264.4,368.9 264.9,368.6 265.4,368.4 266.0,368.2 266.5,367.8 267.0,367.4 267.5,367.4 268.0,368.1 268.5,368.9 269.1,369.9 269.6,371.0 270.1,372.1 270.6,373.1 271.1,374.1 271.6,375.4 272.1,376.6 272.7,377.5 273.2,377.9 273.7,377.9 274.2,378.0 274.7,378.0 275.2,377.8 275.8,377.7 276.3,377.2 276.8,376.6 277.3,376.0 277.8,375.1 278.3,374.3 278.8,373.5 279.4,372.4 279.9,371.3 280.4,370.0 280.9,368.7 281.4,367.8 281.9,366.7 282.5,365.8 283.0,365.5 283.5,365.2 284.0,365.1 284.5,365.1 285.0,365.1 285.5,365.0 286.1,364.9 286.6,364.8 287.1,364.8 287.6,364.7 288.1,364.0 288.6,363.6 289.2,363.0 289.7,362.9 290.2,363.1 290.7,363.6 291.2,364.5 291.7,365.5 292.2,366.6 292.8,367.7 293.3,369.5 293.8,371.3 294.3,373.3 294.8,374.6 295.3,375.4 295.9,375.9 296.4,376.0 296.9,375.9 297.4,375.8 297.9,375.4 298.4,374.6 298.9,373.4 299.5,371.9 300.0,370.7 300.5,369.6 301.0,368.4 301.5,367.6 302.0,366.6 302.6,365.5 303.1,364.4 303.6,363.3 304.1,362.3 304.6,361.4 305.1,360.2 305.6,359.5 306.2,359.0 306.7,358.2 307.2,357.8 307.7,357.6 308.2,357.4 308.7,357.3 309.3,357.1 309.8,357.2 310.3,357.3 310.8,357.2 311.3,357.0 311.8,357.0 312.4,356.8 312.9,356.4 313.4,355.8 313.9,355.5 314.4,355.4 314.9,355.0 315.4,354.8 316.0,354.7 316.5,354.6 317.0,354.4 317.5,354.3 318.0,354.5 318.5,355.0 319.1,355.1 319.6,355.4 320.1,356.1 320.6,357.0 321.1,358.3 321.6,359.9 322.1,361.8 322.7,363.6 323.2,365.5 323.7,367.6 324.2,369.9 324.7,371.8 325.2,373.4 325.8,374.7 326.3,375.8 326.8,377.0 327.3,378.5 327.8,379.5 328.3,380.7 328.8,381.5 329.4,382.5 329.9,383.6 330.4,384.9 330.9,386.2 331.4,387.2 331.9,387.8 332.5,388.0 333.0,388.5 333.5,389.2 334.0,390.0 334.5,390.9 335.0,392.2 335.5,393.5 336.1,395.2 336.6,396.6 337.1,397.7 337.6,398.6 338.1,399.5 338.6,400.2 339.2,401.0 339.7,401.6 340.2,401.9 340.7,401.7 341.2,401.1 341.7,400.6 342.2,400.4 342.8,400.2 343.3,399.9 343.8,399.5 344.3,398.8 344.8,398.2 345.3,397.6 345.9,397.4 346.4,397.3 346.9,397.6 347.4,398.1 347.9,398.9 348.4,400.0 348.9,401.2 349.5,402.5 350.0,403.7 350.5,405.3 351.0,406.9 351.5,408.9 352.0,410.9 352.6,412.8 353.1,414.8 353.6,416.6 354.1,417.8 354.6,418.6 355.1,419.2 355.6,419.3 356.2,419.2 356.7,418.7 357.2,417.8 357.7,416.8 358.2,415.1 358.7,413.2 359.3,411.6 359.8,410.1 360.3,408.6 360.8,407.2 361.3,405.8 361.8,404.4 362.4,403.2 362.9,402.0 363.4,401.2 363.9,400.8 364.4,400.5 364.9,400.3 365.4,400.2 366.0,400.4 366.5,400.5 367.0,400.6 367.5,400.7 368.0,401.0 368.5,401.4 369.1,401.9 369.6,402.3 370.1,403.0 370.6,403.7 371.1,404.6 371.6,405.6 372.1,406.7 372.7,407.9 373.2,409.1 373.7,410.0 374.2,411.0 374.7,411.7 375.2,411.8 375.8,411.3 376.3,410.4 376.8,409.0 377.3,407.5 377.8,405.9 378.3,404.1 378.8,402.4 379.4,400.6 379.9,399.0 380.4,398.0 380.9,397.4 381.4,397.0 381.9,396.9 382.5,397.2 383.0,397.3 383.5,397.5 384.0,397.7 384.5,397.8 385.0,398.0 385.5,398.1 386.1,398.0 386.6,398.0 387.1,398.1 387.6,398.2 388.1,398.6 388.6,398.8 389.2,399.0 389.7,399.1 390.2,399.2 390.7,399.3 391.2,399.8 391.7,400.3 392.2,400.6 392.8,400.9 393.3,401.4 393.8,401.7 394.3,402.2 394.8,402.8 395.3,403.5 395.9,404.3 396.4,405.3 396.9,406.1 397.4,407.0 397.9,407.8 398.4,408.6 398.9,409.7 399.5,410.5 400.0,411.4 400.5,412.2 401.0,413.0 401.5,413.9 402.0,414.8 402.6,416.0 403.1,417.1 403.6,418.1 404.1,419.2 404.6,420.4 405.1,421.3 405.6,422.0 406.2,422.4 406.7,422.9 407.2,423.1 407.7,423.2 408.2,423.2 408.7,423.3 409.3,423.3 409.8,423.5 410.3,423.8 410.8,424.2 411.3,424.6 411.8,424.7 412.4,424.5 412.9,424.1 413.4,423.6 413.9,422.8 414.4,421.8 414.9,420.5 415.4,419.3 416.0,417.9 416.5,416.7 417.0,416.0 417.5,415.2 418.0,414.8 418.5,414.4 419.1,414.2 419.6,413.9 420.1,413.7 420.6,413.5 421.1,413.6 421.6,413.7 422.1,413.7 422.7,413.8 423.2,413.7 423.7,413.8 424.2,414.0 424.7,414.0 425.2,414.1 425.8,413.9 426.3,413.4 426.8,412.9 427.3,412.3 427.8,411.6 428.3,410.9 428.8,410.3 429.4,409.9 429.9,409.5 430.4,409.2 430.9,409.2 431.4,409.4 431.9,409.4 432.5,409.4 433.0,409.4 433.5,409.5 434.0,409.5 434.5,409.4 435.0,409.3 435.5,409.4 436.1,409.4 436.6,409.5 437.1,409.6 437.6,409.9 438.1,410.2 438.6,410.6 439.2,411.1 439.7,411.4 440.2,411.8 440.7,412.0 441.2,412.2 441.7,412.3 442.2,412.5 442.8,412.8 443.3,413.0 443.8,413.1 444.3,413.1 444.8,413.3 445.3,413.4 445.9,413.8 446.4,414.2 446.9,414.5 447.4,414.8 447.9,415.3 448.4,415.5 448.9,415.8 449.5,416.2 450.0,416.6 450.5,417.1 451.0,417.4 451.5,417.7 452.0,418.2 452.6,418.7 453.1,419.1 453.6,419.9 454.1,420.6 454.6,421.1 455.1,421.7 455.6,422.3 456.2,422.7 456.7,423.1 457.2,423.2 457.7,423.4 458.2,423.4 458.7,423.3 459.3,423.2 459.8,423.4 460.3,423.5 460.8,423.5 461.3,423.7 461.8,424.0 462.4,424.6 462.9,425.3 463.4,426.1 463.9,427.0 464.4,427.5 464.9,427.6 465.4,427.7 466.0,427.5 466.5,427.2 467.0,426.7 467.5,425.7 468.0,424.6 468.5,423.2 469.1,421.9 469.6,420.7 470.1,419.6 470.6,418.6 471.1,417.5 471.6,416.4 472.1,415.3 472.7,414.1 473.2,413.0 473.7,411.7 474.2,410.3 474.7,408.9 475.2,407.7 475.8,406.3 476.3,405.0 476.8,403.7 477.3,402.3 477.8,401.1 478.3,399.8 478.8,398.9 479.4,398.1 479.9,397.6 480.4,397.2 480.9,397.0 481.4,397.0 481.9,397.2 482.5,397.3 483.0,397.4 483.5,397.6 484.0,397.7 484.5,397.6 485.0,397.3 485.5,396.9 486.1,396.6 486.6,396.1 487.1,395.4 487.6,395.1 488.1,394.9 488.6,394.9 489.2,395.2 489.7,395.6 490.2,396.3 490.7,397.0 491.2,397.7 491.7,398.5 492.2,399.6 492.8,400.9 493.3,402.4 493.8,403.8 494.3,404.9 494.8,405.9 495.3,406.7 495.9,407.5 496.4,408.2 496.9,409.0 497.4,409.5 497.9,409.8 498.4,410.1 498.9,410.5 499.5,411.2 500.0,412.1 500.5,413.2 501.0,414.4 501.5,415.5 502.0,416.7 502.6,418.0 503.1,419.1 503.6,419.9 504.1,420.6 504.6,420.8 505.1,420.9 505.6,420.8 506.2,420.8 506.7,420.7 507.2,420.7 507.7,420.7 508.2,420.9 508.7,421.1 509.3,421.5 509.8,422.0 510.3,422.6 510.8,423.1 511.3,423.7 511.8,424.3 512.4,424.9 512.9,425.2 513.4,425.7 513.9,426.3 514.4,426.8 514.9,427.5 515.4,428.3 516.0,428.9 516.5,429.0 517.0,428.6 517.5,428.0 518.0,427.4 518.5,426.7 519.1,426.0 519.6,425.3 520.1,424.6 520.6,423.8 521.1,423.3 521.6,423.3 522.1,423.8 522.7,424.5 523.2,425.4 523.7,426.3 524.2,426.9 524.7,427.4 525.2,427.7 525.8,427.9 526.3,428.1 526.8,428.1 527.3,428.1 527.8,427.9 528.3,427.6 528.8,427.3 529.4,427.3 529.9,427.2 530.4,427.3 530.9,427.6 531.4,427.9 531.9,428.3 532.5,428.7 533.0,429.3 533.5,430.1 534.0,430.8 534.5,431.6 535.0,432.5 535.5,433.3 536.1,434.0 536.6,434.7 537.1,435.5 537.6,436.3 538.1,437.0 538.6,437.4 539.2,437.9 539.7,438.1 540.2,438.2 540.7,438.2 541.2,438.3 541.7,438.1 542.2,437.6 542.8,436.8 543.3,436.3 543.8,435.9 544.3,435.4 544.8,434.9 545.3,434.7 545.9,434.7 546.4,434.5 546.9,434.4 547.4,434.7 547.9,435.1 548.4,435.5 548.9,435.9 549.5,436.3 550.0,436.9 550.5,437.5 551.0,437.8 551.5,438.0 552.0,438.0 552.6,438.1 553.1,438.4 553.6,438.8 554.1,439.2 554.6,439.6 555.1,440.1 555.6,440.7 556.2,441.6 556.7,442.7 557.2,444.1 557.7,445.5 558.2,446.5 558.7,447.7 559.3,448.8 559.8,449.8 560.3,450.6 560.8,451.1 561.3,451.6 561.8,451.8 562.4,451.9 562.9,451.9 563.4,451.9 563.9,451.8 564.4,451.7 564.9,451.3 565.4,451.2 566.0,451.3 566.5,451.5 567.0,451.8 567.5,452.2 568.0,452.5 568.5,452.9 569.1,453.1 569.6,453.1 570.1,453.1 570.6,453.0 571.1,452.8 571.6,452.0 572.1,451.1 572.7,450.0 573.2,448.9 573.7,447.7 574.2,446.6 574.7,445.8 575.2,445.0 575.8,444.4 576.3,443.8 576.8,443.6 577.3,443.2 577.8,442.9 578.3,442.6 578.8,442.3 579.4,442.0 579.9,441.6 580.4,441.4 580.9,441.0 581.4,440.8 581.9,440.7 582.5,440.9 583.0,441.1 583.5,441.6 584.0,442.0 584.5,442.5 585.0,443.2 585.5,443.7 586.1,444.4 586.6,445.0 587.1,445.4 587.6,445.8 588.1,446.2 588.6,446.6 589.2,446.8 589.7,447.0 590.2,447.2 590.7,447.2 591.2,447.1 591.7,447.1 592.2,447.2 592.8,447.3 593.3,447.2 593.8,447.1 594.3,446.8 594.8,446.7 595.3,446.4 595.9,446.2 596.4,445.9 596.9,445.5 597.4,444.8 597.9,443.9 598.4,442.8 598.9,442.0 599.5,441.3 600.0,440.5 600.5,439.7 601.0,438.9 601.5,437.9 602.0,436.8 602.6,436.0 603.1,435.2 603.6,434.7 604.1,434.1 604.6,433.4 605.1,432.7 605.6,432.2 606.2,431.6 606.7,431.4 607.2,431.3 607.7,431.4 608.2,431.6 608.7,431.7 609.3,431.7 609.8,431.7 610.3,431.7 610.8,431.7 611.3,431.7 611.8,431.3 612.4,431.0 612.9,430.5 613.4,429.9 613.9,429.2 614.4,428.4 614.9,427.7 615.4,426.9 616.0,425.7 616.5,424.4 617.0,423.1 617.5,421.2 618.0,418.9 618.5,416.5 619.1,414.2 619.6,411.8 620.1,409.6 620.6,407.7 621.1,406.3 621.6,404.9 622.1,403.5 622.7,402.6 623.2,402.5 623.7,403.1 624.2,403.8 624.7,404.5 625.2,405.1 625.8,405.3 626.3,404.9 626.8,404.5 627.3,404.1 627.8,403.9 628.3,403.1 628.8,402.1 629.4,401.0 629.9,399.9 630.4,399.0 630.9,398.3 631.4,398.1 631.9,398.3 632.5,398.5 633.0,398.9 633.5,399.6 634.0,400.0 634.5,400.4 635.0,400.9 635.5,401.5 636.1,402.0 636.6,402.4 637.1,402.6 637.6,402.6 638.1,402.3 638.6,401.9 639.2,401.3 639.7,400.9 640.2,400.2 640.7,399.6 641.2,398.7 641.7,397.7 642.2,396.8 642.8,395.9 643.3,395.2 643.8,394.2 644.3,393.2 644.8,392.3 645.3,391.4 645.9,390.6 646.4,389.8 646.9,389.2 647.4,388.6 647.9,387.9 648.4,387.3 648.9,386.8 649.5,386.1 650.0,385.1 650.5,384.1 651.0,382.8 651.5,381.1 652.0,379.6 652.6,377.5 653.1,375.6 653.6,373.1 654.1,370.4 654.6,367.7 655.1,364.8 655.6,362.0 656.2,359.2 656.7,356.4 657.2,352.9 657.7,350.0 658.2,346.2 658.7,342.0 659.3,338.1 659.8,333.7 660.3,329.4 660.8,324.8 661.3,320.8 661.8,316.3 662.4,312.0 662.9,307.2 663.4,304.1 663.9,302.1 664.4,300.5 664.9,299.9 665.4,299.8 666.0,299.7 666.5,298.1 667.0,298.0 667.5,298.5 668.0,299.1 668.5,299.2 669.1,299.3 669.6,299.1 670.1,298.1 670.6,297.0 671.1,296.0 671.6,295.6 672.1,294.0 672.7,291.7 673.2,289.2 673.7,286.1 674.2,282.2 674.7,278.1 675.2,274.3 675.8,269.8 676.3,265.0 676.8,259.8 677.3,254.7 677.8,250.0 678.3,245.2 678.8,239.9 679.4,234.8 679.9,229.8 680.4,224.6 680.9,219.7 681.4,215.8 681.9,212.0 682.5,208.4 683.0,204.7 683.5,201.5 684.0,199.6 684.5,198.5 685.0,198.2 685.5,198.2 686.1,198.8 686.6,198.6 687.1,198.3 687.6,199.0 688.1,200.4 688.6,202.0 689.2,204.0 689.7,205.8 690.2,206.9 690.7,207.9 691.2,208.9 691.7,210.1 692.2,211.3 692.8,211.1 693.3,209.8 693.8,207.7 694.3,203.9 694.8,199.1 695.3,194.3 695.9,188.3 696.4,181.6 696.9,174.7 697.4,168.1 697.9,161.4 698.4,154.6 698.9,147.8 699.5,141.1 700.0,134.7 700.5,127.5 701.0,121.1 701.5,114.4 702.0,107.7 702.6,100.5 703.1,94.5 703.6,89.3 704.1,84.5 704.6,79.7 705.1,74.5 705.6,69.6 706.2,63.8 706.7,58.4 707.2,53.9 707.7,50.3 708.2,46.6 708.7,43.4 709.3,40.9 709.8,39.8 710.3,40.2 710.8,42.4 711.3,45.2 711.8,48.9 712.4,52.5 712.9,56.7 713.4,61.3 713.9,66.7 714.4,72.6 714.9,79.0 715.4,85.8 716.0,92.0 716.5,98.9 717.0,104.8 717.5,110.4 718.0,115.8 718.5,120.3 719.1,122.8 719.6,124.1 720.1,123.6 720.6,121.0 721.1,117.1 721.6,112.5 722.1,107.9 722.7,102.9 723.2,98.0 723.7,94.2 724.2,93.7 724.7,94.5 725.2,96.6 725.8,100.2 726.3,105.3 726.8,111.4 727.3,118.7 727.8,126.8 728.3,135.5 728.8,144.0 729.4,150.5 729.9,156.0 730.4,160.1 730.9,164.2 731.4,168.5 731.9,172.7 732.5,176.2 733.0,179.8 733.5,183.2 734.0,186.5 734.5,190.6 735.0,195.4 735.5,200.9 736.1,206.6 736.6,212.8 737.1,219.1 737.6,225.9 738.1,232.6 738.6,238.5 739.2,242.6 739.7,244.8 740.2,245.8 740.7,246.4 741.2,246.4 741.7,245.0 742.2,242.4 742.8,239.3 743.3,235.7 743.8,232.4 744.3,230.7 744.8,230.1 745.3,230.0 745.9,230.9 746.4,231.5 746.9,232.1 747.4,234.1 747.9,237.3 748.4,241.5 748.9,245.7 749.5,250.0 750.0,254.5 750.5,260.0 751.0,265.5 751.5,271.2 752.0,277.3 752.6,283.1 753.1,288.2 753.6,291.9 754.1,295.1 754.6,297.8 755.1,300.0 755.6,301.0 756.2,301.3 756.7,301.6 757.2,302.0 757.7,302.0 758.2,301.6 758.7,302.4 759.3,303.6 759.8,305.3 760.3,307.0 760.8,309.3 761.3,312.1 761.8,315.5 762.4,319.2 762.9,323.0 763.4,327.3 763.9,331.0 764.4,334.3 764.9,337.6 765.4,340.6 766.0,343.9 766.5,346.7 767.0,349.1 767.5,350.9 768.0,352.9 768.5,354.2 769.1,355.3 769.6,356.7 770.1,358.6 770.6,361.1 771.1,363.2 771.6,365.6 772.1,368.5 772.7,371.5 773.2,374.5 773.7,377.9 774.2,381.3 774.7,383.8 775.2,385.4 775.8,386.4 776.3,387.0 776.8,387.2 777.3,386.4 777.8,385.1 778.3,383.5 778.8,381.6 779.4,380.0 779.9,378.9 780.4,377.5 780.9,375.9 781.4,374.7 781.9,374.0 782.5,373.7 783.0,374.0 783.5,374.7 784.0,375.3 784.5,375.8 785.0,376.5 785.5,377.3 786.1,378.3 786.6,378.9 787.1,378.9 787.6,378.9 788.1,378.2 788.6,376.6 789.2,374.5 789.7,372.0 790.2,369.1 790.7,366.0 791.2,362.9 791.7,359.9 792.2,356.9 792.8,354.0 793.3,351.9 793.8,350.6 794.3,350.3 794.8,350.8 795.3,351.8 795.9,352.7 796.4,353.3 796.9,353.7 797.4,353.9 797.9,353.9 798.4,353.1 798.9,351.5 799.5,349.3 800.0,346.8 800.5,344.1 801.0,341.4 801.5,339.0 802.0,336.5 802.6,334.4 803.1,332.8 803.6,331.5 804.1,330.8 804.6,329.8 805.1,328.6 805.6,327.5 806.2,326.7 806.7,325.7 807.2,324.8 807.7,323.4 808.2,321.4 808.7,319.4 809.3,317.0 809.8,315.1 810.3,313.0 810.8,311.0 811.3,309.1 811.8,306.9 812.4,305.3 812.9,304.0 813.4,302.6 813.9,301.6 814.4,300.6 814.9,299.0 815.4,297.5 816.0,295.0 816.5,292.5 817.0,289.7 817.5,286.7 818.0,283.1 818.5,279.7 819.1,275.5 819.6,271.7 820.1,268.0 820.6,264.9 821.1,262.2 821.6,259.4 822.1,257.9 822.7,257.2 823.2,257.3 823.7,257.7 824.2,259.1 824.7,260.7 825.2,263.3 825.8,266.1 826.3,269.6 826.8,273.4 827.3,277.1 827.8,280.8 828.3,284.6 828.8,288.4 829.4,292.1 829.9,294.9 830.4,297.7 830.9,300.1 831.4,302.1 831.9,303.7 832.5,304.1 833.0,303.3 833.5,301.7 834.0,299.8 834.5,297.5 835.0,295.2 835.5,292.2 836.1,288.9 836.6,285.8 837.1,283.3 837.6,281.4 838.1,279.5 838.6,277.9 839.2,276.1 839.7,274.2 840.2,272.2 840.7,270.3 841.2,269.0 841.7,267.6 842.2,265.6 842.8,263.9 843.3,263.0 843.8,262.6 844.3,262.1 844.8,262.4 845.3,263.1 845.9,264.1 846.4,264.4 846.9,264.8 847.4,265.1 847.9,265.0 848.4,264.9 848.9,264.3 849.5,264.3 850.0,264.2 850.5,264.4 851.0,265.2 851.5,266.9 852.0,269.1 852.6,271.7 853.1,274.3 853.6,277.2 854.1,280.0 854.6,282.4 855.1,284.7 855.6,286.3 856.2,287.2 856.4,287.5" fill="none" stroke="#8a008a" stroke-width="1.1" stroke-linejoin="round" shape-rendering="crispEdges" />
<polyline points="3.1,481.2 3.6,480.6 4.1,480.0 4.6,479.5 5.1,478.9 5.6,478.3 6.2,477.9 6.7,477.3 7.2,476.6 7.7,476.1 8.2,475.4 8.7,474.7 9.3,474.1 9.8,473.6 10.3,473.1 10.8,472.5 11.3,472.1 11.8,471.8 12.4,471.4 12.9,471.1 13.4,470.9 13.9,470.6 14.4,470.5 14.9,470.5 15.4,470.4 16.0,470.4 16.5,470.5 17.0,470.7 17.5,470.8 18.0,471.1 18.5,471.4 19.1,471.9 19.6,472.0 20.1,472.1 20.6,472.0 21.1,472.0 21.6,472.0 22.1,471.9 22.7,471.6 23.2,471.2 23.7,470.8 24.2,470.0 24.7,469.0 25.2,468.0 25.8,467.0 26.3,465.8 26.8,464.5 27.3,463.6 27.8,462.8 28.3,462.1 28.8,461.5 29.4,460.9 29.9,460.3 30.4,459.9 30.9,459.6 31.4,459.1 31.9,458.6 32.5,457.9 33.0,457.2 33.5,456.4 34.0,455.5 34.5,454.4 35.0,453.5 35.5,452.9 36.1,452.5 36.6,452.2 37.1,451.9 37.6,451.7 38.1,451.6 38.6,451.5 39.2,451.8 39.7,452.4 40.2,453.3 40.7,454.4 41.2,455.5 41.7,456.9 42.2,458.4 42.8,459.6 43.3,460.5 43.8,461.1 44.3,461.6 44.8,461.8 45.3,461.8 45.9,461.4 46.4,460.9 46.9,460.2 47.4,459.4 47.9,458.3 48.4,457.2 48.9,456.0 49.5,454.6 50.0,453.1 50.5,451.7 51.0,450.1 51.5,448.5 52.0,446.9 52.6,445.2 53.1,443.7 53.6,442.2 54.1,440.8 54.6,439.4 55.1,438.0 55.6,436.7 56.2,435.3 56.7,433.8 57.2,432.3 57.7,430.9 58.2,429.4 58.7,428.0 59.3,426.5 59.8,425.5 60.3,424.8 60.8,424.3 61.3,423.9 61.8,423.7 62.4,423.7 62.9,423.7 63.4,423.8 63.9,424.3 64.4,424.9 64.9,425.6 65.4,426.4 66.0,427.5 66.5,428.7 67.0,430.1 67.5,431.1 68.0,432.0 68.5,432.9 69.1,433.8 69.6,434.8 70.1,435.7 70.6,436.6 71.1,437.5 71.6,438.2 72.1,438.8 72.7,439.5 73.2,440.1 73.7,440.5 74.2,441.0 74.7,441.2 75.2,441.6 75.8,442.0 76.3,442.4 76.8,442.6 77.3,442.8 77.8,443.0 78.3,443.1 78.8,443.1 79.4,443.1 79.9,443.1 80.4,443.2 80.9,443.3 81.4,443.4 81.9,443.5 82.5,443.5 83.0,443.6 83.5,443.7 84.0,443.8 84.5,443.8 85.0,443.7 85.5,443.7 86.1,443.8 86.6,443.8 87.1,443.9 87.6,444.1 88.1,444.2 88.6,444.1 89.2,444.1 89.7,444.1 90.2,444.2 90.7,444.1 91.2,444.0 91.7,443.9 92.2,443.8 92.8,443.6 93.3,443.5 93.8,443.5 94.3,443.5 94.8,443.5 95.3,443.4 95.9,443.6 96.4,443.7 96.9,443.7 97.4,443.6 97.9,443.5 98.4,443.5 98.9,443.4 99.5,443.1 100.0,442.9 100.5,442.7 101.0,442.5 101.5,442.1 102.0,441.6 102.6,441.0 103.1,440.4 103.6,439.7 104.1,439.1 104.6,438.5 105.1,438.0 105.6,437.6 106.2,437.2 106.7,436.8 107.2,436.6 107.7,436.4 108.2,436.1 108.7,436.0 109.3,436.0 109.8,436.2 110.3,436.4 110.8,436.6 111.3,436.9 111.8,437.0 112.4,437.3 112.9,437.4 113.4,437.7 113.9,437.8 114.4,437.9 114.9,437.7 115.4,437.4 116.0,437.1 116.5,436.8 117.0,436.2 117.5,435.5 118.0,434.9 118.5,434.2 119.1,433.4 119.6,432.6 120.1,431.8 120.6,431.1 121.1,430.3 121.6,429.5 122.1,428.8 122.7,428.2 123.2,427.6 123.7,427.2 124.2,426.6 124.7,426.2 125.2,425.8 125.8,425.4 126.3,425.2 126.8,425.0 127.3,424.8 127.8,424.7 128.3,424.4 128.8,424.1 129.4,423.8 129.9,423.7 130.4,423.6 130.9,423.6 131.4,423.7 131.9,423.9 132.5,424.1 133.0,424.4 133.5,424.7 134.0,424.9 134.5,425.3 135.0,425.7 135.5,426.0 136.1,426.5 136.6,427.1 137.1,427.6 137.6,428.3 138.1,429.2 138.6,430.3 139.2,431.3 139.7,432.4 140.2,433.5 140.7,434.7 141.2,435.9 141.7,437.1 142.2,437.9 142.8,438.7 143.3,439.4 143.8,440.0 144.3,440.6 144.8,441.1 145.3,441.4 145.9,441.4 146.4,441.3 146.9,441.0 147.4,440.8 147.9,440.4 148.4,440.0 148.9,439.4 149.5,438.9 150.0,438.5 150.5,438.1 151.0,438.0 151.5,437.8 152.0,437.6 152.6,437.5 153.1,437.4 153.6,437.3 154.1,437.2 154.6,437.0 155.1,436.8 155.6,436.5 156.2,436.4 156.7,436.2 157.2,436.2 157.7,436.1 158.2,436.1 158.7,436.1 159.3,436.2 159.8,436.3 160.3,436.4 160.8,436.6 161.3,436.9 161.8,437.4 162.4,437.8 162.9,438.3 163.4,438.9 163.9,439.4 164.4,439.9 164.9,440.4 165.4,440.9 166.0,441.3 166.5,441.8 167.0,442.3 167.5,442.8 168.0,443.1 168.5,443.5 169.1,443.9 169.6,444.2 170.1,444.5 170.6,444.9 171.1,445.2 171.6,445.6 172.1,445.8 172.7,446.0 173.2,446.2 173.7,446.3 174.2,446.2 174.7,446.2 175.2,446.1 175.8,446.1 176.3,446.0 176.8,445.8 177.3,445.5 177.8,445.2 178.3,444.7 178.8,444.4 179.4,444.0 179.9,443.8 180.4,443.7 180.9,443.7 181.4,443.7 181.9,443.8 182.5,443.8 183.0,444.1 183.5,444.4 184.0,444.8 184.5,445.2 185.0,445.6 185.5,445.8 186.1,445.8 186.6,445.7 187.1,445.3 187.6,444.7 188.1,444.0 188.6,443.1 189.2,441.9 189.7,440.4 190.2,438.7 190.7,436.7 191.2,434.4 191.7,431.7 192.2,429.0 192.8,426.3 193.3,423.7 193.8,420.9 194.3,418.5 194.8,416.4 195.3,414.3 195.9,412.3 196.4,410.6 196.9,409.2 197.4,408.0 197.9,406.9 198.4,406.1 198.9,405.5 199.5,405.1 200.0,404.9 200.5,404.9 201.0,404.9 201.5,405.2 202.0,405.3 202.6,405.3 203.1,405.2 203.6,405.1 204.1,404.8 204.6,404.5 205.1,404.5 205.6,404.4 206.2,404.3 206.7,404.0 207.2,403.6 207.7,403.3 208.2,402.8 208.7,402.4 209.3,402.3 209.8,402.4 210.3,402.6 210.8,403.0 211.3,403.4 211.8,404.0 212.4,404.5 212.9,404.9 213.4,405.5 213.9,406.3 214.4,407.2 214.9,408.1 215.4,409.0 216.0,410.0 216.5,411.0 217.0,411.9 217.5,412.5 218.0,413.3 218.5,413.9 219.1,414.4 219.6,414.9 220.1,415.4 220.6,416.0 221.1,416.4 221.6,416.9 222.1,417.4 222.7,417.9 223.2,418.3 223.7,418.6 224.2,418.9 224.7,419.1 225.2,419.4 225.8,419.6 226.3,419.7 226.8,419.9 227.3,420.0 227.8,419.9 228.3,419.8 228.8,419.6 229.4,419.2 229.9,418.4 230.4,417.2 230.9,415.8 231.4,414.4 231.9,413.0 232.5,411.6 233.0,410.1 233.5,408.6 234.0,407.1 234.5,405.6 235.0,403.9 235.5,402.4 236.1,401.1 236.6,399.7 237.1,398.4 237.6,397.3 238.1,396.7 238.6,396.3 239.2,395.8 239.7,395.1 240.2,394.5 240.7,393.8 241.2,393.2 241.7,392.6 242.2,392.1 242.8,391.6 243.3,391.1 243.8,390.6 244.3,390.0 244.8,389.5 245.3,389.3 245.9,389.0 246.4,388.9 246.9,389.0 247.4,389.2 247.9,389.1 248.4,388.8 248.9,388.5 249.5,388.0 250.0,387.6 250.5,387.0 251.0,386.4 251.5,385.9 252.0,385.5 252.6,385.0 253.1,384.2 253.6,383.3 254.1,382.4 254.6,381.4 255.1,380.5 255.6,380.0 256.2,379.4 256.7,378.8 257.2,378.4 257.7,377.9 258.2,377.5 258.7,377.0 259.3,376.4 259.8,375.7 260.3,375.1 260.8,374.6 261.3,374.0 261.8,373.7 262.4,373.2 262.9,372.5 263.4,371.7 263.9,371.0 264.4,370.3 264.9,369.8 265.4,369.3 266.0,369.0 266.5,368.6 267.0,368.4 267.5,368.4 268.0,368.7 268.5,369.0 269.1,369.4 269.6,369.8 270.1,370.3 270.6,371.0 271.1,371.7 271.6,372.6 272.1,373.6 272.7,374.4 273.2,375.1 273.7,375.5 274.2,376.2 274.7,376.8 275.2,377.2 275.8,377.4 276.3,377.3 276.8,377.1 277.3,376.9 277.8,376.4 278.3,375.8 278.8,375.1 279.4,374.2 279.9,373.3 280.4,372.2 280.9,371.3 281.4,370.6 281.9,369.6 282.5,368.8 283.0,368.2 283.5,367.5 284.0,367.0 284.5,366.5 285.0,366.0 285.5,365.5 286.1,365.1 286.6,364.8 287.1,364.6 287.6,364.4 288.1,364.2 288.6,364.0 289.2,363.8 289.7,364.0 290.2,364.1 290.7,364.2 291.2,364.6 291.7,365.1 292.2,365.6 292.8,366.2 293.3,367.2 293.8,368.3 294.3,369.5 294.8,370.5 295.3,371.3 295.9,372.1 296.4,372.9 296.9,373.7 297.4,374.2 297.9,374.5 298.4,374.5 298.9,374.2 299.5,373.7 300.0,373.2 300.5,372.5 301.0,371.4 301.5,370.4 302.0,369.2 302.6,368.1 303.1,367.1 303.6,366.2 304.1,365.1 304.6,364.0 305.1,362.9 305.6,361.8 306.2,361.0 306.7,360.2 307.2,359.8 307.7,359.3 308.2,359.0 308.7,358.7 309.3,358.2 309.8,357.8 310.3,357.4 310.8,357.1 311.3,356.7 311.8,356.6 312.4,356.8 312.9,356.8 313.4,356.5 313.9,356.4 314.4,356.3 314.9,356.0 315.4,355.6 316.0,355.3 316.5,355.0 317.0,354.8 317.5,354.8 318.0,354.9 318.5,355.1 319.1,355.2 319.6,355.3 320.1,355.5 320.6,356.0 321.1,356.9 321.6,357.9 322.1,359.1 322.7,360.5 323.2,362.0 323.7,363.6 324.2,365.4 324.7,366.9 325.2,368.2 325.8,369.4 326.3,370.8 326.8,372.5 327.3,374.5 327.8,376.2 328.3,377.8 328.8,379.1 329.4,380.4 329.9,381.5 330.4,382.4 330.9,383.2 331.4,383.9 331.9,384.5 332.5,385.3 333.0,386.3 333.5,387.5 334.0,388.6 334.5,389.6 335.0,390.6 335.5,391.7 336.1,392.9 336.6,394.0 337.1,394.6 337.6,395.3 338.1,396.0 338.6,396.8 339.2,397.8 339.7,398.9 340.2,399.8 340.7,400.5 341.2,400.9 341.7,401.0 342.2,401.0 342.8,400.7 343.3,400.2 343.8,399.6 344.3,399.3 344.8,399.2 345.3,399.1 345.9,399.1 346.4,399.0 346.9,398.7 347.4,398.6 347.9,398.7 348.4,399.1 348.9,399.7 349.5,400.5 350.0,401.4 350.5,402.5 351.0,403.8 351.5,405.2 352.0,406.8 352.6,408.4 353.1,410.1 353.6,411.9 354.1,413.4 354.6,414.5 355.1,415.4 355.6,416.1 356.2,416.6 356.7,416.9 357.2,417.0 357.7,417.1 358.2,416.7 358.7,416.1 359.3,415.2 359.8,414.0 360.3,412.7 360.8,411.0 361.3,409.4 361.8,407.9 362.4,406.7 362.9,405.6 363.4,404.7 363.9,403.8 364.4,403.1 364.9,402.3 365.4,401.6 366.0,401.2 366.5,400.9 367.0,400.6 367.5,400.5 368.0,400.5 368.5,400.9 369.1,401.2 369.6,401.7 370.1,402.2 370.6,402.7 371.1,403.4 371.6,404.1 372.1,404.8 372.7,405.5 373.2,406.4 373.7,407.3 374.2,408.2 374.7,409.1 375.2,409.6 375.8,409.6 376.3,409.4 376.8,408.8 377.3,408.2 377.8,407.5 378.3,406.7 378.8,405.8 379.4,404.9 379.9,403.9 380.4,402.9 380.9,401.8 381.4,400.7 381.9,399.5 382.5,398.5 383.0,397.8 383.5,397.5 384.0,397.4 384.5,397.4 385.0,397.6 385.5,397.8 386.1,397.7 386.6,397.7 387.1,397.8 387.6,398.0 388.1,398.2 388.6,398.5 389.2,398.7 389.7,398.9 390.2,399.0 390.7,399.1 391.2,399.3 391.7,399.5 392.2,399.7 392.8,400.0 393.3,400.4 393.8,400.9 394.3,401.5 394.8,401.9 395.3,402.5 395.9,403.0 396.4,403.6 396.9,404.2 397.4,404.9 397.9,405.7 398.4,406.6 398.9,407.5 399.5,408.3 400.0,409.1 400.5,409.9 401.0,410.7 401.5,411.7 402.0,412.6 402.6,413.8 403.1,414.8 403.6,415.8 404.1,416.8 404.6,417.8 405.1,418.7 405.6,419.4 406.2,419.9 406.7,420.5 407.2,421.1 407.7,421.7 408.2,422.1 408.7,422.6 409.3,423.1 409.8,423.6 410.3,423.9 410.8,424.2 411.3,424.3 411.8,424.1 412.4,423.9 412.9,423.5 413.4,423.2 413.9,422.9 414.4,422.4 414.9,421.9 415.4,421.3 416.0,420.6 416.5,419.9 417.0,419.2 417.5,418.3 418.0,417.5 418.5,416.7 419.1,415.9 419.6,415.2 420.1,414.6 420.6,414.2 421.1,414.0 421.6,413.8 422.1,413.8 422.7,413.8 423.2,413.8 423.7,414.0 424.2,414.1 424.7,414.0 425.2,413.9 425.8,413.6 426.3,413.3 426.8,413.0 427.3,412.7 427.8,412.4 428.3,412.1 428.8,411.8 429.4,411.5 429.9,411.2 430.4,410.9 430.9,410.6 431.4,410.3 431.9,410.0 432.5,409.6 433.0,409.3 433.5,409.2 434.0,409.1 434.5,409.1 435.0,409.2 435.5,409.4 436.1,409.6 436.6,409.8 437.1,409.8 437.6,409.8 438.1,410.0 438.6,410.1 439.2,410.2 439.7,410.5 440.2,410.8 440.7,411.1 441.2,411.4 441.7,411.7 442.2,411.9 442.8,412.2 443.3,412.4 443.8,412.6 444.3,412.7 444.8,412.9 445.3,413.2 445.9,413.5 446.4,413.8 446.9,414.0 447.4,414.2 447.9,414.5 448.4,414.7 448.9,415.0 449.5,415.3 450.0,415.6 450.5,416.0 451.0,416.4 451.5,416.8 452.0,417.3 452.6,417.8 453.1,418.3 453.6,418.8 454.1,419.3 454.6,419.7 455.1,420.2 455.6,420.7 456.2,421.2 456.7,421.6 457.2,422.0 457.7,422.3 458.2,422.5 458.7,422.7 459.3,422.9 459.8,423.2 460.3,423.4 460.8,423.5 461.3,423.7 461.8,423.9 462.4,424.3 462.9,424.7 463.4,425.1 463.9,425.6 464.4,425.9 464.9,426.1 465.4,426.2 466.0,426.3 466.5,426.3 467.0,426.2 467.5,425.9 468.0,425.5 468.5,424.9 469.1,424.4 469.6,423.7 470.1,422.8 470.6,421.8 471.1,420.6 471.6,419.3 472.1,418.1 472.7,416.9 473.2,415.7 473.7,414.4 474.2,413.1 474.7,411.9 475.2,410.8 475.8,409.6 476.3,408.4 476.8,407.1 477.3,405.8 477.8,404.5 478.3,403.2 478.8,402.0 479.4,400.9 479.9,400.1 480.4,399.5 480.9,398.9 481.4,398.6 481.9,398.4 482.5,398.0 483.0,397.6 483.5,397.4 484.0,397.1 484.5,396.9 485.0,396.7 485.5,396.7 486.1,396.7 486.6,396.8 487.1,396.6 487.6,396.3 488.1,396.1 488.6,396.0 489.2,395.9 489.7,395.9 490.2,396.1 490.7,396.4 491.2,396.8 491.7,397.3 492.2,397.9 492.8,398.8 493.3,399.8 493.8,400.8 494.3,401.8 494.8,402.9 495.3,403.9 495.9,404.8 496.4,405.7 496.9,406.5 497.4,407.1 497.9,407.8 498.4,408.5 498.9,409.3 499.5,410.3 500.0,411.2 500.5,412.0 501.0,412.7 501.5,413.5 502.0,414.3 502.6,415.2 503.1,416.0 503.6,416.9 504.1,417.6 504.6,418.2 505.1,418.8 505.6,419.4 506.2,419.9 506.7,420.3 507.2,420.7 507.7,421.0 508.2,421.2 508.7,421.4 509.3,421.6 509.8,421.7 510.3,421.8 510.8,422.1 511.3,422.4 511.8,422.8 512.4,423.3 512.9,423.9 513.4,424.4 513.9,425.0 514.4,425.6 514.9,426.2 515.4,426.8 516.0,427.4 516.5,427.6 517.0,427.5 517.5,427.4 518.0,427.1 518.5,426.8 519.1,426.5 519.6,426.3 520.1,426.1 520.6,425.9 521.1,425.8 521.6,425.6 522.1,425.5 522.7,425.4 523.2,425.2 523.7,425.0 524.2,425.1 524.7,425.5 525.2,425.8 525.8,426.2 526.3,426.7 526.8,427.0 527.3,427.4 527.8,427.6 528.3,427.7 528.8,427.7 529.4,427.8 529.9,427.7 530.4,427.7 530.9,427.7 531.4,427.8 531.9,428.0 532.5,428.2 533.0,428.7 533.5,429.1 534.0,429.6 534.5,430.1 535.0,430.7 535.5,431.3 536.1,432.0 536.6,432.7 537.1,433.5 537.6,434.3 538.1,435.1 538.6,435.7 539.2,436.2 539.7,436.7 540.2,437.0 540.7,437.2 541.2,437.5 541.7,437.6 542.2,437.4 542.8,437.2 543.3,437.1 543.8,436.9 544.3,436.7 544.8,436.3 545.3,436.0 545.9,435.7 546.4,435.5 546.9,435.3 547.4,435.1 547.9,435.2 548.4,435.3 548.9,435.3 549.5,435.5 550.0,435.9 550.5,436.4 551.0,436.7 551.5,436.9 552.0,437.0 552.6,437.3 553.1,437.6 553.6,438.0 554.1,438.5 554.6,438.9 555.1,439.5 555.6,440.1 556.2,440.7 556.7,441.4 557.2,442.2 557.7,442.9 558.2,443.7 558.7,444.6 559.3,445.7 559.8,446.8 560.3,447.8 560.8,448.6 561.3,449.3 561.8,449.9 562.4,450.4 562.9,450.8 563.4,451.2 563.9,451.4 564.4,451.7 564.9,451.6 565.4,451.6 566.0,451.7 566.5,451.8 567.0,451.9 567.5,451.9 568.0,452.1 568.5,452.3 569.1,452.4 569.6,452.5 570.1,452.5 570.6,452.4 571.1,452.3 571.6,451.9 572.1,451.5 572.7,451.1 573.2,450.6 573.7,449.9 574.2,449.2 574.7,448.5 575.2,447.7 575.8,447.0 576.3,446.3 576.8,445.6 577.3,444.9 577.8,444.3 578.3,443.6 578.8,443.0 579.4,442.6 579.9,442.2 580.4,442.0 580.9,441.8 581.4,441.7 581.9,441.6 582.5,441.7 583.0,441.6 583.5,441.7 584.0,441.7 584.5,441.9 585.0,442.1 585.5,442.5 586.1,443.0 586.6,443.5 587.1,443.9 587.6,444.4 588.1,444.9 588.6,445.4 589.2,445.7 589.7,446.1 590.2,446.3 590.7,446.5 591.2,446.7 591.7,446.9 592.2,447.0 592.8,447.2 593.3,447.2 593.8,447.1 594.3,447.0 594.8,446.9 595.3,446.7 595.9,446.5 596.4,446.3 596.9,446.0 597.4,445.5 597.9,445.0 598.4,444.3 598.9,443.7 599.5,443.1 600.0,442.5 600.5,441.7 601.0,440.9 601.5,440.1 602.0,439.3 602.6,438.4 603.1,437.5 603.6,436.6 604.1,435.8 604.6,435.1 605.1,434.4 605.6,433.9 606.2,433.5 606.7,433.1 607.2,432.7 607.7,432.3 608.2,432.1 608.7,431.9 609.3,431.7 609.8,431.7 610.3,431.5 610.8,431.5 611.3,431.4 611.8,431.2 612.4,431.1 612.9,430.9 613.4,430.6 613.9,430.3 614.4,429.8 614.9,429.2 615.4,428.5 616.0,427.6 616.5,426.6 617.0,425.5 617.5,424.0 618.0,422.4 618.5,420.5 619.1,418.6 619.6,416.8 620.1,415.0 620.6,413.3 621.1,411.9 621.6,410.4 622.1,408.8 622.7,407.3 623.2,406.1 623.7,405.5 624.2,404.9 624.7,404.4 625.2,404.3 625.8,404.2 626.3,404.1 626.8,403.9 627.3,403.7 627.8,403.5 628.3,403.1 628.8,402.7 629.4,402.3 629.9,402.0 630.4,401.8 630.9,401.4 631.4,400.8 631.9,400.2 632.5,399.7 633.0,399.4 633.5,399.2 634.0,399.4 634.5,399.6 635.0,399.9 635.5,400.2 636.1,400.7 636.6,401.0 637.1,401.3 637.6,401.5 638.1,401.6 638.6,401.6 639.2,401.5 639.7,401.3 640.2,401.0 640.7,400.7 641.2,400.2 641.7,399.5 642.2,398.9 642.8,398.2 643.3,397.4 643.8,396.4 644.3,395.3 644.8,394.5 645.3,393.5 645.9,392.8 646.4,392.1 646.9,391.4 647.4,390.7 647.9,389.9 648.4,389.2 648.9,388.4 649.5,387.6 650.0,386.7 650.5,385.7 651.0,384.6 651.5,383.4 652.0,382.3 652.6,380.8 653.1,379.4 653.6,377.6 654.1,375.5 654.6,373.3 655.1,370.8 655.6,368.4 656.2,365.8 656.7,363.2 657.2,360.2 657.7,357.4 658.2,354.1 658.7,350.3 659.3,346.8 659.8,342.7 660.3,338.8 660.8,334.6 661.3,331.0 661.8,327.1 662.4,323.1 662.9,318.9 663.4,315.4 663.9,312.3 664.4,309.5 664.9,307.4 665.4,305.3 666.0,303.6 666.5,301.7 667.0,300.4 667.5,299.5 668.0,298.7 668.5,298.4 669.1,297.9 669.6,298.0 670.1,298.1 670.6,298.6 671.1,298.2 671.6,297.4 672.1,296.1 672.7,294.0 673.2,291.7 673.7,289.3 674.2,287.3 674.7,284.7 675.2,282.0 675.8,279.1 676.3,275.4 676.8,271.1 677.3,266.5 677.8,262.0 678.3,257.1 678.8,251.9 679.4,246.8 679.9,241.9 680.4,237.3 680.9,232.7 681.4,228.5 681.9,224.3 682.5,220.1 683.0,215.6 683.5,211.5 684.0,208.3 684.5,206.0 685.0,204.1 685.5,202.8 686.1,201.8 686.6,201.0 687.1,200.0 687.6,199.6 688.1,199.5 688.6,199.8 689.2,200.5 689.7,201.8 690.2,203.2 690.7,204.9 691.2,206.7 691.7,208.0 692.2,208.4 692.8,208.2 693.3,207.2 693.8,205.7 694.3,204.0 694.8,202.3 695.3,200.0 695.9,196.8 696.4,193.1 696.9,188.5 697.4,183.3 697.9,177.9 698.4,171.7 698.9,165.0 699.5,158.0 700.0,151.3 700.5,144.3 701.0,137.7 701.5,130.9 702.0,124.3 702.6,117.6 703.1,111.4 703.6,105.7 704.1,100.2 704.6,94.7 705.1,88.8 705.6,83.1 706.2,77.1 706.7,71.3 707.2,66.2 707.7,61.3 708.2,57.4 708.7,53.9 709.3,51.2 709.8,49.4 710.3,48.7 710.8,48.3 711.3,47.7 711.8,47.6 712.4,48.0 712.9,49.5 713.4,51.8 713.9,55.8 714.4,60.7 714.9,66.2 715.4,72.4 716.0,78.6 716.5,84.7 717.0,90.2 717.5,95.1 718.0,99.9 718.5,103.8 719.1,107.5 719.6,110.8 720.1,113.6 720.6,115.2 721.1,115.8 721.6,115.2 722.1,113.7 722.7,111.0 723.2,107.9 723.7,105.3 724.2,104.1 724.7,104.0 725.2,104.3 725.8,104.8 726.3,105.8 726.8,107.7 727.3,110.1 727.8,113.2 728.3,117.6 728.8,123.2 729.4,129.4 729.9,136.0 730.4,142.5 730.9,149.0 731.4,155.3 731.9,160.4 732.5,164.6 733.0,168.6 733.5,172.9 734.0,177.3 734.5,182.2 735.0,187.1 735.5,191.9 736.1,196.4 736.6,201.2 737.1,206.1 737.6,211.2 738.1,217.0 738.6,222.5 739.2,226.7 739.7,230.2 740.2,233.5 740.7,236.3 741.2,238.5 741.7,240.2 742.2,240.7 742.8,240.5 743.3,240.2 743.8,239.7 744.3,238.6 744.8,237.5 745.3,236.2 745.9,235.1 746.4,233.8 746.9,233.2 747.4,233.6 747.9,234.9 748.4,236.9 748.9,239.2 749.5,241.9 750.0,245.6 750.5,250.0 751.0,255.0 751.5,259.7 752.0,264.3 752.6,268.9 753.1,273.7 753.6,277.6 754.1,281.6 754.6,285.8 755.1,289.5 755.6,292.5 756.2,294.9 756.7,297.0 757.2,299.0 757.7,300.5 758.2,301.4 758.7,302.2 759.3,303.3 759.8,304.4 760.3,305.4 760.8,306.5 761.3,308.4 761.8,310.5 762.4,313.2 762.9,315.8 763.4,318.9 763.9,321.9 764.4,325.1 764.9,328.2 765.4,331.2 766.0,334.7 766.5,337.9 767.0,340.9 767.5,343.6 768.0,346.4 768.5,348.9 769.1,350.7 769.6,352.6 770.1,354.4 770.6,356.6 771.1,358.6 771.6,361.0 772.1,363.7 772.7,366.3 773.2,369.1 773.7,371.6 774.2,373.8 774.7,375.7 775.2,377.4 775.8,379.0 776.3,380.5 776.8,382.3 777.3,383.4 777.8,383.9 778.3,384.0 778.8,383.8 779.4,383.4 779.9,382.6 780.4,381.4 780.9,379.9 781.4,378.3 781.9,377.4 782.5,376.7 783.0,376.3 783.5,376.2 784.0,376.0 784.5,375.8 785.0,376.0 785.5,376.2 786.1,376.4 786.6,376.6 787.1,376.6 787.6,376.8 788.1,376.8 788.6,376.6 789.2,375.9 789.7,374.5 790.2,372.9 790.7,370.9 791.2,368.6 791.7,366.3 792.2,364.0 792.8,361.8 793.3,359.9 793.8,358.2 794.3,356.8 794.8,355.8 795.3,354.8 795.9,353.9 796.4,353.0 796.9,352.5 797.4,352.0 797.9,351.7 798.4,351.3 798.9,350.6 799.5,349.8 800.0,349.1 800.5,348.2 801.0,346.9 801.5,345.3 802.0,343.3 802.6,341.0 803.1,339.0 803.6,337.1 804.1,335.6 804.6,333.9 805.1,332.2 805.6,330.6 806.2,329.3 806.7,328.1 807.2,326.9 807.7,325.4 808.2,323.9 808.7,322.4 809.3,320.9 809.8,319.6 810.3,317.9 810.8,316.0 811.3,314.3 811.8,312.2 812.4,310.5 812.9,309.0 813.4,307.3 813.9,305.7 814.4,304.1 814.9,302.4 815.4,300.6 816.0,298.4 816.5,296.4 817.0,294.0 817.5,291.6 818.0,289.1 818.5,286.4 819.1,283.3 819.6,280.6 820.1,277.6 820.6,274.6 821.1,271.4 821.6,268.2 822.1,265.6 822.7,263.7 823.2,262.3 823.7,261.6 824.2,261.1 824.7,261.3 825.2,261.9 825.8,263.2 826.3,264.8 826.8,266.8 827.3,269.2 827.8,272.2 828.3,275.4 828.8,279.1 829.4,282.9 829.9,286.0 830.4,288.9 830.9,291.8 831.4,294.4 831.9,296.6 832.5,298.1 833.0,298.9 833.5,299.1 834.0,299.2 834.5,298.9 835.0,298.0 835.5,296.6 836.1,294.6 836.6,292.6 837.1,290.7 837.6,289.1 838.1,286.8 838.6,284.3 839.2,281.9 839.7,279.2 840.2,276.7 840.7,274.5 841.2,272.9 841.7,271.1 842.2,269.5 842.8,268.2 843.3,267.3 843.8,266.8 844.3,266.1 844.8,265.3 845.3,264.6 845.9,264.2 846.4,263.8 846.9,263.6 847.4,263.5 847.9,263.4 848.4,263.7 848.9,263.7 849.5,263.9 850.0,264.3 850.5,265.0 851.0,265.7 851.5,266.7 852.0,268.3 852.6,269.7 853.1,270.9 853.6,272.4 854.1,274.1 854.6,275.6 855.1,277.3 855.6,279.2 856.2,280.6 856.4,281.3" fill="none" stroke="#808080" stroke-width="1.1" stroke-linejoin="round" shape-rendering="crispEdges" />
<polyline points="3.1,485.0 3.6,484.5 4.1,483.9 4.6,483.4 5.1,482.9 5.6,482.3 6.2,481.8 6.7,481.2 7.2,480.6 7.7,480.1 8.2,479.5 8.7,479.0 9.3,478.5 9.8,477.9 10.3,477.4 10.8,476.9 11.3,476.4 11.8,475.9 12.4,475.5 12.9,475.0 13.4,474.6 13.9,474.3 14.4,473.9 14.9,473.5 15.4,473.2 16.0,472.9 16.5,472.6 17.0,472.4 17.5,472.2 18.0,472.1 18.5,472.0 19.1,472.0 19.6,471.9 20.1,471.8 20.6,471.6 21.1,471.4 21.6,471.3 22.1,471.2 22.7,471.1 23.2,470.8 23.7,470.6 24.2,470.3 24.7,469.8 25.2,469.4 25.8,469.0 26.3,468.6 26.8,468.2 27.3,467.8 27.8,467.5 28.3,467.1 28.8,466.7 29.4,466.4 29.9,466.1 30.4,465.7 30.9,465.4 31.4,464.9 31.9,464.3 32.5,463.5 33.0,462.6 33.5,461.7 34.0,460.6 34.5,459.4 35.0,458.6 35.5,457.9 36.1,457.3 36.6,456.8 37.1,456.4 37.6,456.0 38.1,455.7 38.6,455.6 39.2,455.4 39.7,455.5 40.2,455.6 40.7,455.8 41.2,456.0 41.7,456.2 42.2,456.4 42.8,456.5 43.3,456.7 43.8,456.8 44.3,456.9 44.8,456.9 45.3,456.7 45.9,456.5 46.4,456.2 46.9,456.0 47.4,455.9 47.9,455.8 48.4,455.8 48.9,455.8 49.5,455.8 50.0,455.8 50.5,455.6 51.0,455.3 51.5,454.8 52.0,454.2 52.6,453.5 53.1,452.7 53.6,451.8 54.1,450.9 54.6,449.8 55.1,448.7 55.6,447.5 56.2,446.2 56.7,444.9 57.2,443.5 57.7,442.0 58.2,440.5 58.7,439.0 59.3,437.5 59.8,436.2 60.3,435.0 60.8,434.0 61.3,433.1 61.8,432.3 62.4,431.5 62.9,430.9 63.4,430.3 63.9,429.8 64.4,429.3 64.9,429.0 65.4,428.7 66.0,428.4 66.5,428.3 67.0,428.3 67.5,428.3 68.0,428.4 68.5,428.6 69.1,428.9 69.6,429.3 70.1,429.7 70.6,430.2 71.1,430.7 71.6,431.2 72.1,431.9 72.7,432.5 73.2,433.2 73.7,434.0 74.2,434.8 74.7,435.7 75.2,436.4 75.8,437.0 76.3,437.7 76.8,438.2 77.3,438.8 77.8,439.3 78.3,439.8 78.8,440.3 79.4,440.6 79.9,440.9 80.4,441.3 80.9,441.7 81.4,442.0 81.9,442.2 82.5,442.4 83.0,442.6 83.5,442.8 84.0,443.1 84.5,443.2 85.0,443.3 85.5,443.3 86.1,443.4 86.6,443.5 87.1,443.5 87.6,443.6 88.1,443.7 88.6,443.7 89.2,443.7 89.7,443.8 90.2,443.9 90.7,443.9 91.2,443.8 91.7,443.8 92.2,443.8 92.8,443.7 93.3,443.6 93.8,443.6 94.3,443.6 94.8,443.7 95.3,443.8 95.9,443.9 96.4,443.9 96.9,443.9 97.4,443.9 97.9,443.9 98.4,443.8 98.9,443.7 99.5,443.5 100.0,443.3 100.5,443.2 101.0,443.0 101.5,442.8 102.0,442.5 102.6,442.2 103.1,441.9 103.6,441.6 104.1,441.4 104.6,441.1 105.1,440.8 105.6,440.6 106.2,440.4 106.7,440.1 107.2,439.9 107.7,439.6 108.2,439.4 108.7,439.3 109.3,439.1 109.8,438.9 110.3,438.7 110.8,438.5 111.3,438.3 111.8,438.1 112.4,437.9 112.9,437.7 113.4,437.6 113.9,437.5 114.4,437.3 114.9,437.1 115.4,436.9 116.0,436.6 116.5,436.4 117.0,436.1 117.5,435.9 118.0,435.7 118.5,435.4 119.1,435.1 119.6,434.8 120.1,434.5 120.6,434.3 121.1,434.0 121.6,433.7 122.1,433.3 122.7,432.9 123.2,432.5 123.7,432.1 124.2,431.7 124.7,431.2 125.2,430.7 125.8,430.1 126.3,429.7 126.8,429.2 127.3,428.7 127.8,428.2 128.3,427.8 128.8,427.2 129.4,426.7 129.9,426.2 130.4,425.9 130.9,425.6 131.4,425.4 131.9,425.3 132.5,425.2 133.0,425.1 133.5,425.0 134.0,425.1 134.5,425.2 135.0,425.3 135.5,425.4 136.1,425.5 136.6,425.6 137.1,425.7 137.6,426.0 138.1,426.4 138.6,426.9 139.2,427.5 139.7,428.2 140.2,428.8 140.7,429.6 141.2,430.3 141.7,431.0 142.2,431.6 142.8,432.2 143.3,432.7 143.8,433.3 144.3,433.9 144.8,434.4 145.3,434.8 145.9,435.3 146.4,435.8 146.9,436.2 147.4,436.6 147.9,437.0 148.4,437.3 148.9,437.7 149.5,438.0 150.0,438.2 150.5,438.4 151.0,438.7 151.5,438.9 152.0,439.1 152.6,439.3 153.1,439.4 153.6,439.4 154.1,439.2 154.6,439.0 155.1,438.8 155.6,438.5 156.2,438.2 156.7,437.8 157.2,437.5 157.7,437.3 158.2,437.1 158.7,437.1 159.3,437.0 159.8,436.9 160.3,437.0 160.8,437.0 161.3,437.1 161.8,437.3 162.4,437.4 162.9,437.5 163.4,437.7 163.9,437.9 164.4,438.1 164.9,438.3 165.4,438.5 166.0,438.7 166.5,439.0 167.0,439.3 167.5,439.5 168.0,439.8 168.5,440.1 169.1,440.4 169.6,440.8 170.1,441.2 170.6,441.6 171.1,442.1 171.6,442.5 172.1,442.9 172.7,443.2 173.2,443.5 173.7,443.8 174.2,444.0 174.7,444.3 175.2,444.4 175.8,444.6 176.3,444.7 176.8,444.8 177.3,444.9 177.8,444.9 178.3,444.8 178.8,444.8 179.4,444.8 179.9,444.8 180.4,444.9 180.9,444.9 181.4,445.0 181.9,445.0 182.5,445.0 183.0,445.1 183.5,445.2 184.0,445.4 184.5,445.5 185.0,445.5 185.5,445.5 186.1,445.3 186.6,445.0 187.1,444.6 187.6,444.3 188.1,443.9 188.6,443.4 189.2,442.8 189.7,442.1 190.2,441.3 190.7,440.4 191.2,439.4 191.7,438.3 192.2,437.1 192.8,435.9 193.3,434.7 193.8,433.4 194.3,432.1 194.8,430.8 195.3,429.5 195.9,428.1 196.4,426.8 196.9,425.6 197.4,424.2 197.9,422.8 198.4,421.4 198.9,419.9 199.5,418.4 200.0,416.9 200.5,415.6 201.0,414.3 201.5,413.1 202.0,411.9 202.6,410.8 203.1,409.7 203.6,408.7 204.1,407.7 204.6,406.9 205.1,406.3 205.6,405.7 206.2,405.2 206.7,404.7 207.2,404.4 207.7,404.1 208.2,403.8 208.7,403.7 209.3,403.7 209.8,403.9 210.3,403.9 210.8,404.1 211.3,404.3 211.8,404.4 212.4,404.5 212.9,404.7 213.4,405.0 213.9,405.3 214.4,405.6 214.9,405.8 215.4,406.1 216.0,406.4 216.5,406.7 217.0,407.1 217.5,407.5 218.0,407.9 218.5,408.5 219.1,408.9 219.6,409.4 220.1,410.0 220.6,410.4 221.1,411.0 221.6,411.6 222.1,412.3 222.7,413.0 223.2,413.7 223.7,414.3 224.2,414.9 224.7,415.5 225.2,415.9 225.8,416.4 226.3,416.8 226.8,417.1 227.3,417.4 227.8,417.7 228.3,417.9 228.8,418.0 229.4,418.0 229.9,417.9 230.4,417.6 230.9,417.0 231.4,416.5 231.9,416.0 232.5,415.3 233.0,414.7 233.5,414.1 234.0,413.4 234.5,412.7 235.0,412.0 235.5,411.2 236.1,410.4 236.6,409.6 237.1,408.8 237.6,407.8 238.1,407.0 238.6,406.1 239.2,405.1 239.7,404.1 240.2,403.0 240.7,402.0 241.2,400.9 241.7,399.8 242.2,398.8 242.8,397.8 243.3,396.8 243.8,395.8 244.3,394.9 244.8,393.9 245.3,393.3 245.9,392.9 246.4,392.6 246.9,392.4 247.4,392.2 247.9,391.8 248.4,391.3 248.9,390.8 249.5,390.3 250.0,389.8 250.5,389.3 251.0,388.8 251.5,388.3 252.0,387.8 252.6,387.2 253.1,386.7 253.6,386.2 254.1,385.7 254.6,385.2 255.1,384.9 255.6,384.5 256.2,384.1 256.7,383.6 257.2,383.2 257.7,382.7 258.2,382.2 258.7,381.7 259.3,381.2 259.8,380.6 260.3,380.0 260.8,379.4 261.3,378.7 261.8,378.1 262.4,377.3 262.9,376.5 263.4,375.8 263.9,375.2 264.4,374.6 264.9,374.1 265.4,373.6 266.0,373.2 266.5,372.8 267.0,372.4 267.5,372.1 268.0,371.9 268.5,371.8 269.1,371.7 269.6,371.7 270.1,371.8 270.6,371.7 271.1,371.7 271.6,371.8 272.1,371.9 272.7,372.1 273.2,372.2 273.7,372.2 274.2,372.4 274.7,372.6 275.2,372.8 275.8,373.0 276.3,373.2 276.8,373.3 277.3,373.3 277.8,373.3 278.3,373.4 278.8,373.4 279.4,373.4 279.9,373.4 280.4,373.3 280.9,373.2 281.4,373.0 281.9,372.9 282.5,372.8 283.0,372.7 283.5,372.4 284.0,372.1 284.5,371.8 285.0,371.4 285.5,370.9 286.1,370.5 286.6,369.9 287.1,369.4 287.6,368.9 288.1,368.2 288.6,367.7 289.2,367.2 289.7,366.8 290.2,366.5 290.7,366.2 291.2,366.0 291.7,366.0 292.2,366.1 292.8,366.1 293.3,366.3 293.8,366.7 294.3,367.1 294.8,367.5 295.3,367.9 295.9,368.2 296.4,368.5 296.9,368.8 297.4,369.1 297.9,369.3 298.4,369.4 298.9,369.4 299.5,369.4 300.0,369.4 300.5,369.4 301.0,369.3 301.5,369.3 302.0,369.3 302.6,369.3 303.1,369.2 303.6,369.1 304.1,369.0 304.6,368.8 305.1,368.5 305.6,368.1 306.2,367.8 306.7,367.2 307.2,366.8 307.7,366.3 308.2,365.7 308.7,365.1 309.3,364.3 309.8,363.5 310.3,362.8 310.8,362.1 311.3,361.4 311.8,360.9 312.4,360.4 312.9,359.8 313.4,359.2 313.9,358.7 314.4,358.3 314.9,357.9 315.4,357.4 316.0,357.1 316.5,356.8 317.0,356.5 317.5,356.3 318.0,356.2 318.5,356.1 319.1,356.0 319.6,356.0 320.1,356.1 320.6,356.4 321.1,356.7 321.6,357.2 322.1,357.7 322.7,358.3 323.2,358.8 323.7,359.5 324.2,360.2 324.7,360.9 325.2,361.5 325.8,362.2 326.3,362.9 326.8,363.9 327.3,364.9 327.8,365.8 328.3,366.9 328.8,368.0 329.4,369.1 329.9,370.3 330.4,371.5 330.9,372.6 331.4,373.8 331.9,374.9 332.5,376.1 333.0,377.2 333.5,378.4 334.0,379.7 334.5,381.1 335.0,382.5 335.5,383.9 336.1,385.3 336.6,386.6 337.1,387.5 337.6,388.4 338.1,389.2 338.6,390.0 339.2,390.9 339.7,391.7 340.2,392.5 340.7,393.4 341.2,394.2 341.7,394.8 342.2,395.3 342.8,395.6 343.3,396.0 343.8,396.3 344.3,396.6 344.8,396.9 345.3,397.2 345.9,397.5 346.4,397.9 346.9,398.3 347.4,398.8 347.9,399.3 348.4,399.8 348.9,400.3 349.5,400.8 350.0,401.2 350.5,401.6 351.0,402.0 351.5,402.4 352.0,403.0 352.6,403.8 353.1,404.6 353.6,405.5 354.1,406.2 354.6,406.6 355.1,407.0 355.6,407.4 356.2,407.8 356.7,408.3 357.2,408.8 357.7,409.2 358.2,409.6 358.7,409.9 359.3,410.2 359.8,410.4 360.3,410.5 360.8,410.6 361.3,410.6 361.8,410.6 362.4,410.6 362.9,410.5 363.4,410.4 363.9,410.2 364.4,410.0 364.9,409.7 365.4,409.4 366.0,408.9 366.5,408.5 367.0,407.9 367.5,407.2 368.0,406.6 368.5,405.9 369.1,405.3 369.6,404.8 370.1,404.5 370.6,404.2 371.1,404.0 371.6,404.0 372.1,403.9 372.7,403.9 373.2,404.0 373.7,404.2 374.2,404.5 374.7,404.8 375.2,405.0 375.8,405.1 376.3,405.1 376.8,405.0 377.3,404.9 377.8,404.8 378.3,404.7 378.8,404.6 379.4,404.5 379.9,404.3 380.4,404.2 380.9,404.1 381.4,404.0 381.9,403.9 382.5,403.8 383.0,403.7 383.5,403.6 384.0,403.4 384.5,403.1 385.0,402.9 385.5,402.6 386.1,402.2 386.6,401.8 387.1,401.4 387.6,401.0 388.1,400.6 388.6,400.1 389.2,399.7 389.7,399.2 390.2,398.7 390.7,398.5 391.2,398.4 391.7,398.4 392.2,398.6 392.8,398.8 393.3,399.1 393.8,399.3 394.3,399.6 394.8,399.9 395.3,400.2 395.9,400.6 396.4,401.0 396.9,401.4 397.4,401.9 397.9,402.3 398.4,402.9 398.9,403.4 399.5,403.9 400.0,404.4 400.5,405.0 401.0,405.6 401.5,406.3 402.0,407.1 402.6,407.9 403.1,408.6 403.6,409.4 404.1,410.2 404.6,411.0 405.1,411.8 405.6,412.6 406.2,413.3 406.7,414.0 407.2,414.7 407.7,415.4 408.2,416.0 408.7,416.7 409.3,417.4 409.8,418.1 410.3,418.8 410.8,419.5 411.3,420.0 411.8,420.5 412.4,420.8 412.9,421.1 413.4,421.3 413.9,421.4 414.4,421.4 414.9,421.5 415.4,421.5 416.0,421.4 416.5,421.3 417.0,421.2 417.5,421.0 418.0,420.7 418.5,420.4 419.1,420.1 419.6,419.7 420.1,419.2 420.6,418.9 421.1,418.6 421.6,418.4 422.1,418.1 422.7,417.8 423.2,417.5 423.7,417.3 424.2,417.0 424.7,416.6 425.2,416.1 425.8,415.6 426.3,415.0 426.8,414.5 427.3,414.0 427.8,413.5 428.3,413.1 428.8,412.9 429.4,412.7 429.9,412.5 430.4,412.3 430.9,412.2 431.4,412.2 431.9,412.0 432.5,411.8 433.0,411.6 433.5,411.4 434.0,411.2 434.5,411.1 435.0,411.0 435.5,410.9 436.1,410.8 436.6,410.8 437.1,410.7 437.6,410.5 438.1,410.4 438.6,410.3 439.2,410.3 439.7,410.2 440.2,410.2 440.7,410.2 441.2,410.3 441.7,410.4 442.2,410.5 442.8,410.7 443.3,410.9 443.8,411.1 444.3,411.2 444.8,411.3 445.3,411.5 445.9,411.7 446.4,411.9 446.9,412.1 447.4,412.3 447.9,412.7 448.4,412.9 448.9,413.2 449.5,413.5 450.0,413.8 450.5,414.1 451.0,414.4 451.5,414.7 452.0,415.0 452.6,415.3 453.1,415.7 453.6,416.1 454.1,416.5 454.6,416.8 455.1,417.2 455.6,417.6 456.2,417.9 456.7,418.3 457.2,418.6 457.7,419.0 458.2,419.3 458.7,419.5 459.3,419.9 459.8,420.2 460.3,420.6 460.8,420.9 461.3,421.2 461.8,421.6 462.4,422.0 462.9,422.4 463.4,422.9 463.9,423.4 464.4,423.8 464.9,424.0 465.4,424.3 466.0,424.4 466.5,424.5 467.0,424.6 467.5,424.5 468.0,424.4 468.5,424.2 469.1,424.0 469.6,423.8 470.1,423.6 470.6,423.2 471.1,422.8 471.6,422.4 472.1,422.0 472.7,421.5 473.2,421.0 473.7,420.3 474.2,419.7 474.7,419.0 475.2,418.3 475.8,417.5 476.3,416.7 476.8,415.8 477.3,414.8 477.8,413.6 478.3,412.5 478.8,411.3 479.4,410.1 479.9,409.1 480.4,408.2 480.9,407.3 481.4,406.5 481.9,405.8 482.5,405.0 483.0,404.2 483.5,403.5 484.0,402.8 484.5,402.0 485.0,401.3 485.5,400.6 486.1,399.9 486.6,399.4 487.1,398.8 487.6,398.2 488.1,397.8 488.6,397.4 489.2,397.3 489.7,397.1 490.2,397.1 490.7,397.0 491.2,397.1 491.7,397.2 492.2,397.4 492.8,397.8 493.3,398.2 493.8,398.7 494.3,399.3 494.8,399.7 495.3,400.1 495.9,400.4 496.4,400.8 496.9,401.2 497.4,401.5 497.9,401.9 498.4,402.5 498.9,403.0 499.5,403.8 500.0,404.5 500.5,405.4 501.0,406.3 501.5,407.1 502.0,408.0 502.6,409.0 503.1,410.0 503.6,410.8 504.1,411.6 504.6,412.3 505.1,413.0 505.6,413.6 506.2,414.2 506.7,414.8 507.2,415.5 507.7,416.1 508.2,416.6 508.7,417.1 509.3,417.5 509.8,418.0 510.3,418.5 510.8,419.1 511.3,419.6 511.8,420.2 512.4,420.8 512.9,421.3 513.4,421.9 513.9,422.4 514.4,423.0 514.9,423.4 515.4,423.9 516.0,424.3 516.5,424.5 517.0,424.6 517.5,424.5 518.0,424.4 518.5,424.4 519.1,424.5 519.6,424.5 520.1,424.7 520.6,424.9 521.1,425.1 521.6,425.3 522.1,425.6 522.7,425.8 523.2,426.0 523.7,426.2 524.2,426.4 524.7,426.5 525.2,426.6 525.8,426.7 526.3,426.7 526.8,426.8 527.3,426.8 527.8,426.8 528.3,426.8 528.8,426.7 529.4,426.7 529.9,426.6 530.4,426.5 530.9,426.4 531.4,426.4 531.9,426.6 532.5,426.9 533.0,427.2 533.5,427.7 534.0,428.1 534.5,428.6 535.0,429.0 535.5,429.4 536.1,429.8 536.6,430.2 537.1,430.6 537.6,431.0 538.1,431.4 538.6,431.7 539.2,432.0 539.7,432.4 540.2,432.6 540.7,432.9 541.2,433.3 541.7,433.6 542.2,433.8 542.8,433.9 543.3,434.2 543.8,434.4 544.3,434.7 544.8,434.9 545.3,435.1 545.9,435.4 546.4,435.6 546.9,435.8 547.4,435.9 547.9,436.1 548.4,436.3 548.9,436.4 549.5,436.5 550.0,436.7 550.5,436.8 551.0,436.9 551.5,436.9 552.0,436.8 552.6,436.8 553.1,436.8 553.6,436.9 554.1,437.0 554.6,437.1 555.1,437.3 555.6,437.6 556.2,438.0 556.7,438.4 557.2,438.8 557.7,439.4 558.2,440.0 558.7,440.6 559.3,441.3 559.8,441.9 560.3,442.5 560.8,443.1 561.3,443.6 561.8,444.2 562.4,444.7 562.9,445.2 563.4,445.6 563.9,446.1 564.4,446.5 564.9,446.9 565.4,447.3 566.0,447.7 566.5,448.2 567.0,448.8 567.5,449.4 568.0,449.9 568.5,450.4 569.1,450.9 569.6,451.2 570.1,451.4 570.6,451.6 571.1,451.7 571.6,451.7 572.1,451.6 572.7,451.4 573.2,451.1 573.7,450.8 574.2,450.5 574.7,450.2 575.2,449.8 575.8,449.5 576.3,449.3 576.8,449.0 577.3,448.7 577.8,448.4 578.3,448.0 578.8,447.6 579.4,447.2 579.9,446.8 580.4,446.5 580.9,446.2 581.4,445.8 581.9,445.4 582.5,445.1 583.0,444.7 583.5,444.3 584.0,444.0 584.5,443.7 585.0,443.5 585.5,443.4 586.1,443.3 586.6,443.2 587.1,443.2 587.6,443.3 588.1,443.4 588.6,443.6 589.2,443.7 589.7,443.9 590.2,444.0 590.7,444.1 591.2,444.2 591.7,444.3 592.2,444.5 592.8,444.7 593.3,444.8 593.8,445.1 594.3,445.2 594.8,445.4 595.3,445.6 595.9,445.7 596.4,445.8 596.9,445.9 597.4,445.8 597.9,445.6 598.4,445.4 598.9,445.2 599.5,445.0 600.0,444.7 600.5,444.4 601.0,444.0 601.5,443.6 602.0,443.1 602.6,442.6 603.1,442.0 603.6,441.4 604.1,440.9 604.6,440.4 605.1,439.8 605.6,439.2 606.2,438.7 606.7,438.2 607.2,437.6 607.7,437.1 608.2,436.6 608.7,436.1 609.3,435.6 609.8,435.1 610.3,434.6 610.8,434.1 611.3,433.6 611.8,433.1 612.4,432.6 612.9,432.2 613.4,431.8 613.9,431.4 614.4,430.9 614.9,430.4 615.4,429.9 616.0,429.3 616.5,428.6 617.0,428.0 617.5,427.2 618.0,426.3 618.5,425.4 619.1,424.4 619.6,423.3 620.1,422.3 620.6,421.4 621.1,420.5 621.6,419.6 622.1,418.5 622.7,417.5 623.2,416.5 623.7,415.7 624.2,414.9 624.7,414.1 625.2,413.2 625.8,412.4 626.3,411.4 626.8,410.3 627.3,409.3 627.8,408.2 628.3,407.2 628.8,406.2 629.4,405.3 629.9,404.4 630.4,403.5 630.9,402.7 631.4,402.0 631.9,401.4 632.5,400.9 633.0,400.6 633.5,400.5 634.0,400.5 634.5,400.5 635.0,400.5 635.5,400.6 636.1,400.6 636.6,400.5 637.1,400.4 637.6,400.4 638.1,400.3 638.6,400.1 639.2,399.7 639.7,399.3 640.2,398.9 640.7,398.6 641.2,398.3 641.7,398.0 642.2,397.8 642.8,397.6 643.3,397.4 643.8,397.1 644.3,396.7 644.8,396.4 645.3,396.1 645.9,395.8 646.4,395.4 646.9,395.0 647.4,394.6 647.9,394.0 648.4,393.5 648.9,392.9 649.5,392.1 650.0,391.3 650.5,390.5 651.0,389.6 651.5,388.5 652.0,387.4 652.6,386.2 653.1,385.0 653.6,383.8 654.1,382.4 654.6,380.9 655.1,379.3 655.6,377.8 656.2,376.1 656.7,374.4 657.2,372.5 657.7,370.6 658.2,368.4 658.7,366.0 659.3,363.6 659.8,361.1 660.3,358.4 660.8,355.6 661.3,352.8 661.8,349.9 662.4,346.7 662.9,343.5 663.4,340.5 663.9,337.6 664.4,334.9 664.9,332.4 665.4,329.9 666.0,327.4 666.5,324.6 667.0,322.2 667.5,319.7 668.0,317.3 668.5,315.0 669.1,313.0 669.6,311.1 670.1,309.1 670.6,307.3 671.1,305.4 671.6,303.4 672.1,301.3 672.7,299.3 673.2,297.1 673.7,295.0 674.2,293.1 674.7,291.1 675.2,289.3 675.8,287.5 676.3,285.5 676.8,283.1 677.3,280.8 677.8,278.6 678.3,276.4 678.8,273.6 679.4,270.7 679.9,267.5 680.4,264.2 680.9,260.7 681.4,257.5 681.9,254.4 682.5,250.9 683.0,247.4 683.5,243.9 684.0,240.4 684.5,237.1 685.0,233.9 685.5,230.9 686.1,228.0 686.6,225.0 687.1,222.0 687.6,219.3 688.1,217.0 688.6,214.8 689.2,213.1 689.7,211.6 690.2,210.2 690.7,208.8 691.2,207.7 691.7,206.7 692.2,205.8 692.8,204.7 693.3,203.6 693.8,202.3 694.3,201.1 694.8,199.7 695.3,198.3 695.9,196.7 696.4,195.0 696.9,193.0 697.4,191.1 697.9,189.1 698.4,186.9 698.9,184.4 699.5,181.6 700.0,178.4 700.5,174.8 701.0,171.0 701.5,166.9 702.0,162.7 702.6,158.5 703.1,154.2 703.6,149.8 704.1,145.2 704.6,140.1 705.1,134.7 705.6,129.1 706.2,123.0 706.7,116.7 707.2,110.7 707.7,104.8 708.2,99.4 708.7,94.3 709.3,89.6 709.8,85.4 710.3,81.7 710.8,78.4 711.3,75.3 711.8,72.5 712.4,69.9 712.9,67.7 713.4,66.0 713.9,65.1 714.4,64.6 714.9,64.7 715.4,65.4 716.0,66.6 716.5,67.9 717.0,69.3 717.5,70.9 718.0,72.8 718.5,74.6 719.1,76.2 719.6,77.8 720.1,79.4 720.6,80.9 721.1,82.4 721.6,84.1 722.1,85.8 722.7,87.2 723.2,88.7 723.7,90.5 724.2,92.9 724.7,95.6 725.2,98.3 725.8,100.9 726.3,103.4 726.8,106.2 727.3,109.1 727.8,111.9 728.3,115.0 728.8,118.1 729.4,120.9 729.9,123.4 730.4,125.3 730.9,127.0 731.4,128.9 731.9,130.8 732.5,132.9 733.0,135.1 733.5,137.4 734.0,140.1 734.5,143.5 735.0,147.2 735.5,151.1 736.1,155.6 736.6,160.8 737.1,166.3 737.6,172.2 738.1,178.3 738.6,184.3 739.2,189.6 739.7,193.8 740.2,197.6 740.7,201.0 741.2,204.3 741.7,207.3 742.2,210.0 742.8,212.4 743.3,214.6 743.8,216.6 744.3,218.5 744.8,220.4 745.3,222.3 745.9,224.6 746.4,226.7 746.9,228.5 747.4,230.5 747.9,232.7 748.4,235.2 748.9,237.4 749.5,239.7 750.0,241.7 750.5,243.8 751.0,246.1 751.5,248.3 752.0,250.0 752.6,251.8 753.1,253.5 753.6,254.9 754.1,256.3 754.6,258.1 755.1,260.1 755.6,262.2 756.2,264.5 756.7,266.6 757.2,269.0 757.7,271.6 758.2,274.3 758.7,277.1 759.3,280.0 759.8,282.9 760.3,285.7 760.8,288.7 761.3,291.6 761.8,294.7 762.4,298.1 762.9,301.2 763.4,304.3 763.9,307.0 764.4,309.6 764.9,312.1 765.4,314.4 766.0,316.6 766.5,318.6 767.0,320.6 767.5,322.6 768.0,324.5 768.5,326.3 769.1,328.1 769.6,330.1 770.1,332.4 770.6,334.8 771.1,337.3 771.6,340.1 772.1,342.9 772.7,345.8 773.2,348.7 773.7,351.7 774.2,354.4 774.7,356.8 775.2,359.1 775.8,361.3 776.3,363.2 776.8,365.1 777.3,366.6 777.8,367.7 778.3,368.9 778.8,369.8 779.4,370.8 779.9,371.7 780.4,372.4 780.9,373.0 781.4,373.5 781.9,374.1 782.5,374.7 783.0,375.3 783.5,376.0 784.0,376.7 784.5,377.5 785.0,378.1 785.5,378.5 786.1,378.6 786.6,378.7 787.1,378.5 787.6,378.3 788.1,377.7 788.6,376.9 789.2,375.8 789.7,374.7 790.2,373.6 790.7,372.4 791.2,371.2 791.7,370.0 792.2,368.7 792.8,367.7 793.3,366.8 793.8,366.1 794.3,365.5 794.8,365.0 795.3,364.6 795.9,364.2 796.4,363.6 796.9,363.0 797.4,362.1 797.9,361.1 798.4,359.9 798.9,358.5 799.5,357.0 800.0,355.5 800.5,354.0 801.0,352.4 801.5,350.7 802.0,349.1 802.6,347.4 803.1,346.0 803.6,344.6 804.1,343.4 804.6,342.3 805.1,341.2 805.6,340.3 806.2,339.4 806.7,338.5 807.2,337.5 807.7,336.5 808.2,335.3 808.7,334.0 809.3,332.6 809.8,331.0 810.3,329.1 810.8,327.3 811.3,325.6 811.8,323.9 812.4,322.3 812.9,320.9 813.4,319.3 813.9,318.0 814.4,316.8 814.9,315.4 815.4,313.9 816.0,312.1 816.5,310.5 817.0,308.7 817.5,306.9 818.0,304.9 818.5,302.8 819.1,300.5 819.6,298.2 820.1,295.9 820.6,293.8 821.1,291.5 821.6,289.2 822.1,287.2 822.7,285.5 823.2,284.1 823.7,282.7 824.2,281.6 824.7,280.6 825.2,279.8 825.8,279.3 826.3,278.9 826.8,278.5 827.3,278.4 827.8,278.5 828.3,278.8 828.8,279.1 829.4,279.6 829.9,279.8 830.4,280.4 830.9,281.1 831.4,282.0 831.9,282.9 832.5,283.8 833.0,284.4 833.5,285.1 834.0,285.9 834.5,286.7 835.0,287.4 835.5,288.1 836.1,288.7 836.6,289.5 837.1,290.4 837.6,291.1 838.1,291.4 838.6,291.5 839.2,291.5 839.7,291.3 840.2,290.8 840.7,290.0 841.2,289.2 841.7,288.3 842.2,287.4 842.8,286.2 843.3,285.0 843.8,283.7 844.3,282.3 844.8,280.9 845.3,279.7 845.9,278.3 846.4,276.8 846.9,275.4 847.4,274.0 847.9,272.7 848.4,271.8 848.9,270.9 849.5,270.1 850.0,269.5 850.5,269.1 851.0,269.0 851.5,269.2 852.0,269.7 852.6,270.0 853.1,270.2 853.6,270.9 854.1,271.5 854.6,272.2 855.1,273.0 855.6,273.9 856.2,274.7 856.4,275.1" fill="none" stroke="#008400" stroke-width="1.25" stroke-linejoin="round" shape-rendering="crispEdges" />
<polyline points="3.1,488.3 3.6,487.9 4.1,487.4 4.6,487.0 5.1,486.6 5.6,486.1 6.2,485.6 6.7,485.1 7.2,484.6 7.7,484.1 8.2,483.5 8.7,483.0 9.3,482.5 9.8,481.9 10.3,481.4 10.8,480.9 11.3,480.4 11.8,479.9 12.4,479.4 12.9,479.0 13.4,478.5 13.9,478.1 14.4,477.7 14.9,477.2 15.4,476.9 16.0,476.5 16.5,476.2 17.0,475.9 17.5,475.5 18.0,475.3 18.5,475.0 19.1,474.9 19.6,474.6 20.1,474.3 20.6,474.0 21.1,473.7 21.6,473.5 22.1,473.2 22.7,472.9 23.2,472.6 23.7,472.2 24.2,471.8 24.7,471.3 25.2,470.8 25.8,470.4 26.3,469.9 26.8,469.5 27.3,469.2 27.8,468.8 28.3,468.4 28.8,468.1 29.4,467.8 29.9,467.6 30.4,467.3 30.9,467.1 31.4,466.7 31.9,466.4 32.5,465.9 33.0,465.3 33.5,464.8 34.0,464.2 34.5,463.6 35.0,463.1 35.5,462.6 36.1,462.2 36.6,461.9 37.1,461.6 37.6,461.3 38.1,461.0 38.6,460.8 39.2,460.6 39.7,460.3 40.2,460.1 40.7,459.9 41.2,459.6 41.7,459.4 42.2,459.1 42.8,458.9 43.3,458.7 43.8,458.6 44.3,458.4 44.8,458.2 45.3,457.9 45.9,457.6 46.4,457.3 46.9,457.0 47.4,456.8 47.9,456.5 48.4,456.2 48.9,456.0 49.5,455.7 50.0,455.3 50.5,454.9 51.0,454.5 51.5,454.1 52.0,453.6 52.6,453.0 53.1,452.4 53.6,451.8 54.1,451.1 54.6,450.5 55.1,449.9 55.6,449.4 56.2,448.9 56.7,448.4 57.2,448.0 57.7,447.5 58.2,446.9 58.7,446.2 59.3,445.4 59.8,444.6 60.3,444.0 60.8,443.2 61.3,442.5 61.8,441.8 62.4,441.1 62.9,440.4 63.4,439.6 63.9,438.9 64.4,438.2 64.9,437.5 65.4,436.8 66.0,436.2 66.5,435.6 67.0,435.0 67.5,434.5 68.0,434.0 68.5,433.6 69.1,433.3 69.6,433.1 70.1,432.9 70.6,432.8 71.1,432.7 71.6,432.6 72.1,432.5 72.7,432.5 73.2,432.5 73.7,432.5 74.2,432.5 74.7,432.6 75.2,432.7 75.8,432.9 76.3,433.2 76.8,433.5 77.3,433.8 77.8,434.1 78.3,434.5 78.8,434.8 79.4,435.2 79.9,435.6 80.4,436.1 80.9,436.6 81.4,437.1 81.9,437.7 82.5,438.3 83.0,438.8 83.5,439.2 84.0,439.7 84.5,440.1 85.0,440.4 85.5,440.8 86.1,441.1 86.6,441.5 87.1,441.7 87.6,442.0 88.1,442.3 88.6,442.5 89.2,442.7 89.7,442.9 90.2,443.0 90.7,443.1 91.2,443.2 91.7,443.4 92.2,443.4 92.8,443.4 93.3,443.4 93.8,443.4 94.3,443.5 94.8,443.5 95.3,443.5 95.9,443.6 96.4,443.7 96.9,443.7 97.4,443.7 97.9,443.8 98.4,443.8 98.9,443.7 99.5,443.6 100.0,443.5 100.5,443.4 101.0,443.2 101.5,443.1 102.0,443.0 102.6,442.8 103.1,442.7 103.6,442.5 104.1,442.3 104.6,442.1 105.1,441.9 105.6,441.8 106.2,441.6 106.7,441.4 107.2,441.2 107.7,441.0 108.2,440.8 108.7,440.7 109.3,440.5 109.8,440.4 110.3,440.3 110.8,440.2 111.3,440.0 111.8,439.9 112.4,439.8 112.9,439.7 113.4,439.6 113.9,439.5 114.4,439.4 114.9,439.1 115.4,438.9 116.0,438.7 116.5,438.4 117.0,438.1 117.5,437.8 118.0,437.4 118.5,437.1 119.1,436.6 119.6,436.3 120.1,435.9 120.6,435.5 121.1,435.2 121.6,434.8 122.1,434.5 122.7,434.1 123.2,433.8 123.7,433.5 124.2,433.1 124.7,432.8 125.2,432.5 125.8,432.2 126.3,432.0 126.8,431.7 127.3,431.5 127.8,431.3 128.3,431.0 128.8,430.7 129.4,430.4 129.9,430.1 130.4,429.8 130.9,429.5 131.4,429.3 131.9,429.1 132.5,428.8 133.0,428.6 133.5,428.3 134.0,428.1 134.5,427.9 135.0,427.7 135.5,427.5 136.1,427.3 136.6,427.1 137.1,427.0 137.6,426.9 138.1,427.0 138.6,427.2 139.2,427.4 139.7,427.7 140.2,428.0 140.7,428.3 141.2,428.7 141.7,429.1 142.2,429.4 142.8,429.7 143.3,430.0 143.8,430.3 144.3,430.6 144.8,430.8 145.3,431.1 145.9,431.4 146.4,431.7 146.9,432.0 147.4,432.4 147.9,432.7 148.4,433.0 148.9,433.4 149.5,433.6 150.0,433.9 150.5,434.2 151.0,434.5 151.5,434.8 152.0,435.1 152.6,435.4 153.1,435.7 153.6,436.0 154.1,436.2 154.6,436.5 155.1,436.7 155.6,436.8 156.2,437.0 156.7,437.2 157.2,437.4 157.7,437.5 158.2,437.7 158.7,437.8 159.3,438.0 159.8,438.2 160.3,438.3 160.8,438.5 161.3,438.6 161.8,438.6 162.4,438.6 162.9,438.6 163.4,438.6 163.9,438.6 164.4,438.5 164.9,438.5 165.4,438.5 166.0,438.5 166.5,438.7 167.0,438.8 167.5,438.9 168.0,439.0 168.5,439.2 169.1,439.4 169.6,439.6 170.1,439.8 170.6,440.0 171.1,440.2 171.6,440.4 172.1,440.7 172.7,440.8 173.2,441.0 173.7,441.2 174.2,441.4 174.7,441.6 175.2,441.7 175.8,441.9 176.3,442.0 176.8,442.2 177.3,442.4 177.8,442.5 178.3,442.6 178.8,442.8 179.4,443.0 179.9,443.2 180.4,443.4 180.9,443.6 181.4,443.8 181.9,443.9 182.5,444.1 183.0,444.3 183.5,444.5 184.0,444.8 184.5,445.0 185.0,445.1 185.5,445.2 186.1,445.2 186.6,445.1 187.1,445.0 187.6,444.8 188.1,444.6 188.6,444.3 189.2,444.0 189.7,443.5 190.2,442.9 190.7,442.3 191.2,441.6 191.7,440.8 192.2,440.0 192.8,439.1 193.3,438.2 193.8,437.2 194.3,436.2 194.8,435.2 195.3,434.3 195.9,433.3 196.4,432.5 196.9,431.6 197.4,430.7 197.9,429.8 198.4,429.0 198.9,428.1 199.5,427.2 200.0,426.4 200.5,425.6 201.0,424.8 201.5,424.0 202.0,423.2 202.6,422.3 203.1,421.4 203.6,420.4 204.1,419.5 204.6,418.5 205.1,417.6 205.6,416.7 206.2,415.7 206.7,414.6 207.2,413.5 207.7,412.4 208.2,411.3 208.7,410.3 209.3,409.5 209.8,408.8 210.3,408.1 210.8,407.5 211.3,406.9 211.8,406.5 212.4,406.1 212.9,405.8 213.4,405.6 213.9,405.6 214.4,405.5 214.9,405.6 215.4,405.7 216.0,405.9 216.5,406.1 217.0,406.5 217.5,406.8 218.0,407.1 218.5,407.4 219.1,407.6 219.6,407.9 220.1,408.1 220.6,408.4 221.1,408.8 221.6,409.2 222.1,409.5 222.7,409.9 223.2,410.2 223.7,410.5 224.2,410.8 224.7,411.1 225.2,411.4 225.8,411.8 226.3,412.2 226.8,412.6 227.3,413.0 227.8,413.3 228.3,413.5 228.8,413.8 229.4,414.1 229.9,414.3 230.4,414.4 230.9,414.4 231.4,414.3 231.9,414.3 232.5,414.2 233.0,414.0 233.5,413.8 234.0,413.6 234.5,413.3 235.0,412.9 235.5,412.6 236.1,412.3 236.6,411.9 237.1,411.5 237.6,411.0 238.1,410.6 238.6,410.1 239.2,409.6 239.7,409.0 240.2,408.4 240.7,407.8 241.2,407.1 241.7,406.5 242.2,405.9 242.8,405.2 243.3,404.5 243.8,403.8 244.3,403.1 244.8,402.3 245.3,401.6 245.9,401.0 246.4,400.3 246.9,399.8 247.4,399.1 247.9,398.4 248.4,397.6 248.9,396.7 249.5,395.9 250.0,395.1 250.5,394.2 251.0,393.3 251.5,392.5 252.0,391.8 252.6,391.0 253.1,390.3 253.6,389.7 254.1,389.2 254.6,388.8 255.1,388.3 255.6,387.8 256.2,387.3 256.7,386.8 257.2,386.3 257.7,385.9 258.2,385.4 258.7,384.9 259.3,384.3 259.8,383.7 260.3,383.2 260.8,382.7 261.3,382.1 261.8,381.7 262.4,381.2 262.9,380.7 263.4,380.2 263.9,379.7 264.4,379.2 264.9,378.7 265.4,378.3 266.0,377.8 266.5,377.3 267.0,376.9 267.5,376.6 268.0,376.3 268.5,375.9 269.1,375.6 269.6,375.3 270.1,375.0 270.6,374.6 271.1,374.4 271.6,374.3 272.1,374.2 272.7,374.2 273.2,374.1 273.7,374.0 274.2,373.9 274.7,373.9 275.2,373.8 275.8,373.7 276.3,373.6 276.8,373.5 277.3,373.5 277.8,373.3 278.3,373.1 278.8,372.8 279.4,372.6 279.9,372.4 280.4,372.1 280.9,371.9 281.4,371.7 281.9,371.5 282.5,371.3 283.0,371.3 283.5,371.2 284.0,371.1 284.5,371.0 285.0,370.9 285.5,370.7 286.1,370.6 286.6,370.5 287.1,370.5 287.6,370.4 288.1,370.3 288.6,370.1 289.2,370.0 289.7,369.9 290.2,369.9 290.7,369.9 291.2,369.8 291.7,369.8 292.2,369.8 292.8,369.7 293.3,369.7 293.8,369.7 294.3,369.8 294.8,369.8 295.3,369.7 295.9,369.5 296.4,369.4 296.9,369.4 297.4,369.3 297.9,369.1 298.4,369.0 298.9,368.8 299.5,368.6 300.0,368.4 300.5,368.2 301.0,368.0 301.5,367.9 302.0,367.8 302.6,367.7 303.1,367.6 303.6,367.5 304.1,367.4 304.6,367.2 305.1,367.0 305.6,366.8 306.2,366.6 306.7,366.4 307.2,366.2 307.7,366.0 308.2,365.9 308.7,365.8 309.3,365.6 309.8,365.5 310.3,365.3 310.8,365.1 311.3,365.0 311.8,364.9 312.4,364.8 312.9,364.6 313.4,364.3 313.9,364.0 314.4,363.6 314.9,363.2 315.4,362.7 316.0,362.2 316.5,361.7 317.0,361.1 317.5,360.6 318.0,360.1 318.5,359.7 319.1,359.4 319.6,359.0 320.1,358.8 320.6,358.5 321.1,358.4 321.6,358.4 322.1,358.6 322.7,358.8 323.2,359.0 323.7,359.3 324.2,359.7 324.7,360.0 325.2,360.3 325.8,360.6 326.3,361.0 326.8,361.5 327.3,362.1 327.8,362.8 328.3,363.5 328.8,364.2 329.4,364.9 329.9,365.6 330.4,366.3 330.9,366.9 331.4,367.6 331.9,368.3 332.5,369.0 333.0,369.8 333.5,370.6 334.0,371.5 334.5,372.4 335.0,373.5 335.5,374.5 336.1,375.5 336.6,376.7 337.1,377.6 337.6,378.6 338.1,379.6 338.6,380.7 339.2,381.8 339.7,382.9 340.2,384.0 340.7,385.0 341.2,385.9 341.7,386.8 342.2,387.7 342.8,388.6 343.3,389.4 343.8,390.1 344.3,390.8 344.8,391.4 345.3,392.0 345.9,392.5 346.4,393.0 346.9,393.5 347.4,394.0 347.9,394.6 348.4,395.3 348.9,396.0 349.5,396.7 350.0,397.3 350.5,397.9 351.0,398.6 351.5,399.3 352.0,400.0 352.6,400.7 353.1,401.5 353.6,402.3 354.1,403.0 354.6,403.7 355.1,404.3 355.6,404.9 356.2,405.4 356.7,405.8 357.2,406.2 357.7,406.5 358.2,406.6 358.7,406.7 359.3,406.7 359.8,406.7 360.3,406.7 360.8,406.8 361.3,406.8 361.8,406.8 362.4,406.7 362.9,406.6 363.4,406.5 363.9,406.5 364.4,406.5 364.9,406.6 365.4,406.7 366.0,406.8 366.5,406.9 367.0,407.0 367.5,407.1 368.0,407.2 368.5,407.3 369.1,407.5 369.6,407.7 370.1,407.8 370.6,407.9 371.1,408.0 371.6,408.2 372.1,408.2 372.7,408.3 373.2,408.4 373.7,408.4 374.2,408.4 374.7,408.3 375.2,408.0 375.8,407.6 376.3,407.1 376.8,406.5 377.3,405.9 377.8,405.5 378.3,405.0 378.8,404.6 379.4,404.3 379.9,403.9 380.4,403.6 380.9,403.3 381.4,403.0 381.9,402.9 382.5,402.7 383.0,402.6 383.5,402.5 384.0,402.5 384.5,402.5 385.0,402.5 385.5,402.5 386.1,402.4 386.6,402.3 387.1,402.3 387.6,402.2 388.1,402.2 388.6,402.2 389.2,402.2 389.7,402.2 390.2,402.2 390.7,402.2 391.2,402.1 391.7,402.1 392.2,402.0 392.8,401.9 393.3,401.9 393.8,401.8 394.3,401.7 394.8,401.6 395.3,401.5 395.9,401.4 396.4,401.3 396.9,401.2 397.4,401.1 397.9,401.1 398.4,401.2 398.9,401.4 399.5,401.7 400.0,402.1 400.5,402.5 401.0,403.0 401.5,403.4 402.0,404.0 402.6,404.5 403.1,405.1 403.6,405.7 404.1,406.3 404.6,406.9 405.1,407.5 405.6,408.0 406.2,408.6 406.7,409.1 407.2,409.6 407.7,410.2 408.2,410.7 408.7,411.3 409.3,411.9 409.8,412.6 410.3,413.2 410.8,413.8 411.3,414.3 411.8,414.8 412.4,415.3 412.9,415.7 413.4,416.1 413.9,416.5 414.4,416.8 414.9,417.1 415.4,417.3 416.0,417.6 416.5,417.8 417.0,418.0 417.5,418.2 418.0,418.4 418.5,418.5 419.1,418.7 419.6,418.7 420.1,418.8 420.6,418.8 421.1,418.8 421.6,418.9 422.1,418.9 422.7,418.9 423.2,418.9 423.7,418.9 424.2,418.9 424.7,418.8 425.2,418.6 425.8,418.3 426.3,418.0 426.8,417.7 427.3,417.3 427.8,417.0 428.3,416.6 428.8,416.3 429.4,416.1 429.9,415.8 430.4,415.5 430.9,415.2 431.4,415.0 431.9,414.6 432.5,414.3 433.0,413.8 433.5,413.4 434.0,413.0 434.5,412.7 435.0,412.4 435.5,412.1 436.1,412.0 436.6,411.8 437.1,411.7 437.6,411.6 438.1,411.6 438.6,411.5 439.2,411.5 439.7,411.5 440.2,411.5 440.7,411.4 441.2,411.4 441.7,411.4 442.2,411.4 442.8,411.4 443.3,411.4 443.8,411.4 444.3,411.4 444.8,411.4 445.3,411.4 445.9,411.4 446.4,411.5 446.9,411.5 447.4,411.5 447.9,411.6 448.4,411.7 448.9,411.9 449.5,412.0 450.0,412.2 450.5,412.5 451.0,412.7 451.5,413.0 452.0,413.3 452.6,413.5 453.1,413.8 453.6,414.1 454.1,414.4 454.6,414.6 455.1,415.0 455.6,415.3 456.2,415.7 456.7,416.0 457.2,416.3 457.7,416.6 458.2,416.9 458.7,417.2 459.3,417.4 459.8,417.7 460.3,418.0 460.8,418.3 461.3,418.7 461.8,419.0 462.4,419.3 462.9,419.7 463.4,420.1 463.9,420.5 464.4,420.8 464.9,421.1 465.4,421.4 466.0,421.6 466.5,421.8 467.0,422.0 467.5,422.1 468.0,422.2 468.5,422.3 469.1,422.3 469.6,422.3 470.1,422.3 470.6,422.2 471.1,422.1 471.6,422.0 472.1,421.9 472.7,421.7 473.2,421.4 473.7,421.1 474.2,420.7 474.7,420.3 475.2,419.9 475.8,419.5 476.3,419.0 476.8,418.4 477.3,417.8 477.8,417.2 478.3,416.6 478.8,415.9 479.4,415.3 479.9,414.7 480.4,414.2 480.9,413.6 481.4,413.1 481.9,412.6 482.5,412.0 483.0,411.4 483.5,410.8 484.0,410.1 484.5,409.5 485.0,408.8 485.5,408.0 486.1,407.2 486.6,406.4 487.1,405.6 487.6,404.8 488.1,404.1 488.6,403.5 489.2,403.0 489.7,402.5 490.2,402.0 490.7,401.6 491.2,401.2 491.7,400.9 492.2,400.6 492.8,400.4 493.3,400.3 493.8,400.2 494.3,400.2 494.8,400.1 495.3,400.1 495.9,400.1 496.4,400.2 496.9,400.3 497.4,400.5 497.9,400.6 498.4,400.9 498.9,401.2 499.5,401.6 500.0,402.0 500.5,402.5 501.0,403.1 501.5,403.7 502.0,404.3 502.6,404.9 503.1,405.4 503.6,405.9 504.1,406.4 504.6,406.9 505.1,407.3 505.6,407.8 506.2,408.3 506.7,408.8 507.2,409.4 507.7,410.0 508.2,410.7 508.7,411.3 509.3,411.9 509.8,412.6 510.3,413.3 510.8,414.0 511.3,414.7 511.8,415.3 512.4,416.0 512.9,416.6 513.4,417.2 513.9,417.8 514.4,418.4 514.9,419.0 515.4,419.7 516.0,420.2 516.5,420.6 517.0,420.9 517.5,421.1 518.0,421.4 518.5,421.6 519.1,421.9 519.6,422.2 520.1,422.5 520.6,422.8 521.1,423.2 521.6,423.5 522.1,423.8 522.7,424.1 523.2,424.3 523.7,424.5 524.2,424.7 524.7,424.9 525.2,425.0 525.8,425.0 526.3,425.2 526.8,425.3 527.3,425.5 527.8,425.7 528.3,425.8 528.8,426.0 529.4,426.1 529.9,426.3 530.4,426.4 530.9,426.6 531.4,426.7 531.9,426.9 532.5,427.1 533.0,427.3 533.5,427.5 534.0,427.7 534.5,427.9 535.0,428.1 535.5,428.3 536.1,428.5 536.6,428.7 537.1,429.0 537.6,429.2 538.1,429.4 538.6,429.5 539.2,429.7 539.7,429.9 540.2,430.2 540.7,430.6 541.2,430.9 541.7,431.3 542.2,431.5 542.8,431.8 543.3,432.0 543.8,432.2 544.3,432.4 544.8,432.5 545.3,432.7 545.9,432.8 546.4,433.0 546.9,433.1 547.4,433.3 547.9,433.5 548.4,433.7 548.9,434.0 549.5,434.2 550.0,434.5 550.5,434.8 551.0,435.0 551.5,435.3 552.0,435.5 552.6,435.7 553.1,436.0 553.6,436.3 554.1,436.5 554.6,436.8 555.1,437.1 555.6,437.4 556.2,437.7 556.7,438.1 557.2,438.4 557.7,438.8 558.2,439.1 558.7,439.5 559.3,439.8 559.8,440.2 560.3,440.5 560.8,440.7 561.3,441.0 561.8,441.3 562.4,441.5 562.9,441.8 563.4,442.1 563.9,442.5 564.4,442.8 564.9,443.1 565.4,443.5 566.0,443.9 566.5,444.4 567.0,444.8 567.5,445.3 568.0,445.7 568.5,446.2 569.1,446.6 569.6,446.9 570.1,447.3 570.6,447.6 571.1,447.8 571.6,448.0 572.1,448.2 572.7,448.3 573.2,448.4 573.7,448.4 574.2,448.5 574.7,448.7 575.2,448.8 575.8,449.0 576.3,449.1 576.8,449.1 577.3,449.1 577.8,449.0 578.3,448.9 578.8,448.8 579.4,448.6 579.9,448.4 580.4,448.2 580.9,448.0 581.4,447.8 581.9,447.6 582.5,447.3 583.0,447.1 583.5,446.9 584.0,446.8 584.5,446.6 585.0,446.5 585.5,446.4 586.1,446.3 586.6,446.2 587.1,446.1 587.6,446.0 588.1,446.0 588.6,445.9 589.2,445.8 589.7,445.7 590.2,445.5 590.7,445.3 591.2,445.1 591.7,445.0 592.2,444.8 592.8,444.7 593.3,444.7 593.8,444.6 594.3,444.5 594.8,444.5 595.3,444.5 595.9,444.5 596.4,444.5 596.9,444.5 597.4,444.4 597.9,444.3 598.4,444.2 598.9,444.0 599.5,443.9 600.0,443.8 600.5,443.7 601.0,443.7 601.5,443.6 602.0,443.5 602.6,443.4 603.1,443.3 603.6,443.1 604.1,443.0 604.6,442.8 605.1,442.7 605.6,442.4 606.2,442.2 606.7,442.0 607.2,441.8 607.7,441.6 608.2,441.3 608.7,441.1 609.3,440.8 609.8,440.5 610.3,440.2 610.8,439.9 611.3,439.6 611.8,439.3 612.4,438.9 612.9,438.5 613.4,438.2 613.9,437.8 614.4,437.3 614.9,436.9 615.4,436.4 616.0,435.8 616.5,435.2 617.0,434.6 617.5,433.9 618.0,433.0 618.5,432.2 619.1,431.3 619.6,430.4 620.1,429.5 620.6,428.8 621.1,428.1 621.6,427.4 622.1,426.7 622.7,425.9 623.2,425.2 623.7,424.7 624.2,424.1 624.7,423.6 625.2,423.1 625.8,422.6 626.3,422.0 626.8,421.3 627.3,420.7 627.8,420.0 628.3,419.3 628.8,418.6 629.4,418.0 629.9,417.3 630.4,416.6 630.9,415.9 631.4,415.2 631.9,414.6 632.5,413.9 633.0,413.3 633.5,412.8 634.0,412.2 634.5,411.7 635.0,411.2 635.5,410.7 636.1,410.2 636.6,409.7 637.1,409.3 637.6,408.8 638.1,408.3 638.6,407.9 639.2,407.5 639.7,407.1 640.2,406.7 640.7,406.4 641.2,406.2 641.7,406.0 642.2,405.8 642.8,405.6 643.3,405.4 643.8,405.1 644.3,404.7 644.8,404.3 645.3,404.0 645.9,403.7 646.4,403.4 646.9,402.9 647.4,402.4 647.9,401.9 648.4,401.4 648.9,400.9 649.5,400.5 650.0,400.0 650.5,399.6 651.0,399.1 651.5,398.5 652.0,397.9 652.6,397.2 653.1,396.5 653.6,395.7 654.1,394.7 654.6,393.7 655.1,392.6 655.6,391.5 656.2,390.2 656.7,388.9 657.2,387.4 657.7,386.0 658.2,384.3 658.7,382.4 659.3,380.5 659.8,378.5 660.3,376.4 660.8,374.2 661.3,372.1 661.8,369.9 662.4,367.6 662.9,365.2 663.4,362.9 663.9,360.8 664.4,358.7 664.9,356.7 665.4,354.8 666.0,352.8 666.5,350.5 667.0,348.5 667.5,346.5 668.0,344.4 668.5,342.4 669.1,340.5 669.6,338.5 670.1,336.5 670.6,334.5 671.1,332.4 671.6,330.2 672.1,327.9 672.7,325.5 673.2,323.1 673.7,320.7 674.2,318.1 674.7,315.6 675.2,313.1 675.8,310.5 676.3,307.8 676.8,305.0 677.3,302.2 677.8,299.4 678.3,296.5 678.8,293.5 679.4,290.5 679.9,287.5 680.4,284.6 680.9,281.6 681.4,278.8 681.9,276.1 682.5,273.4 683.0,270.7 683.5,268.1 684.0,265.7 684.5,263.3 685.0,261.2 685.5,259.3 686.1,257.5 686.6,255.4 687.1,253.1 687.6,250.8 688.1,248.6 688.6,246.4 689.2,244.4 689.7,242.8 690.2,241.0 690.7,239.2 691.2,237.4 691.7,235.6 692.2,233.5 692.8,231.3 693.3,229.0 693.8,226.5 694.3,224.0 694.8,221.4 695.3,218.8 695.9,216.2 696.4,213.5 696.9,210.8 697.4,208.1 697.9,205.4 698.4,202.4 698.9,199.4 699.5,196.4 700.0,193.6 700.5,190.5 701.0,187.6 701.5,184.5 702.0,181.4 702.6,178.3 703.1,175.3 703.6,172.3 704.1,169.4 704.6,166.2 705.1,163.0 705.6,159.7 706.2,156.2 706.7,152.7 707.2,149.1 707.7,145.3 708.2,141.6 708.7,137.9 709.3,134.3 709.8,130.9 710.3,127.9 710.8,124.9 711.3,121.7 711.8,118.6 712.4,115.4 712.9,112.2 713.4,109.3 713.9,106.6 714.4,104.0 714.9,101.8 715.4,100.0 716.0,98.4 716.5,97.1 717.0,95.8 717.5,94.6 718.0,93.7 718.5,92.8 719.1,92.0 719.6,91.2 720.1,90.4 720.6,89.5 721.1,88.6 721.6,87.7 722.1,86.9 722.7,86.1 723.2,85.5 723.7,85.4 724.2,85.9 724.7,86.7 725.2,87.9 725.8,89.4 726.3,90.8 726.8,92.5 727.3,94.3 727.8,96.4 728.3,98.9 728.8,101.7 729.4,104.9 729.9,108.2 730.4,111.2 730.9,114.4 731.4,117.7 731.9,121.0 732.5,124.2 733.0,127.2 733.5,130.4 734.0,133.4 734.5,136.9 735.0,140.5 735.5,144.0 736.1,147.5 736.6,151.1 737.1,154.6 737.6,158.0 738.1,161.1 738.6,164.1 739.2,166.7 739.7,169.1 740.2,171.5 740.7,173.9 741.2,176.2 741.7,178.5 742.2,180.9 742.8,183.3 743.3,185.8 743.8,188.6 744.3,191.6 744.8,195.0 745.3,198.4 745.9,202.1 746.4,205.6 746.9,208.9 747.4,211.9 747.9,214.8 748.4,217.7 748.9,220.6 749.5,223.5 750.0,226.5 750.5,229.6 751.0,232.7 751.5,235.6 752.0,238.3 752.6,241.1 753.1,243.9 753.6,246.8 754.1,249.5 754.6,252.0 755.1,254.6 755.6,257.0 756.2,259.4 756.7,261.6 757.2,263.7 757.7,265.6 758.2,267.3 758.7,269.1 759.3,270.8 759.8,272.3 760.3,273.8 760.8,275.3 761.3,276.8 761.8,278.5 762.4,280.5 762.9,282.7 763.4,285.1 763.9,287.6 764.4,290.1 764.9,292.7 765.4,295.4 766.0,298.3 766.5,301.3 767.0,304.2 767.5,307.0 768.0,309.8 768.5,312.5 769.1,315.0 769.6,317.7 770.1,320.5 770.6,323.3 771.1,326.0 771.6,328.6 772.1,331.2 772.7,333.7 773.2,336.2 773.7,338.4 774.2,340.5 774.7,342.4 775.2,344.3 775.8,346.1 776.3,347.7 776.8,349.5 777.3,351.2 777.8,352.9 778.3,354.4 778.8,356.1 779.4,357.7 779.9,359.3 780.4,360.8 780.9,362.2 781.4,363.7 781.9,365.2 782.5,366.5 783.0,367.9 783.5,369.2 784.0,370.5 784.5,371.6 785.0,372.7 785.5,373.5 786.1,374.3 786.6,374.9 787.1,375.6 787.6,376.1 788.1,376.5 788.6,376.8 789.2,376.7 789.7,376.6 790.2,376.3 790.7,376.0 791.2,375.6 791.7,375.2 792.2,374.9 792.8,374.6 793.3,374.1 793.8,373.6 794.3,373.1 794.8,372.7 795.3,372.1 795.9,371.3 796.4,370.5 796.9,369.5 797.4,368.5 797.9,367.6 798.4,366.7 798.9,365.7 799.5,364.7 800.0,363.6 800.5,362.7 801.0,361.7 801.5,360.7 802.0,359.7 802.6,358.6 803.1,357.7 803.6,356.8 804.1,356.0 804.6,355.1 805.1,354.0 805.6,352.9 806.2,351.8 806.7,350.5 807.2,349.1 807.7,347.7 808.2,346.2 808.7,344.8 809.3,343.3 809.8,341.8 810.3,340.2 810.8,338.7 811.3,337.2 811.8,335.8 812.4,334.6 812.9,333.5 813.4,332.3 813.9,331.3 814.4,330.2 814.9,329.0 815.4,327.7 816.0,326.1 816.5,324.5 817.0,322.7 817.5,320.8 818.0,318.6 818.5,316.5 819.1,314.2 819.6,312.1 820.1,309.9 820.6,307.9 821.1,305.8 821.6,303.7 822.1,301.9 822.7,300.3 823.2,298.7 823.7,297.3 824.2,295.9 824.7,294.7 825.2,293.7 825.8,292.7 826.3,291.7 826.8,290.8 827.3,289.9 827.8,289.3 828.3,288.8 828.8,288.4 829.4,288.0 829.9,287.5 830.4,287.3 830.9,287.1 831.4,286.9 831.9,286.8 832.5,286.5 833.0,286.2 833.5,285.9 834.0,285.5 834.5,285.1 835.0,284.6 835.5,284.1 836.1,283.6 836.6,283.1 837.1,282.7 837.6,282.2 838.1,281.8 838.6,281.5 839.2,281.3 839.7,281.0 840.2,280.7 840.7,280.5 841.2,280.4 841.7,280.4 842.2,280.5 842.8,280.5 843.3,280.7 843.8,280.9 844.3,281.2 844.8,281.6 845.3,281.8 845.9,281.9 846.4,281.8 846.9,281.8 847.4,281.6 847.9,281.3 848.4,280.9 848.9,280.4 849.5,279.9 850.0,279.4 850.5,278.9 851.0,278.3 851.5,277.8 852.0,277.4 852.6,276.9 853.1,276.5 853.6,276.1 854.1,275.6 854.6,275.2 855.1,274.8 855.6,274.5 856.2,274.3 856.4,274.2" fill="none" stroke="#00d8d8" stroke-width="1.25" stroke-linejoin="round" shape-rendering="crispEdges" />
<polyline points="3.1,490.9 3.6,490.5 4.1,490.1 4.6,489.7 5.1,489.3 5.6,488.9 6.2,488.5 6.7,488.0 7.2,487.6 7.7,487.1 8.2,486.7 8.7,486.2 9.3,485.7 9.8,485.3 10.3,484.8 10.8,484.4 11.3,483.9 11.8,483.5 12.4,483.1 12.9,482.7 13.4,482.3 13.9,481.9 14.4,481.5 14.9,481.1 15.4,480.7 16.0,480.2 16.5,479.9 17.0,479.5 17.5,479.1 18.0,478.8 18.5,478.5 19.1,478.3 19.6,477.9 20.1,477.6 20.6,477.2 21.1,476.9 21.6,476.5 22.1,476.2 22.7,475.8 23.2,475.4 23.7,475.1 24.2,474.6 24.7,474.2 25.2,473.7 25.8,473.2 26.3,472.7 26.8,472.3 27.3,471.9 27.8,471.5 28.3,471.0 28.8,470.7 29.4,470.3 29.9,470.0 30.4,469.6 30.9,469.3 31.4,468.9 31.9,468.5 32.5,467.9 33.0,467.4 33.5,466.9 34.0,466.3 34.5,465.7 35.0,465.3 35.5,464.8 36.1,464.4 36.6,464.1 37.1,463.9 37.6,463.6 38.1,463.4 38.6,463.2 39.2,463.0 39.7,462.9 40.2,462.7 40.7,462.6 41.2,462.5 41.7,462.4 42.2,462.3 42.8,462.2 43.3,462.1 43.8,462.0 44.3,461.8 44.8,461.6 45.3,461.4 45.9,461.1 46.4,460.8 46.9,460.5 47.4,460.1 47.9,459.6 48.4,459.2 48.9,458.7 49.5,458.2 50.0,457.6 50.5,457.1 51.0,456.6 51.5,456.1 52.0,455.5 52.6,455.0 53.1,454.4 53.6,453.8 54.1,453.2 54.6,452.6 55.1,452.1 55.6,451.5 56.2,451.0 56.7,450.4 57.2,449.8 57.7,449.2 58.2,448.5 58.7,447.9 59.3,447.2 59.8,446.5 60.3,445.9 60.8,445.3 61.3,444.8 61.8,444.2 62.4,443.8 62.9,443.4 63.4,443.0 63.9,442.8 64.4,442.5 64.9,442.4 65.4,442.2 66.0,442.0 66.5,441.8 67.0,441.6 67.5,441.3 68.0,441.0 68.5,440.7 69.1,440.3 69.6,440.1 70.1,439.7 70.6,439.4 71.1,439.1 71.6,438.7 72.1,438.4 72.7,438.0 73.2,437.6 73.7,437.3 74.2,436.9 74.7,436.6 75.2,436.3 75.8,436.0 76.3,435.8 76.8,435.7 77.3,435.5 77.8,435.4 78.3,435.4 78.8,435.3 79.4,435.2 79.9,435.1 80.4,435.1 80.9,435.2 81.4,435.2 81.9,435.3 82.5,435.3 83.0,435.5 83.5,435.6 84.0,435.8 84.5,436.0 85.0,436.3 85.5,436.5 86.1,436.8 86.6,437.1 87.1,437.4 87.6,437.7 88.1,438.1 88.6,438.5 89.2,438.9 89.7,439.3 90.2,439.8 90.7,440.1 91.2,440.4 91.7,440.7 92.2,441.0 92.8,441.2 93.3,441.5 93.8,441.7 94.3,442.0 94.8,442.2 95.3,442.4 95.9,442.6 96.4,442.8 96.9,442.9 97.4,443.0 97.9,443.1 98.4,443.2 98.9,443.3 99.5,443.3 100.0,443.3 100.5,443.2 101.0,443.2 101.5,443.1 102.0,443.0 102.6,442.9 103.1,442.8 103.6,442.6 104.1,442.5 104.6,442.4 105.1,442.3 105.6,442.2 106.2,442.1 106.7,442.0 107.2,441.8 107.7,441.7 108.2,441.6 108.7,441.4 109.3,441.3 109.8,441.3 110.3,441.2 110.8,441.1 111.3,441.1 111.8,441.0 112.4,440.9 112.9,440.8 113.4,440.8 113.9,440.7 114.4,440.5 114.9,440.3 115.4,440.1 116.0,439.9 116.5,439.7 117.0,439.4 117.5,439.2 118.0,438.9 118.5,438.7 119.1,438.4 119.6,438.1 120.1,437.8 120.6,437.6 121.1,437.3 121.6,437.0 122.1,436.7 122.7,436.4 123.2,436.1 123.7,435.8 124.2,435.5 124.7,435.1 125.2,434.8 125.8,434.4 126.3,434.1 126.8,433.7 127.3,433.4 127.8,433.1 128.3,432.8 128.8,432.4 129.4,432.1 129.9,431.8 130.4,431.5 130.9,431.3 131.4,431.0 131.9,430.8 132.5,430.6 133.0,430.5 133.5,430.4 134.0,430.2 134.5,430.1 135.0,430.0 135.5,430.0 136.1,429.9 136.6,429.8 137.1,429.7 137.6,429.7 138.1,429.7 138.6,429.7 139.2,429.8 139.7,429.9 140.2,430.0 140.7,430.1 141.2,430.2 141.7,430.3 142.2,430.4 142.8,430.5 143.3,430.5 143.8,430.5 144.3,430.5 144.8,430.5 145.3,430.5 145.9,430.6 146.4,430.7 146.9,430.8 147.4,430.9 147.9,431.1 148.4,431.2 148.9,431.4 149.5,431.5 150.0,431.7 150.5,431.8 151.0,432.0 151.5,432.2 152.0,432.3 152.6,432.5 153.1,432.7 153.6,432.9 154.1,433.1 154.6,433.3 155.1,433.5 155.6,433.6 156.2,433.9 156.7,434.1 157.2,434.3 157.7,434.5 158.2,434.7 158.7,434.9 159.3,435.1 159.8,435.4 160.3,435.7 160.8,435.9 161.3,436.2 161.8,436.5 162.4,436.8 162.9,437.1 163.4,437.3 163.9,437.6 164.4,437.9 164.9,438.1 165.4,438.3 166.0,438.6 166.5,438.8 167.0,439.1 167.5,439.3 168.0,439.5 168.5,439.7 169.1,439.9 169.6,440.0 170.1,440.1 170.6,440.2 171.1,440.3 171.6,440.3 172.1,440.4 172.7,440.4 173.2,440.4 173.7,440.5 174.2,440.5 174.7,440.6 175.2,440.7 175.8,440.8 176.3,440.9 176.8,441.0 177.3,441.1 177.8,441.1 178.3,441.2 178.8,441.2 179.4,441.3 179.9,441.4 180.4,441.6 180.9,441.7 181.4,441.9 181.9,442.0 182.5,442.1 183.0,442.3 183.5,442.5 184.0,442.7 184.5,443.0 185.0,443.2 185.5,443.3 186.1,443.4 186.6,443.5 187.1,443.6 187.6,443.6 188.1,443.5 188.6,443.5 189.2,443.3 189.7,443.1 190.2,442.8 190.7,442.4 191.2,442.0 191.7,441.5 192.2,441.0 192.8,440.4 193.3,439.8 193.8,439.1 194.3,438.4 194.8,437.8 195.3,437.2 195.9,436.5 196.4,435.9 196.9,435.3 197.4,434.6 197.9,433.9 198.4,433.3 198.9,432.6 199.5,431.9 200.0,431.2 200.5,430.6 201.0,429.9 201.5,429.2 202.0,428.5 202.6,427.7 203.1,427.0 203.6,426.3 204.1,425.6 204.6,424.8 205.1,424.2 205.6,423.5 206.2,422.8 206.7,422.1 207.2,421.3 207.7,420.6 208.2,419.9 208.7,419.2 209.3,418.6 209.8,418.0 210.3,417.4 210.8,416.8 211.3,416.2 211.8,415.6 212.4,415.0 212.9,414.5 213.4,413.9 213.9,413.4 214.4,412.7 214.9,412.1 215.4,411.5 216.0,411.0 216.5,410.5 217.0,410.1 217.5,409.7 218.0,409.4 218.5,409.1 219.1,408.8 219.6,408.6 220.1,408.4 220.6,408.3 221.1,408.3 221.6,408.4 222.1,408.5 222.7,408.7 223.2,408.9 223.7,409.1 224.2,409.3 224.7,409.6 225.2,409.9 225.8,410.2 226.3,410.5 226.8,410.7 227.3,410.9 227.8,411.1 228.3,411.3 228.8,411.5 229.4,411.7 229.9,411.7 230.4,411.7 230.9,411.6 231.4,411.4 231.9,411.3 232.5,411.2 233.0,411.1 233.5,411.0 234.0,410.9 234.5,410.8 235.0,410.7 235.5,410.6 236.1,410.4 236.6,410.3 237.1,410.2 237.6,410.1 238.1,410.0 238.6,409.9 239.2,409.7 239.7,409.5 240.2,409.3 240.7,409.0 241.2,408.7 241.7,408.3 242.2,408.0 242.8,407.6 243.3,407.2 243.8,406.8 244.3,406.4 244.8,406.0 245.3,405.6 245.9,405.2 246.4,404.8 246.9,404.5 247.4,404.1 247.9,403.6 248.4,403.0 248.9,402.5 249.5,401.9 250.0,401.3 250.5,400.6 251.0,400.0 251.5,399.3 252.0,398.7 252.6,398.0 253.1,397.3 253.6,396.6 254.1,395.9 254.6,395.2 255.1,394.5 255.6,393.8 256.2,393.0 256.7,392.3 257.2,391.5 257.7,390.8 258.2,390.0 258.7,389.3 259.3,388.5 259.8,387.7 260.3,387.0 260.8,386.3 261.3,385.8 261.8,385.3 262.4,384.9 262.9,384.3 263.4,383.8 263.9,383.2 264.4,382.7 264.9,382.2 265.4,381.7 266.0,381.3 266.5,380.8 267.0,380.3 267.5,379.9 268.0,379.6 268.5,379.3 269.1,379.0 269.6,378.7 270.1,378.5 270.6,378.3 271.1,378.1 271.6,377.9 272.1,377.8 272.7,377.6 273.2,377.5 273.7,377.2 274.2,377.1 274.7,376.9 275.2,376.7 275.8,376.5 276.3,376.3 276.8,376.0 277.3,375.7 277.8,375.3 278.3,374.9 278.8,374.6 279.4,374.3 279.9,374.0 280.4,373.7 280.9,373.4 281.4,373.1 281.9,372.9 282.5,372.6 283.0,372.4 283.5,372.2 284.0,372.0 284.5,371.8 285.0,371.6 285.5,371.3 286.1,371.1 286.6,370.8 287.1,370.6 287.6,370.4 288.1,370.1 288.6,369.9 289.2,369.7 289.7,369.6 290.2,369.5 290.7,369.5 291.2,369.5 291.7,369.6 292.2,369.7 292.8,369.7 293.3,369.8 293.8,370.0 294.3,370.3 294.8,370.5 295.3,370.6 295.9,370.7 296.4,370.8 296.9,370.9 297.4,371.0 297.9,371.1 298.4,371.0 298.9,370.9 299.5,370.8 300.0,370.6 300.5,370.4 301.0,370.1 301.5,369.9 302.0,369.6 302.6,369.3 303.1,369.0 303.6,368.7 304.1,368.3 304.6,368.0 305.1,367.7 305.6,367.3 306.2,367.0 306.7,366.6 307.2,366.4 307.7,366.2 308.2,365.9 308.7,365.7 309.3,365.5 309.8,365.3 310.3,365.1 310.8,365.0 311.3,364.8 311.8,364.7 312.4,364.6 312.9,364.4 313.4,364.2 313.9,364.0 314.4,363.9 314.9,363.6 315.4,363.4 316.0,363.2 316.5,363.1 317.0,362.9 317.5,362.8 318.0,362.7 318.5,362.6 319.1,362.6 319.6,362.5 320.1,362.5 320.6,362.4 321.1,362.4 321.6,362.5 322.1,362.5 322.7,362.5 323.2,362.5 323.7,362.6 324.2,362.6 324.7,362.6 325.2,362.5 325.8,362.5 326.3,362.5 326.8,362.7 327.3,362.9 327.8,363.1 328.3,363.3 328.8,363.6 329.4,363.9 329.9,364.3 330.4,364.7 330.9,365.0 331.4,365.5 331.9,365.9 332.5,366.3 333.0,366.8 333.5,367.3 334.0,367.9 334.5,368.5 335.0,369.3 335.5,370.0 336.1,370.9 336.6,371.6 337.1,372.3 337.6,373.0 338.1,373.7 338.6,374.4 339.2,375.2 339.7,375.9 340.2,376.7 340.7,377.4 341.2,378.2 341.7,378.9 342.2,379.6 342.8,380.3 343.3,380.9 343.8,381.6 344.3,382.3 344.8,383.0 345.3,383.8 345.9,384.5 346.4,385.2 346.9,386.0 347.4,386.8 347.9,387.7 348.4,388.5 348.9,389.4 349.5,390.2 350.0,391.1 350.5,392.1 351.0,393.0 351.5,393.9 352.0,394.8 352.6,395.6 353.1,396.5 353.6,397.3 354.1,398.1 354.6,398.7 355.1,399.4 355.6,400.0 356.2,400.6 356.7,401.2 357.2,401.8 357.7,402.3 358.2,402.6 358.7,402.9 359.3,403.2 359.8,403.5 360.3,403.7 360.8,403.9 361.3,404.1 361.8,404.3 362.4,404.4 362.9,404.6 363.4,404.8 363.9,405.0 364.4,405.1 364.9,405.2 365.4,405.3 366.0,405.3 366.5,405.2 367.0,405.2 367.5,405.1 368.0,405.2 368.5,405.3 369.1,405.4 369.6,405.5 370.1,405.5 370.6,405.6 371.1,405.7 371.6,405.9 372.1,406.1 372.7,406.3 373.2,406.6 373.7,406.9 374.2,407.2 374.7,407.5 375.2,407.7 375.8,407.8 376.3,407.8 376.8,407.8 377.3,407.8 377.8,407.7 378.3,407.6 378.8,407.5 379.4,407.3 379.9,407.2 380.4,407.0 380.9,406.7 381.4,406.5 381.9,406.2 382.5,405.8 383.0,405.5 383.5,405.1 384.0,404.7 384.5,404.2 385.0,403.8 385.5,403.5 386.1,403.2 386.6,402.9 387.1,402.7 387.6,402.4 388.1,402.3 388.6,402.1 389.2,402.0 389.7,401.9 390.2,401.8 390.7,401.7 391.2,401.7 391.7,401.8 392.2,401.8 392.8,401.9 393.3,402.0 393.8,402.0 394.3,402.1 394.8,402.2 395.3,402.3 395.9,402.4 396.4,402.6 396.9,402.7 397.4,402.9 397.9,403.1 398.4,403.3 398.9,403.5 399.5,403.6 400.0,403.8 400.5,403.9 401.0,404.1 401.5,404.3 402.0,404.4 402.6,404.6 403.1,404.8 403.6,405.0 404.1,405.2 404.6,405.3 405.1,405.5 405.6,405.6 406.2,405.9 406.7,406.2 407.2,406.5 407.7,407.0 408.2,407.4 408.7,407.9 409.3,408.4 409.8,408.9 410.3,409.4 410.8,409.9 411.3,410.3 411.8,410.7 412.4,411.1 412.9,411.5 413.4,411.8 413.9,412.1 414.4,412.4 414.9,412.7 415.4,412.9 416.0,413.2 416.5,413.4 417.0,413.7 417.5,414.0 418.0,414.3 418.5,414.5 419.1,414.7 419.6,414.9 420.1,415.1 420.6,415.3 421.1,415.6 421.6,415.8 422.1,416.0 422.7,416.3 423.2,416.5 423.7,416.7 424.2,416.8 424.7,417.0 425.2,417.1 425.8,417.2 426.3,417.2 426.8,417.2 427.3,417.2 427.8,417.2 428.3,417.1 428.8,417.1 429.4,417.0 429.9,417.0 430.4,416.9 430.9,416.8 431.4,416.8 431.9,416.6 432.5,416.5 433.0,416.3 433.5,416.0 434.0,415.8 434.5,415.6 435.0,415.3 435.5,415.1 436.1,414.9 436.6,414.7 437.1,414.5 437.6,414.3 438.1,414.1 438.6,413.9 439.2,413.8 439.7,413.6 440.2,413.4 440.7,413.2 441.2,412.9 441.7,412.7 442.2,412.5 442.8,412.3 443.3,412.2 443.8,412.1 444.3,412.0 444.8,412.0 445.3,412.0 445.9,412.0 446.4,412.1 446.9,412.1 447.4,412.2 447.9,412.2 448.4,412.3 448.9,412.3 449.5,412.3 450.0,412.4 450.5,412.5 451.0,412.7 451.5,412.8 452.0,412.9 452.6,413.0 453.1,413.1 453.6,413.3 454.1,413.4 454.6,413.6 455.1,413.7 455.6,413.9 456.2,414.1 456.7,414.3 457.2,414.5 457.7,414.7 458.2,415.0 458.7,415.2 459.3,415.5 459.8,415.7 460.3,416.0 460.8,416.2 461.3,416.5 461.8,416.8 462.4,417.1 462.9,417.4 463.4,417.8 463.9,418.1 464.4,418.5 464.9,418.8 465.4,419.0 466.0,419.2 466.5,419.5 467.0,419.6 467.5,419.8 468.0,419.9 468.5,420.0 469.1,420.1 469.6,420.2 470.1,420.2 470.6,420.2 471.1,420.2 471.6,420.2 472.1,420.1 472.7,420.1 473.2,420.0 473.7,419.8 474.2,419.6 474.7,419.5 475.2,419.3 475.8,419.1 476.3,418.8 476.8,418.5 477.3,418.2 477.8,417.8 478.3,417.5 478.8,417.1 479.4,416.7 479.9,416.4 480.4,416.1 480.9,415.8 481.4,415.4 481.9,415.1 482.5,414.8 483.0,414.4 483.5,414.0 484.0,413.5 484.5,413.0 485.0,412.5 485.5,412.1 486.1,411.6 486.6,411.1 487.1,410.6 487.6,410.1 488.1,409.6 488.6,409.2 489.2,408.8 489.7,408.4 490.2,408.1 490.7,407.7 491.2,407.3 491.7,406.9 492.2,406.6 492.8,406.3 493.3,405.9 493.8,405.6 494.3,405.3 494.8,404.9 495.3,404.6 495.9,404.3 496.4,404.1 496.9,403.8 497.4,403.6 497.9,403.5 498.4,403.3 498.9,403.3 499.5,403.3 500.0,403.3 500.5,403.3 501.0,403.4 501.5,403.5 502.0,403.7 502.6,403.9 503.1,404.1 503.6,404.3 504.1,404.5 504.6,404.8 505.1,405.0 505.6,405.3 506.2,405.6 506.7,405.9 507.2,406.3 507.7,406.7 508.2,407.2 508.7,407.6 509.3,408.1 509.8,408.6 510.3,409.1 510.8,409.6 511.3,410.0 511.8,410.5 512.4,411.0 512.9,411.4 513.4,411.9 513.9,412.5 514.4,413.0 514.9,413.6 515.4,414.2 516.0,414.8 516.5,415.4 517.0,415.8 517.5,416.3 518.0,416.7 518.5,417.2 519.1,417.6 519.6,418.1 520.1,418.5 520.6,418.9 521.1,419.3 521.6,419.8 522.1,420.2 522.7,420.6 523.2,421.0 523.7,421.4 524.2,421.7 524.7,422.0 525.2,422.3 525.8,422.6 526.3,422.9 526.8,423.2 527.3,423.5 527.8,423.8 528.3,424.1 528.8,424.3 529.4,424.6 529.9,424.8 530.4,425.0 530.9,425.2 531.4,425.3 531.9,425.5 532.5,425.7 533.0,425.9 533.5,426.1 534.0,426.3 534.5,426.5 535.0,426.8 535.5,427.1 536.1,427.4 536.6,427.7 537.1,428.0 537.6,428.3 538.1,428.6 538.6,428.8 539.2,429.1 539.7,429.4 540.2,429.6 540.7,429.8 541.2,430.0 541.7,430.2 542.2,430.3 542.8,430.4 543.3,430.5 543.8,430.6 544.3,430.7 544.8,430.8 545.3,430.9 545.9,431.0 546.4,431.0 546.9,431.1 547.4,431.2 547.9,431.5 548.4,431.7 548.9,432.0 549.5,432.3 550.0,432.6 550.5,432.9 551.0,433.2 551.5,433.4 552.0,433.5 552.6,433.7 553.1,433.9 553.6,434.1 554.1,434.3 554.6,434.6 555.1,434.8 555.6,435.1 556.2,435.5 556.7,435.8 557.2,436.2 557.7,436.6 558.2,437.0 558.7,437.4 559.3,437.9 559.8,438.3 560.3,438.7 560.8,439.1 561.3,439.5 561.8,439.9 562.4,440.2 562.9,440.5 563.4,440.9 563.9,441.2 564.4,441.5 564.9,441.7 565.4,442.0 566.0,442.2 566.5,442.5 567.0,442.8 567.5,443.1 568.0,443.4 568.5,443.6 569.1,443.9 569.6,444.1 570.1,444.3 570.6,444.5 571.1,444.7 571.6,444.8 572.1,445.0 572.7,445.1 573.2,445.3 573.7,445.4 574.2,445.6 574.7,445.7 575.2,445.9 575.8,446.0 576.3,446.2 576.8,446.3 577.3,446.4 577.8,446.5 578.3,446.6 578.8,446.6 579.4,446.7 579.9,446.7 580.4,446.7 580.9,446.7 581.4,446.8 581.9,446.8 582.5,446.9 583.0,447.0 583.5,447.1 584.0,447.2 584.5,447.3 585.0,447.4 585.5,447.4 586.1,447.4 586.6,447.5 587.1,447.5 587.6,447.4 588.1,447.4 588.6,447.3 589.2,447.3 589.7,447.2 590.2,447.1 590.7,447.0 591.2,446.9 591.7,446.8 592.2,446.7 592.8,446.7 593.3,446.6 593.8,446.5 594.3,446.4 594.8,446.3 595.3,446.2 595.9,446.1 596.4,446.0 596.9,445.8 597.4,445.6 597.9,445.4 598.4,445.1 598.9,444.8 599.5,444.5 600.0,444.2 600.5,444.0 601.0,443.7 601.5,443.5 602.0,443.2 602.6,443.0 603.1,442.8 603.6,442.6 604.1,442.4 604.6,442.2 605.1,442.0 605.6,441.8 606.2,441.6 606.7,441.4 607.2,441.2 607.7,441.1 608.2,440.9 608.7,440.8 609.3,440.7 609.8,440.5 610.3,440.4 610.8,440.3 611.3,440.1 611.8,439.9 612.4,439.7 612.9,439.5 613.4,439.2 613.9,438.9 614.4,438.6 614.9,438.3 615.4,437.9 616.0,437.5 616.5,437.0 617.0,436.5 617.5,435.9 618.0,435.2 618.5,434.5 619.1,433.7 619.6,432.9 620.1,432.2 620.6,431.5 621.1,430.8 621.6,430.1 622.1,429.3 622.7,428.6 623.2,427.9 623.7,427.2 624.2,426.6 624.7,426.0 625.2,425.4 625.8,424.7 626.3,424.0 626.8,423.3 627.3,422.5 627.8,421.8 628.3,421.1 628.8,420.4 629.4,419.8 629.9,419.1 630.4,418.5 630.9,417.8 631.4,417.2 631.9,416.6 632.5,416.1 633.0,415.6 633.5,415.1 634.0,414.7 634.5,414.2 635.0,413.7 635.5,413.3 636.1,412.9 636.6,412.4 637.1,412.0 637.6,411.5 638.1,410.9 638.6,410.4 639.2,409.8 639.7,409.3 640.2,408.7 640.7,408.1 641.2,407.6 641.7,407.0 642.2,406.4 642.8,405.8 643.3,405.2 643.8,404.6 644.3,404.0 644.8,403.4 645.3,402.8 645.9,402.2 646.4,401.7 646.9,401.2 647.4,400.7 647.9,400.2 648.4,399.8 648.9,399.5 649.5,399.1 650.0,398.8 650.5,398.4 651.0,398.0 651.5,397.5 652.0,396.9 652.6,396.3 653.1,395.8 653.6,395.1 654.1,394.4 654.6,393.5 655.1,392.5 655.6,391.5 656.2,390.5 656.7,389.5 657.2,388.5 657.7,387.5 658.2,386.3 658.7,385.0 659.3,383.7 659.8,382.3 660.3,380.8 660.8,379.2 661.3,377.7 661.8,376.1 662.4,374.3 662.9,372.5 663.4,370.8 663.9,369.1 664.4,367.4 664.9,365.8 665.4,364.2 666.0,362.5 666.5,360.7 667.0,358.9 667.5,357.2 668.0,355.4 668.5,353.7 669.1,352.1 669.6,350.5 670.1,348.8 670.6,347.1 671.1,345.4 671.6,343.5 672.1,341.7 672.7,339.7 673.2,337.7 673.7,335.6 674.2,333.5 674.7,331.3 675.2,329.1 675.8,326.9 676.3,324.5 676.8,322.0 677.3,319.4 677.8,316.7 678.3,314.0 678.8,311.1 679.4,308.2 679.9,305.3 680.4,302.4 680.9,299.5 681.4,296.6 681.9,293.7 682.5,290.7 683.0,287.8 683.5,284.8 684.0,282.0 684.5,279.3 685.0,276.8 685.5,274.4 686.1,272.0 686.6,269.6 687.1,267.1 687.6,264.7 688.1,262.5 688.6,260.4 689.2,258.5 689.7,256.8 690.2,255.1 690.7,253.6 691.2,252.1 691.7,250.6 692.2,249.0 692.8,247.4 693.3,245.7 693.8,244.0 694.3,242.0 694.8,239.9 695.3,237.6 695.9,235.2 696.4,232.6 696.9,230.0 697.4,227.5 697.9,224.8 698.4,221.9 698.9,219.0 699.5,215.9 700.0,212.6 700.5,209.2 701.0,205.9 701.5,202.4 702.0,198.8 702.6,195.2 703.1,191.7 703.6,188.4 704.1,185.0 704.6,181.6 705.1,178.2 705.6,174.7 706.2,171.0 706.7,167.3 707.2,163.8 707.7,160.5 708.2,157.2 708.7,154.2 709.3,151.2 709.8,148.5 710.3,146.0 710.8,143.7 711.3,141.3 711.8,139.1 712.4,136.8 712.9,134.8 713.4,132.9 713.9,131.3 714.4,129.9 714.9,128.6 715.4,127.4 716.0,126.1 716.5,124.9 717.0,123.6 717.5,122.3 718.0,121.2 718.5,120.0 719.1,118.5 719.6,117.0 720.1,115.3 720.6,113.3 721.1,111.3 721.6,109.1 722.1,106.8 722.7,104.5 723.2,102.4 723.7,100.6 724.2,99.3 724.7,98.3 725.2,97.5 725.8,97.0 726.3,96.5 726.8,96.3 727.3,96.3 727.8,96.4 728.3,96.8 728.8,97.5 729.4,98.4 729.9,99.4 730.4,100.4 730.9,101.6 731.4,103.0 731.9,104.6 732.5,106.4 733.0,108.2 733.5,110.4 734.0,112.6 734.5,115.0 735.0,117.7 735.5,120.4 736.1,123.4 736.6,126.7 737.1,130.3 737.6,134.1 738.1,137.8 738.6,141.6 739.2,145.1 739.7,148.4 740.2,151.6 740.7,154.6 741.2,157.5 741.7,160.3 742.2,163.0 742.8,165.6 743.3,168.1 743.8,170.6 744.3,173.1 744.8,175.4 745.3,177.6 745.9,179.7 746.4,181.6 746.9,183.4 747.4,185.3 747.9,187.5 748.4,189.8 748.9,192.1 749.5,194.5 750.0,197.2 750.5,200.1 751.0,203.2 751.5,206.4 752.0,209.9 752.6,213.5 753.1,217.3 753.6,221.1 754.1,224.7 754.6,228.2 755.1,231.4 755.6,234.3 756.2,237.1 756.7,239.8 757.2,242.5 757.7,245.1 758.2,247.6 758.7,250.1 759.3,252.5 759.8,254.9 760.3,257.2 760.8,259.6 761.3,262.2 761.8,264.8 762.4,267.4 762.9,269.9 763.4,272.5 763.9,275.1 764.4,277.5 764.9,279.9 765.4,282.0 766.0,284.2 766.5,286.3 767.0,288.3 767.5,290.2 768.0,292.0 768.5,293.7 769.1,295.3 769.6,297.0 770.1,299.0 770.6,301.2 771.1,303.5 771.6,306.0 772.1,308.5 772.7,311.1 773.2,313.8 773.7,316.6 774.2,319.4 774.7,322.0 775.2,324.6 775.8,327.1 776.3,329.5 776.8,331.8 777.3,334.1 777.8,336.4 778.3,338.5 778.8,340.5 779.4,342.3 779.9,344.0 780.4,345.6 780.9,347.1 781.4,348.4 781.9,349.7 782.5,351.0 783.0,352.3 783.5,353.5 784.0,354.6 784.5,355.9 785.0,357.1 785.5,358.4 786.1,359.6 786.6,360.8 787.1,362.0 787.6,363.2 788.1,364.3 788.6,365.4 789.2,366.3 789.7,367.1 790.2,367.7 790.7,368.3 791.2,368.7 791.7,369.1 792.2,369.4 792.8,369.6 793.3,369.8 793.8,370.0 794.3,370.1 794.8,370.4 795.3,370.6 795.9,370.8 796.4,370.9 796.9,370.8 797.4,370.7 797.9,370.6 798.4,370.3 798.9,370.0 799.5,369.6 800.0,369.3 800.5,368.9 801.0,368.3 801.5,367.6 802.0,366.8 802.6,365.9 803.1,365.1 803.6,364.1 804.1,363.2 804.6,362.1 805.1,361.0 805.6,360.0 806.2,359.1 806.7,358.1 807.2,357.1 807.7,356.0 808.2,355.0 808.7,353.9 809.3,352.9 809.8,351.8 810.3,350.7 810.8,349.6 811.3,348.6 811.8,347.4 812.4,346.2 812.9,344.9 813.4,343.6 813.9,342.3 814.4,340.9 814.9,339.4 815.4,337.8 816.0,336.1 816.5,334.4 817.0,332.6 817.5,330.8 818.0,329.0 818.5,327.1 819.1,325.2 819.6,323.4 820.1,321.6 820.6,320.0 821.1,318.3 821.6,316.6 822.1,315.1 822.7,313.7 823.2,312.4 823.7,311.0 824.2,309.7 824.7,308.4 825.2,307.1 825.8,305.8 826.3,304.6 826.8,303.4 827.3,302.4 827.8,301.6 828.3,300.8 828.8,300.1 829.4,299.5 829.9,298.9 830.4,298.4 830.9,297.9 831.4,297.4 831.9,296.9 832.5,296.4 833.0,295.7 833.5,295.0 834.0,294.3 834.5,293.5 835.0,292.6 835.5,291.8 836.1,291.0 836.6,290.1 837.1,289.4 837.6,288.7 838.1,288.0 838.6,287.2 839.2,286.5 839.7,285.8 840.2,285.0 840.7,284.1 841.2,283.5 841.7,282.7 842.2,282.0 842.8,281.3 843.3,280.7 843.8,280.1 844.3,279.5 844.8,279.0 845.3,278.5 845.9,278.1 846.4,277.7 846.9,277.5 847.4,277.2 847.9,277.0 848.4,276.9 848.9,276.8 849.5,276.8 850.0,276.9 850.5,277.1 851.0,277.4 851.5,277.8 852.0,278.3 852.6,278.9 853.1,279.3 853.6,279.7 854.1,280.0 854.6,280.3 855.1,280.5 855.6,280.6 856.2,280.6 856.4,280.6" fill="none" stroke="#303030" stroke-width="1.25" stroke-linejoin="round" shape-rendering="crispEdges" />
<polyline points="3.1,486.0 3.6,485.9 4.1,485.9 4.6,485.8 5.1,485.8 5.6,485.8 6.2,485.7 6.7,485.6 7.2,485.6 7.7,485.5 8.2,485.5 8.7,485.4 9.3,485.3 9.8,485.2 10.3,485.2 10.8,485.1 11.3,485.0 11.8,484.9 12.4,484.8 12.9,484.7 13.4,484.6 13.9,484.5 14.4,484.4 14.9,484.4 15.4,484.3 16.0,484.2 16.5,484.1 17.0,484.1 17.5,484.0 18.0,484.0 18.5,483.9 19.1,483.9 19.6,483.8 20.1,483.7 20.6,483.6 21.1,483.5 21.6,483.4 22.1,483.3 22.7,483.2 23.2,483.0 23.7,482.9 24.2,482.8 24.7,482.6 25.2,482.4 25.8,482.2 26.3,482.0 26.8,481.9 27.3,481.7 27.8,481.5 28.3,481.3 28.8,481.1 29.4,481.0 29.9,480.8 30.4,480.7 30.9,480.5 31.4,480.3 31.9,480.1 32.5,479.8 33.0,479.5 33.5,479.3 34.0,478.9 34.5,478.6 35.0,478.3 35.5,478.1 36.1,477.8 36.6,477.4 37.1,477.1 37.6,476.7 38.1,476.4 38.6,476.1 39.2,475.8 39.7,475.5 40.2,475.2 40.7,474.9 41.2,474.6 41.7,474.4 42.2,474.1 42.8,473.8 43.3,473.5 43.8,473.2 44.3,473.0 44.8,472.7 45.3,472.4 45.9,472.0 46.4,471.7 46.9,471.3 47.4,471.0 47.9,470.6 48.4,470.2 48.9,469.8 49.5,469.4 50.0,469.0 50.5,468.6 51.0,468.1 51.5,467.7 52.0,467.2 52.6,466.8 53.1,466.3 53.6,465.8 54.1,465.3 54.6,464.8 55.1,464.3 55.6,463.8 56.2,463.3 56.7,462.8 57.2,462.3 57.7,461.8 58.2,461.2 58.7,460.7 59.3,460.1 59.8,459.6 60.3,459.1 60.8,458.7 61.3,458.2 61.8,457.8 62.4,457.3 62.9,456.9 63.4,456.5 63.9,456.1 64.4,455.7 64.9,455.3 65.4,454.9 66.0,454.6 66.5,454.2 67.0,453.9 67.5,453.6 68.0,453.3 68.5,453.0 69.1,452.7 69.6,452.5 70.1,452.2 70.6,452.0 71.1,451.7 71.6,451.5 72.1,451.3 72.7,451.0 73.2,450.8 73.7,450.6 74.2,450.3 74.7,450.1 75.2,449.9 75.8,449.7 76.3,449.5 76.8,449.3 77.3,449.1 77.8,448.9 78.3,448.6 78.8,448.4 79.4,448.2 79.9,448.0 80.4,447.8 80.9,447.5 81.4,447.3 81.9,447.0 82.5,446.8 83.0,446.5 83.5,446.3 84.0,446.1 84.5,445.9 85.0,445.7 85.5,445.5 86.1,445.3 86.6,445.1 87.1,444.9 87.6,444.7 88.1,444.6 88.6,444.4 89.2,444.3 89.7,444.2 90.2,444.1 90.7,443.9 91.2,443.8 91.7,443.7 92.2,443.6 92.8,443.4 93.3,443.3 93.8,443.2 94.3,443.0 94.8,442.9 95.3,442.8 95.9,442.7 96.4,442.6 96.9,442.6 97.4,442.5 97.9,442.5 98.4,442.5 98.9,442.5 99.5,442.5 100.0,442.4 100.5,442.3 101.0,442.1 101.5,442.0 102.0,441.8 102.6,441.6 103.1,441.4 103.6,441.2 104.1,441.0 104.6,440.8 105.1,440.6 105.6,440.4 106.2,440.1 106.7,439.9 107.2,439.7 107.7,439.5 108.2,439.3 108.7,439.1 109.3,438.9 109.8,438.8 110.3,438.6 110.8,438.5 111.3,438.4 111.8,438.4 112.4,438.3 112.9,438.2 113.4,438.2 113.9,438.1 114.4,438.1 114.9,438.0 115.4,438.0 116.0,437.9 116.5,437.9 117.0,437.8 117.5,437.8 118.0,437.8 118.5,437.7 119.1,437.7 119.6,437.7 120.1,437.7 120.6,437.7 121.1,437.8 121.6,437.8 122.1,437.8 122.7,437.9 123.2,437.9 123.7,438.0 124.2,438.0 124.7,438.0 125.2,438.0 125.8,437.9 126.3,437.9 126.8,437.9 127.3,437.8 127.8,437.8 128.3,437.7 128.8,437.6 129.4,437.6 129.9,437.5 130.4,437.4 130.9,437.3 131.4,437.2 131.9,437.1 132.5,437.0 133.0,436.9 133.5,436.8 134.0,436.7 134.5,436.6 135.0,436.5 135.5,436.4 136.1,436.3 136.6,436.2 137.1,436.2 137.6,436.1 138.1,436.0 138.6,436.0 139.2,436.0 139.7,436.0 140.2,436.0 140.7,436.0 141.2,436.0 141.7,436.0 142.2,436.0 142.8,436.0 143.3,436.0 143.8,436.0 144.3,435.9 144.8,435.9 145.3,435.9 145.9,435.8 146.4,435.8 146.9,435.7 147.4,435.7 147.9,435.6 148.4,435.6 148.9,435.5 149.5,435.5 150.0,435.4 150.5,435.3 151.0,435.3 151.5,435.2 152.0,435.2 152.6,435.1 153.1,435.1 153.6,435.0 154.1,434.9 154.6,434.9 155.1,434.8 155.6,434.7 156.2,434.7 156.7,434.6 157.2,434.6 157.7,434.5 158.2,434.5 158.7,434.4 159.3,434.4 159.8,434.3 160.3,434.3 160.8,434.2 161.3,434.2 161.8,434.2 162.4,434.2 162.9,434.2 163.4,434.2 163.9,434.2 164.4,434.2 164.9,434.3 165.4,434.3 166.0,434.4 166.5,434.4 167.0,434.5 167.5,434.6 168.0,434.7 168.5,434.7 169.1,434.8 169.6,434.9 170.1,435.0 170.6,435.1 171.1,435.2 171.6,435.3 172.1,435.4 172.7,435.5 173.2,435.5 173.7,435.6 174.2,435.6 174.7,435.7 175.2,435.7 175.8,435.8 176.3,435.8 176.8,435.8 177.3,435.9 177.8,435.9 178.3,435.9 178.8,436.0 179.4,436.1 179.9,436.2 180.4,436.3 180.9,436.4 181.4,436.5 181.9,436.6 182.5,436.8 183.0,436.9 183.5,437.1 184.0,437.3 184.5,437.5 185.0,437.6 185.5,437.8 186.1,437.9 186.6,438.0 187.1,438.1 187.6,438.2 188.1,438.3 188.6,438.3 189.2,438.4 189.7,438.4 190.2,438.4 190.7,438.3 191.2,438.2 191.7,438.1 192.2,438.0 192.8,437.8 193.3,437.7 193.8,437.5 194.3,437.4 194.8,437.2 195.3,437.1 195.9,436.9 196.4,436.7 196.9,436.6 197.4,436.4 197.9,436.2 198.4,436.0 198.9,435.8 199.5,435.6 200.0,435.4 200.5,435.2 201.0,435.1 201.5,434.9 202.0,434.6 202.6,434.4 203.1,434.1 203.6,433.8 204.1,433.4 204.6,433.1 205.1,432.8 205.6,432.4 206.2,432.1 206.7,431.8 207.2,431.4 207.7,431.1 208.2,430.8 208.7,430.5 209.3,430.2 209.8,430.0 210.3,429.7 210.8,429.5 211.3,429.3 211.8,429.0 212.4,428.8 212.9,428.6 213.4,428.4 213.9,428.2 214.4,428.0 214.9,427.8 215.4,427.6 216.0,427.5 216.5,427.3 217.0,427.1 217.5,427.0 218.0,426.8 218.5,426.7 219.1,426.5 219.6,426.4 220.1,426.3 220.6,426.1 221.1,426.0 221.6,425.9 222.1,425.8 222.7,425.6 223.2,425.5 223.7,425.3 224.2,425.2 224.7,425.0 225.2,424.9 225.8,424.7 226.3,424.6 226.8,424.4 227.3,424.2 227.8,424.0 228.3,423.8 228.8,423.6 229.4,423.3 229.9,423.1 230.4,422.7 230.9,422.4 231.4,422.0 231.9,421.6 232.5,421.3 233.0,420.9 233.5,420.5 234.0,420.1 234.5,419.7 235.0,419.3 235.5,418.9 236.1,418.4 236.6,418.0 237.1,417.6 237.6,417.2 238.1,416.8 238.6,416.4 239.2,415.9 239.7,415.5 240.2,415.1 240.7,414.6 241.2,414.2 241.7,413.8 242.2,413.3 242.8,412.9 243.3,412.5 243.8,412.0 244.3,411.6 244.8,411.1 245.3,410.7 245.9,410.2 246.4,409.8 246.9,409.4 247.4,408.9 247.9,408.4 248.4,407.9 248.9,407.4 249.5,406.9 250.0,406.4 250.5,405.8 251.0,405.4 251.5,404.9 252.0,404.5 252.6,404.0 253.1,403.6 253.6,403.2 254.1,402.8 254.6,402.5 255.1,402.2 255.6,401.9 256.2,401.6 256.7,401.4 257.2,401.1 257.7,400.9 258.2,400.6 258.7,400.4 259.3,400.1 259.8,399.8 260.3,399.6 260.8,399.3 261.3,399.0 261.8,398.7 262.4,398.4 262.9,398.1 263.4,397.8 263.9,397.5 264.4,397.2 264.9,396.9 265.4,396.6 266.0,396.3 266.5,396.0 267.0,395.7 267.5,395.4 268.0,395.2 268.5,395.0 269.1,394.8 269.6,394.5 270.1,394.3 270.6,394.2 271.1,394.0 271.6,393.8 272.1,393.7 272.7,393.5 273.2,393.3 273.7,393.1 274.2,392.8 274.7,392.6 275.2,392.3 275.8,392.1 276.3,391.8 276.8,391.5 277.3,391.2 277.8,390.8 278.3,390.5 278.8,390.1 279.4,389.8 279.9,389.4 280.4,389.0 280.9,388.5 281.4,388.1 281.9,387.7 282.5,387.3 283.0,386.8 283.5,386.4 284.0,386.0 284.5,385.6 285.0,385.2 285.5,384.7 286.1,384.3 286.6,383.8 287.1,383.4 287.6,382.9 288.1,382.4 288.6,382.0 289.2,381.5 289.7,381.0 290.2,380.6 290.7,380.2 291.2,379.8 291.7,379.4 292.2,379.1 292.8,378.8 293.3,378.5 293.8,378.2 294.3,377.9 294.8,377.7 295.3,377.6 295.9,377.4 296.4,377.1 296.9,376.9 297.4,376.7 297.9,376.5 298.4,376.3 298.9,376.0 299.5,375.8 300.0,375.6 300.5,375.3 301.0,375.1 301.5,374.8 302.0,374.6 302.6,374.3 303.1,374.1 303.6,373.8 304.1,373.5 304.6,373.3 305.1,373.0 305.6,372.7 306.2,372.5 306.7,372.2 307.2,372.0 307.7,371.8 308.2,371.5 308.7,371.3 309.3,371.1 309.8,370.8 310.3,370.5 310.8,370.2 311.3,369.9 311.8,369.6 312.4,369.4 312.9,369.2 313.4,368.9 313.9,368.7 314.4,368.5 314.9,368.3 315.4,368.1 316.0,367.9 316.5,367.6 317.0,367.4 317.5,367.3 318.0,367.1 318.5,366.9 319.1,366.8 319.6,366.6 320.1,366.5 320.6,366.3 321.1,366.3 321.6,366.2 322.1,366.2 322.7,366.2 323.2,366.3 323.7,366.3 324.2,366.4 324.7,366.5 325.2,366.5 325.8,366.5 326.3,366.6 326.8,366.7 327.3,366.9 327.8,367.0 328.3,367.2 328.8,367.3 329.4,367.5 329.9,367.7 330.4,367.8 330.9,368.0 331.4,368.2 331.9,368.3 332.5,368.4 333.0,368.6 333.5,368.7 334.0,368.9 334.5,369.0 335.0,369.2 335.5,369.4 336.1,369.6 336.6,369.8 337.1,369.9 337.6,370.1 338.1,370.3 338.6,370.5 339.2,370.7 339.7,370.9 340.2,371.1 340.7,371.4 341.2,371.6 341.7,371.8 342.2,372.0 342.8,372.2 343.3,372.4 343.8,372.7 344.3,372.9 344.8,373.2 345.3,373.4 345.9,373.7 346.4,374.0 346.9,374.3 347.4,374.6 347.9,374.9 348.4,375.2 348.9,375.5 349.5,375.9 350.0,376.3 350.5,376.7 351.0,377.1 351.5,377.5 352.0,378.0 352.6,378.5 353.1,379.0 353.6,379.5 354.1,379.9 354.6,380.3 355.1,380.7 355.6,381.1 356.2,381.4 356.7,381.7 357.2,382.0 357.7,382.3 358.2,382.5 358.7,382.7 359.3,382.9 359.8,383.1 360.3,383.3 360.8,383.6 361.3,383.8 361.8,384.0 362.4,384.2 362.9,384.5 363.4,384.7 363.9,385.0 364.4,385.3 364.9,385.6 365.4,385.9 366.0,386.2 366.5,386.5 367.0,386.8 367.5,387.1 368.0,387.5 368.5,387.8 369.1,388.2 369.6,388.6 370.1,389.1 370.6,389.5 371.1,389.9 371.6,390.3 372.1,390.7 372.7,391.2 373.2,391.6 373.7,392.1 374.2,392.5 374.7,393.0 375.2,393.4 375.8,393.8 376.3,394.2 376.8,394.5 377.3,394.8 377.8,395.2 378.3,395.5 378.8,395.8 379.4,396.2 379.9,396.5 380.4,396.9 380.9,397.2 381.4,397.6 381.9,397.9 382.5,398.2 383.0,398.5 383.5,398.9 384.0,399.2 384.5,399.5 385.0,399.8 385.5,400.1 386.1,400.3 386.6,400.5 387.1,400.7 387.6,400.8 388.1,401.0 388.6,401.2 389.2,401.4 389.7,401.6 390.2,401.8 390.7,401.9 391.2,402.1 391.7,402.2 392.2,402.3 392.8,402.5 393.3,402.6 393.8,402.7 394.3,402.9 394.8,403.0 395.3,403.2 395.9,403.3 396.4,403.5 396.9,403.7 397.4,403.8 397.9,404.0 398.4,404.1 398.9,404.2 399.5,404.3 400.0,404.4 400.5,404.5 401.0,404.6 401.5,404.8 402.0,405.0 402.6,405.1 403.1,405.3 403.6,405.5 404.1,405.6 404.6,405.8 405.1,406.0 405.6,406.2 406.2,406.4 406.7,406.6 407.2,406.8 407.7,407.0 408.2,407.2 408.7,407.4 409.3,407.7 409.8,407.9 410.3,408.1 410.8,408.3 411.3,408.5 411.8,408.7 412.4,408.8 412.9,408.9 413.4,409.0 413.9,409.1 414.4,409.1 414.9,409.1 415.4,409.1 416.0,409.1 416.5,409.0 417.0,409.0 417.5,408.9 418.0,408.8 418.5,408.7 419.1,408.7 419.6,408.7 420.1,408.7 420.6,408.7 421.1,408.7 421.6,408.7 422.1,408.7 422.7,408.8 423.2,408.8 423.7,408.9 424.2,409.0 424.7,409.1 425.2,409.2 425.8,409.3 426.3,409.4 426.8,409.5 427.3,409.5 427.8,409.6 428.3,409.6 428.8,409.7 429.4,409.8 429.9,409.9 430.4,409.9 430.9,410.0 431.4,410.1 431.9,410.2 432.5,410.2 433.0,410.2 433.5,410.3 434.0,410.3 434.5,410.3 435.0,410.3 435.5,410.3 436.1,410.3 436.6,410.3 437.1,410.3 437.6,410.3 438.1,410.2 438.6,410.2 439.2,410.2 439.7,410.3 440.2,410.3 440.7,410.4 441.2,410.6 441.7,410.7 442.2,410.8 442.8,411.0 443.3,411.1 443.8,411.2 444.3,411.4 444.8,411.5 445.3,411.6 445.9,411.8 446.4,411.9 446.9,412.1 447.4,412.2 447.9,412.4 448.4,412.5 448.9,412.7 449.5,412.8 450.0,413.0 450.5,413.2 451.0,413.3 451.5,413.5 452.0,413.7 452.6,413.8 453.1,414.0 453.6,414.2 454.1,414.4 454.6,414.6 455.1,414.8 455.6,415.0 456.2,415.1 456.7,415.3 457.2,415.5 457.7,415.6 458.2,415.7 458.7,415.9 459.3,416.0 459.8,416.2 460.3,416.3 460.8,416.4 461.3,416.5 461.8,416.7 462.4,416.8 462.9,416.9 463.4,417.1 463.9,417.2 464.4,417.3 464.9,417.4 465.4,417.5 466.0,417.5 466.5,417.5 467.0,417.5 467.5,417.5 468.0,417.5 468.5,417.4 469.1,417.3 469.6,417.3 470.1,417.2 470.6,417.2 471.1,417.1 471.6,417.0 472.1,416.9 472.7,416.8 473.2,416.6 473.7,416.5 474.2,416.3 474.7,416.1 475.2,415.9 475.8,415.7 476.3,415.5 476.8,415.3 477.3,415.1 477.8,415.0 478.3,414.8 478.8,414.6 479.4,414.5 479.9,414.3 480.4,414.2 480.9,414.1 481.4,414.0 481.9,413.9 482.5,413.7 483.0,413.6 483.5,413.5 484.0,413.3 484.5,413.2 485.0,413.0 485.5,412.9 486.1,412.7 486.6,412.6 487.1,412.4 487.6,412.2 488.1,412.1 488.6,411.9 489.2,411.8 489.7,411.7 490.2,411.6 490.7,411.6 491.2,411.5 491.7,411.5 492.2,411.4 492.8,411.4 493.3,411.5 493.8,411.4 494.3,411.4 494.8,411.4 495.3,411.4 495.9,411.4 496.4,411.4 496.9,411.4 497.4,411.4 497.9,411.5 498.4,411.5 498.9,411.5 499.5,411.6 500.0,411.7 500.5,411.7 501.0,411.8 501.5,411.9 502.0,412.0 502.6,412.1 503.1,412.1 503.6,412.2 504.1,412.3 504.6,412.3 505.1,412.4 505.6,412.4 506.2,412.5 506.7,412.5 507.2,412.6 507.7,412.7 508.2,412.8 508.7,412.9 509.3,412.9 509.8,413.0 510.3,413.1 510.8,413.1 511.3,413.2 511.8,413.3 512.4,413.4 512.9,413.5 513.4,413.6 513.9,413.7 514.4,413.7 514.9,413.8 515.4,413.9 516.0,414.0 516.5,414.1 517.0,414.1 517.5,414.1 518.0,414.1 518.5,414.0 519.1,414.0 519.6,414.0 520.1,414.0 520.6,414.0 521.1,414.1 521.6,414.1 522.1,414.1 522.7,414.2 523.2,414.2 523.7,414.3 524.2,414.3 524.7,414.3 525.2,414.4 525.8,414.4 526.3,414.4 526.8,414.4 527.3,414.4 527.8,414.3 528.3,414.3 528.8,414.3 529.4,414.3 529.9,414.3 530.4,414.3 530.9,414.4 531.4,414.5 531.9,414.6 532.5,414.7 533.0,414.8 533.5,414.9 534.0,415.1 534.5,415.3 535.0,415.4 535.5,415.6 536.1,415.8 536.6,416.0 537.1,416.3 537.6,416.5 538.1,416.8 538.6,417.1 539.2,417.4 539.7,417.7 540.2,418.0 540.7,418.3 541.2,418.6 541.7,418.9 542.2,419.2 542.8,419.5 543.3,419.8 543.8,420.1 544.3,420.4 544.8,420.7 545.3,421.0 545.9,421.3 546.4,421.6 546.9,421.9 547.4,422.2 547.9,422.5 548.4,422.8 548.9,423.2 549.5,423.6 550.0,423.9 550.5,424.3 551.0,424.6 551.5,425.0 552.0,425.3 552.6,425.6 553.1,426.0 553.6,426.3 554.1,426.7 554.6,427.0 555.1,427.4 555.6,427.7 556.2,428.1 556.7,428.4 557.2,428.8 557.7,429.1 558.2,429.4 558.7,429.8 559.3,430.1 559.8,430.5 560.3,430.8 560.8,431.1 561.3,431.5 561.8,431.8 562.4,432.1 562.9,432.4 563.4,432.7 563.9,433.0 564.4,433.3 564.9,433.5 565.4,433.8 566.0,434.0 566.5,434.3 567.0,434.5 567.5,434.8 568.0,435.0 568.5,435.3 569.1,435.6 569.6,435.8 570.1,436.1 570.6,436.3 571.1,436.6 571.6,436.8 572.1,436.9 572.7,437.1 573.2,437.3 573.7,437.4 574.2,437.6 574.7,437.7 575.2,437.8 575.8,438.0 576.3,438.1 576.8,438.3 577.3,438.4 577.8,438.5 578.3,438.6 578.8,438.7 579.4,438.7 579.9,438.8 580.4,438.8 580.9,439.0 581.4,439.1 581.9,439.3 582.5,439.5 583.0,439.6 583.5,439.8 584.0,440.0 584.5,440.2 585.0,440.3 585.5,440.5 586.1,440.6 586.6,440.8 587.1,440.9 587.6,441.1 588.1,441.2 588.6,441.4 589.2,441.5 589.7,441.7 590.2,441.9 590.7,442.0 591.2,442.2 591.7,442.3 592.2,442.5 592.8,442.7 593.3,442.8 593.8,443.0 594.3,443.1 594.8,443.3 595.3,443.4 595.9,443.5 596.4,443.6 596.9,443.7 597.4,443.7 597.9,443.8 598.4,443.8 598.9,443.8 599.5,443.8 600.0,443.8 600.5,443.8 601.0,443.8 601.5,443.8 602.0,443.7 602.6,443.6 603.1,443.6 603.6,443.5 604.1,443.4 604.6,443.4 605.1,443.3 605.6,443.3 606.2,443.2 606.7,443.2 607.2,443.2 607.7,443.2 608.2,443.2 608.7,443.2 609.3,443.2 609.8,443.2 610.3,443.1 610.8,443.1 611.3,443.1 611.8,443.1 612.4,443.0 612.9,443.0 613.4,442.9 613.9,442.8 614.4,442.7 614.9,442.6 615.4,442.5 616.0,442.4 616.5,442.2 617.0,442.1 617.5,441.8 618.0,441.6 618.5,441.2 619.1,440.9 619.6,440.6 620.1,440.2 620.6,439.9 621.1,439.5 621.6,439.2 622.1,438.8 622.7,438.4 623.2,438.0 623.7,437.7 624.2,437.3 624.7,437.0 625.2,436.6 625.8,436.3 626.3,435.9 626.8,435.5 627.3,435.0 627.8,434.6 628.3,434.2 628.8,433.8 629.4,433.4 629.9,433.0 630.4,432.5 630.9,432.1 631.4,431.7 631.9,431.3 632.5,430.9 633.0,430.4 633.5,430.1 634.0,429.7 634.5,429.3 635.0,429.0 635.5,428.6 636.1,428.3 636.6,428.0 637.1,427.7 637.6,427.4 638.1,427.0 638.6,426.7 639.2,426.4 639.7,426.0 640.2,425.7 640.7,425.3 641.2,424.9 641.7,424.5 642.2,424.1 642.8,423.7 643.3,423.4 643.8,423.0 644.3,422.5 644.8,422.1 645.3,421.7 645.9,421.3 646.4,420.8 646.9,420.4 647.4,419.9 647.9,419.5 648.4,419.0 648.9,418.5 649.5,418.0 650.0,417.4 650.5,416.9 651.0,416.3 651.5,415.7 652.0,415.1 652.6,414.4 653.1,413.8 653.6,413.1 654.1,412.4 654.6,411.6 655.1,410.8 655.6,410.1 656.2,409.3 656.7,408.5 657.2,407.6 657.7,406.8 658.2,405.9 658.7,405.0 659.3,404.1 659.8,403.1 660.3,402.0 660.8,401.0 661.3,400.0 661.8,398.9 662.4,397.8 662.9,396.7 663.4,395.6 663.9,394.6 664.4,393.6 664.9,392.5 665.4,391.5 666.0,390.4 666.5,389.2 667.0,388.2 667.5,387.1 668.0,386.0 668.5,384.9 669.1,383.8 669.6,382.7 670.1,381.6 670.6,380.5 671.1,379.4 671.6,378.2 672.1,377.0 672.7,375.7 673.2,374.4 673.7,373.1 674.2,371.7 674.7,370.3 675.2,368.9 675.8,367.4 676.3,365.9 676.8,364.4 677.3,362.8 677.8,361.1 678.3,359.5 678.8,357.8 679.4,356.1 679.9,354.3 680.4,352.6 680.9,350.9 681.4,349.2 681.9,347.5 682.5,345.8 683.0,344.0 683.5,342.3 684.0,340.7 684.5,339.0 685.0,337.4 685.5,335.8 686.1,334.2 686.6,332.6 687.1,331.0 687.6,329.3 688.1,327.7 688.6,326.0 689.2,324.4 689.7,322.9 690.2,321.4 690.7,319.9 691.2,318.4 691.7,316.9 692.2,315.4 692.8,313.8 693.3,312.1 693.8,310.4 694.3,308.6 694.8,306.8 695.3,304.9 695.9,302.9 696.4,300.9 696.9,298.8 697.4,296.7 697.9,294.6 698.4,292.3 698.9,290.0 699.5,287.6 700.0,285.3 700.5,282.8 701.0,280.3 701.5,277.7 702.0,275.1 702.6,272.4 703.1,269.8 703.6,267.2 704.1,264.5 704.6,261.8 705.1,259.1 705.6,256.3 706.2,253.4 706.7,250.5 707.2,247.6 707.7,244.7 708.2,241.8 708.7,239.0 709.3,236.3 709.8,233.5 710.3,230.9 710.8,228.3 711.3,225.7 711.8,223.1 712.4,220.6 712.9,218.1 713.4,215.6 713.9,213.3 714.4,211.1 714.9,209.0 715.4,207.0 716.0,205.0 716.5,203.1 717.0,201.1 717.5,199.2 718.0,197.3 718.5,195.5 719.1,193.6 719.6,191.7 720.1,189.7 720.6,187.7 721.1,185.7 721.6,183.7 722.1,181.6 722.7,179.6 723.2,177.6 723.7,175.8 724.2,174.2 724.7,172.7 725.2,171.3 725.8,169.9 726.3,168.7 726.8,167.5 727.3,166.4 727.8,165.4 728.3,164.4 728.8,163.6 729.4,162.7 729.9,161.8 730.4,160.9 730.9,160.1 731.4,159.3 731.9,158.5 732.5,157.6 733.0,156.7 733.5,155.8 734.0,155.1 734.5,154.4 735.0,153.8 735.5,153.3 736.1,152.8 736.6,152.5 737.1,152.4 737.6,152.3 738.1,152.2 738.6,152.3 739.2,152.2 739.7,152.1 740.2,152.0 740.7,152.0 741.2,152.0 741.7,152.0 742.2,152.0 742.8,152.0 743.3,152.1 743.8,152.2 744.3,152.4 744.8,152.7 745.3,153.1 745.9,153.5 746.4,154.0 746.9,154.5 747.4,155.1 747.9,155.7 748.4,156.4 748.9,156.9 749.5,157.5 750.0,158.1 750.5,158.7 751.0,159.5 751.5,160.3 752.0,161.1 752.6,161.9 753.1,162.7 753.6,163.4 754.1,164.1 754.6,164.8 755.1,165.5 755.6,166.1 756.2,166.8 756.7,167.5 757.2,168.4 757.7,169.3 758.2,170.2 758.7,171.3 759.3,172.5 759.8,173.7 760.3,175.0 760.8,176.4 761.3,177.9 761.8,179.4 762.4,181.1 762.9,182.9 763.4,184.7 763.9,186.6 764.4,188.6 764.9,190.6 765.4,192.7 766.0,194.9 766.5,197.1 767.0,199.4 767.5,201.7 768.0,204.1 768.5,206.4 769.1,208.8 769.6,211.3 770.1,213.8 770.6,216.6 771.1,219.4 771.6,222.2 772.1,225.0 772.7,227.9 773.2,230.7 773.7,233.5 774.2,236.2 774.7,238.9 775.2,241.4 775.8,244.0 776.3,246.6 776.8,249.1 777.3,251.5 777.8,253.9 778.3,256.1 778.8,258.3 779.4,260.4 779.9,262.4 780.4,264.4 780.9,266.3 781.4,268.3 781.9,270.3 782.5,272.3 783.0,274.3 783.5,276.4 784.0,278.6 784.5,280.7 785.0,283.0 785.5,285.3 786.1,287.7 786.6,290.1 787.1,292.5 787.6,294.9 788.1,297.1 788.6,299.2 789.2,301.1 789.7,302.9 790.2,304.6 790.7,306.3 791.2,307.9 791.7,309.5 792.2,311.0 792.8,312.5 793.3,313.9 793.8,315.3 794.3,316.8 794.8,318.3 795.3,319.8 795.9,321.2 796.4,322.5 796.9,323.8 797.4,325.1 797.9,326.3 798.4,327.4 798.9,328.3 799.5,329.2 800.0,330.1 800.5,330.9 801.0,331.6 801.5,332.2 802.0,332.8 802.6,333.3 803.1,333.9 803.6,334.5 804.1,335.2 804.6,335.9 805.1,336.7 805.6,337.4 806.2,338.1 806.7,338.8 807.2,339.5 807.7,340.3 808.2,340.9 808.7,341.6 809.3,342.1 809.8,342.7 810.3,343.2 810.8,343.7 811.3,344.2 811.8,344.6 812.4,344.9 812.9,345.2 813.4,345.5 813.9,345.7 814.4,345.8 814.9,345.8 815.4,345.7 816.0,345.5 816.5,345.4 817.0,345.1 817.5,344.8 818.0,344.5 818.5,344.3 819.1,343.9 819.6,343.6 820.1,343.2 820.6,342.9 821.1,342.5 821.6,342.1 822.1,341.7 822.7,341.4 823.2,341.0 823.7,340.7 824.2,340.3 824.7,339.9 825.2,339.6 825.8,339.2 826.3,338.8 826.8,338.4 827.3,338.0 827.8,337.6 828.3,337.3 828.8,337.0 829.4,336.6 829.9,336.2 830.4,335.7 830.9,335.3 831.4,334.8 831.9,334.2 832.5,333.6 833.0,333.0 833.5,332.4 834.0,331.7 834.5,330.9 835.0,330.1 835.5,329.2 836.1,328.3 836.6,327.4 837.1,326.5 837.6,325.5 838.1,324.6 838.6,323.6 839.2,322.6 839.7,321.7 840.2,320.6 840.7,319.6 841.2,318.6 841.7,317.7 842.2,316.7 842.8,315.8 843.3,314.9 843.8,314.0 844.3,313.1 844.8,312.2 845.3,311.4 845.9,310.5 846.4,309.6 846.9,308.6 847.4,307.7 847.9,306.7 848.4,305.7 848.9,304.7 849.5,303.7 850.0,302.8 850.5,302.0 851.0,301.2 851.5,300.4 852.0,299.7 852.6,299.0 853.1,298.4 853.6,297.8 854.1,297.3 854.6,296.8 855.1,296.3 855.6,295.8 856.2,295.3 856.4,295.1" fill="none" stroke="#0080f6" stroke-width="1.25" stroke-linejoin="round" shape-rendering="crispEdges" />
</g>
<g id="marks" fill="none" stroke="#ff1a1a" stroke-width="1.4">
<ellipse cx="218" cy="410.1" rx="33.9" ry="45"/>
<ellipse cx="803.5" cy="325.4" rx="27.5" ry="72.1"/>
</g>
<g id="hdr">
<text x="4.16" y="13.9" fill="#262626" textLength="42.66" lengthAdjust="spacingAndGlyphs">999999</text>
<text x="49.16" y="14.4" fill="#262626" textLength="48.67" lengthAdjust="spacingAndGlyphs" class="cj">上证指数</text>
<text x="98.80" y="13.9" fill="#262626" textLength="4.20" lengthAdjust="spacingAndGlyphs">(</text>
<text x="102.17" y="14.4" fill="#262626" textLength="24.67" lengthAdjust="spacingAndGlyphs" class="cj">日线</text>
<text x="127.20" y="13.9" fill="#262626" textLength="3.00" lengthAdjust="spacingAndGlyphs">.</text>
<text x="130.15" y="14.4" fill="#262626" textLength="35.70" lengthAdjust="spacingAndGlyphs" class="cj">前复权</text>
<text x="167.00" y="13.9" fill="#262626" textLength="3.00" lengthAdjust="spacingAndGlyphs">)</text>
<circle cx="181.1" cy="10" r="6" fill="#767676"/>
<path d="M177.9 8.9 L181.1 11.7 L184.3 8.9" fill="none" stroke="#fdfdfd" stroke-width="1.3" stroke-linecap="round" stroke-linejoin="round"/>
<text x="191.13" y="13.9" fill="#262626" textLength="26.74" lengthAdjust="spacingAndGlyphs">MA5:</text>
<text x="220.16" y="13.9" fill="#262626" textLength="44.68" lengthAdjust="spacingAndGlyphs">3062.48</text>
<text x="270.14" y="13.9" fill="#0a7fe0" textLength="32.71" lengthAdjust="spacingAndGlyphs">MA10:</text>
<text x="306.16" y="13.9" fill="#0a7fe0" textLength="43.68" lengthAdjust="spacingAndGlyphs">3043.31</text>
<text x="356.14" y="13.9" fill="#8c008c" textLength="32.71" lengthAdjust="spacingAndGlyphs">MA20:</text>
<text x="392.16" y="13.9" fill="#8c008c" textLength="44.68" lengthAdjust="spacingAndGlyphs">3005.89</text>
<text x="442.14" y="13.9" fill="#808080" textLength="32.71" lengthAdjust="spacingAndGlyphs">MA30:</text>
<text x="478.16" y="13.9" fill="#808080" textLength="44.68" lengthAdjust="spacingAndGlyphs">3037.50</text>
<text x="528.14" y="13.9" fill="#008a00" textLength="32.71" lengthAdjust="spacingAndGlyphs">MA60:</text>
<text x="564.16" y="13.9" fill="#008a00" textLength="44.68" lengthAdjust="spacingAndGlyphs">3128.13</text>
<text x="614.14" y="13.9" fill="#12cdd4" textLength="32.71" lengthAdjust="spacingAndGlyphs">MA90:</text>
<text x="650.18" y="13.9" fill="#12cdd4" textLength="43.82" lengthAdjust="spacingAndGlyphs">3144.64</text>
<text x="700.16" y="13.9" fill="#262626" textLength="39.69" lengthAdjust="spacingAndGlyphs">MA120:</text>
<text x="743.16" y="13.9" fill="#262626" textLength="45.68" lengthAdjust="spacingAndGlyphs">3092.42</text>
<text x="793.14" y="13.9" fill="#0a7fe0" textLength="29.72" lengthAdjust="spacingAndGlyphs">MA25</text>
<path d="M829.5 5.1 L834.8 10.4 L829.5 15.7 L824.2 10.4 Z" fill="none" stroke="#444" stroke-width="1"/>
<rect x="842.6" y="5.4" width="10.6" height="10" rx="2" ry="2" fill="none" stroke="#555" stroke-width="1.2"/>
<rect x="844.2" y="6.9" width="3" height="7" fill="#555"/>
</g>
</svg></body></html>
